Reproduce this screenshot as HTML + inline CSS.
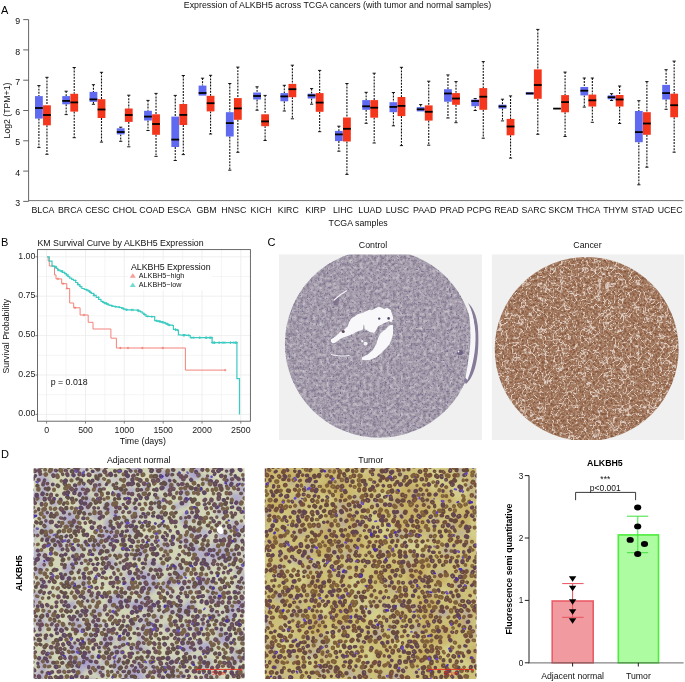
<!DOCTYPE html>
<html><head><meta charset="utf-8"><style>
html,body{margin:0;padding:0;background:#fff;width:685px;height:682px;overflow:hidden}
svg{display:block;will-change:transform}
</style></head><body>
<svg width="685" height="682" viewBox="0 0 685 682">
<text x="1" y="13.6" style="font-family:'Liberation Sans',sans-serif;font-size:11px" fill="#000">A</text>
<text x="337.5" y="8.2" text-anchor="middle" style="font-family:'Liberation Sans',sans-serif;font-size:8.8px" fill="#111">Expression of ALKBH5 across TCGA cancers (with tumor and normal samples)</text>
<line x1="28.6" y1="19.599999999999994" x2="28.6" y2="201.4" stroke="#666" stroke-width="1"/>
<line x1="28.3" y1="200.6" x2="683.5" y2="200.6" stroke="#777" stroke-width="1"/>
<line x1="23.2" y1="201.4" x2="28.6" y2="201.4" stroke="#555" stroke-width="0.9"/>
<text x="20.2" y="206.0" text-anchor="end" style="font-family:'Liberation Sans',sans-serif;font-size:8.8px" fill="#111">3</text>
<line x1="23.2" y1="171.1" x2="28.6" y2="171.1" stroke="#555" stroke-width="0.9"/>
<text x="20.2" y="175.7" text-anchor="end" style="font-family:'Liberation Sans',sans-serif;font-size:8.8px" fill="#111">4</text>
<line x1="23.2" y1="140.8" x2="28.6" y2="140.8" stroke="#555" stroke-width="0.9"/>
<text x="20.2" y="145.4" text-anchor="end" style="font-family:'Liberation Sans',sans-serif;font-size:8.8px" fill="#111">5</text>
<line x1="23.2" y1="110.5" x2="28.6" y2="110.5" stroke="#555" stroke-width="0.9"/>
<text x="20.2" y="115.1" text-anchor="end" style="font-family:'Liberation Sans',sans-serif;font-size:8.8px" fill="#111">6</text>
<line x1="23.2" y1="80.2" x2="28.6" y2="80.2" stroke="#555" stroke-width="0.9"/>
<text x="20.2" y="84.8" text-anchor="end" style="font-family:'Liberation Sans',sans-serif;font-size:8.8px" fill="#111">7</text>
<line x1="23.2" y1="49.9" x2="28.6" y2="49.9" stroke="#555" stroke-width="0.9"/>
<text x="20.2" y="54.5" text-anchor="end" style="font-family:'Liberation Sans',sans-serif;font-size:8.8px" fill="#111">8</text>
<line x1="23.2" y1="19.6" x2="28.6" y2="19.6" stroke="#555" stroke-width="0.9"/>
<text x="20.2" y="24.2" text-anchor="end" style="font-family:'Liberation Sans',sans-serif;font-size:8.8px" fill="#111">9</text>
<text transform="translate(10.2,110.5) rotate(-90)" text-anchor="middle" style="font-family:'Liberation Sans',sans-serif;font-size:8.7px" fill="#111">Log2 (TPM+1)</text>
<text x="358.2" y="225.5" text-anchor="middle" style="font-family:'Liberation Sans',sans-serif;font-size:8.8px" fill="#111">TCGA samples</text>
<text x="42.9" y="213.3" text-anchor="middle" style="font-family:'Liberation Sans',sans-serif;font-size:8.8px" fill="#111">BLCA</text>
<line x1="38.90" y1="85.6" x2="38.90" y2="96.1" stroke="#111" stroke-width="1.1" stroke-dasharray="1.9 1.2"/>
<line x1="37.30" y1="85.6" x2="40.50" y2="85.6" stroke="#000" stroke-width="0.9"/>
<line x1="38.90" y1="118.6" x2="38.90" y2="147.4" stroke="#111" stroke-width="1.1" stroke-dasharray="1.9 1.2"/>
<line x1="37.30" y1="147.4" x2="40.50" y2="147.4" stroke="#000" stroke-width="0.9"/>
<rect x="35.00" y="96.1" width="7.8" height="22.50" fill="#5f6af0"/>
<line x1="35.00" y1="108" x2="42.80" y2="108" stroke="#000" stroke-width="1.8"/>
<line x1="46.95" y1="77.3" x2="46.95" y2="105.3" stroke="#111" stroke-width="1.1" stroke-dasharray="1.9 1.2"/>
<line x1="45.35" y1="77.3" x2="48.55" y2="77.3" stroke="#000" stroke-width="0.9"/>
<line x1="46.95" y1="125.3" x2="46.95" y2="154.3" stroke="#111" stroke-width="1.1" stroke-dasharray="1.9 1.2"/>
<line x1="45.35" y1="154.3" x2="48.55" y2="154.3" stroke="#000" stroke-width="0.9"/>
<rect x="43.05" y="105.3" width="7.8" height="20.00" fill="#f4361c"/>
<line x1="43.05" y1="115" x2="50.85" y2="115" stroke="#000" stroke-width="1.8"/>
<text x="70.2" y="213.3" text-anchor="middle" style="font-family:'Liberation Sans',sans-serif;font-size:8.8px" fill="#111">BRCA</text>
<line x1="66.17" y1="91.2" x2="66.17" y2="96.1" stroke="#111" stroke-width="1.1" stroke-dasharray="1.9 1.2"/>
<line x1="64.57" y1="91.2" x2="67.77" y2="91.2" stroke="#000" stroke-width="0.9"/>
<line x1="66.17" y1="104.3" x2="66.17" y2="114.6" stroke="#111" stroke-width="1.1" stroke-dasharray="1.9 1.2"/>
<line x1="64.57" y1="114.6" x2="67.77" y2="114.6" stroke="#000" stroke-width="0.9"/>
<rect x="62.27" y="96.1" width="7.8" height="8.20" fill="#5f6af0"/>
<line x1="62.27" y1="100.9" x2="70.07" y2="100.9" stroke="#000" stroke-width="1.8"/>
<line x1="74.22" y1="67.5" x2="74.22" y2="93.8" stroke="#111" stroke-width="1.1" stroke-dasharray="1.9 1.2"/>
<line x1="72.62" y1="67.5" x2="75.82" y2="67.5" stroke="#000" stroke-width="0.9"/>
<line x1="74.22" y1="111.6" x2="74.22" y2="137.7" stroke="#111" stroke-width="1.1" stroke-dasharray="1.9 1.2"/>
<line x1="72.62" y1="137.7" x2="75.82" y2="137.7" stroke="#000" stroke-width="0.9"/>
<rect x="70.32" y="93.8" width="7.8" height="17.80" fill="#f4361c"/>
<line x1="70.32" y1="102.4" x2="78.12" y2="102.4" stroke="#000" stroke-width="1.8"/>
<text x="97.4" y="213.3" text-anchor="middle" style="font-family:'Liberation Sans',sans-serif;font-size:8.8px" fill="#111">CESC</text>
<line x1="93.44" y1="84.7" x2="93.44" y2="91.9" stroke="#111" stroke-width="1.1" stroke-dasharray="1.9 1.2"/>
<line x1="91.84" y1="84.7" x2="95.04" y2="84.7" stroke="#000" stroke-width="0.9"/>
<line x1="93.44" y1="101.8" x2="93.44" y2="104.3" stroke="#111" stroke-width="1.1" stroke-dasharray="1.9 1.2"/>
<line x1="91.84" y1="104.3" x2="95.04" y2="104.3" stroke="#000" stroke-width="0.9"/>
<rect x="89.54" y="91.9" width="7.8" height="9.90" fill="#5f6af0"/>
<line x1="89.54" y1="99.4" x2="97.34" y2="99.4" stroke="#000" stroke-width="1.8"/>
<line x1="101.49" y1="72.3" x2="101.49" y2="99.2" stroke="#111" stroke-width="1.1" stroke-dasharray="1.9 1.2"/>
<line x1="99.89" y1="72.3" x2="103.09" y2="72.3" stroke="#000" stroke-width="0.9"/>
<line x1="101.49" y1="118" x2="101.49" y2="142.1" stroke="#111" stroke-width="1.1" stroke-dasharray="1.9 1.2"/>
<line x1="99.89" y1="142.1" x2="103.09" y2="142.1" stroke="#000" stroke-width="0.9"/>
<rect x="97.59" y="99.2" width="7.8" height="18.80" fill="#f4361c"/>
<line x1="97.59" y1="109.5" x2="105.39" y2="109.5" stroke="#000" stroke-width="1.8"/>
<text x="124.7" y="213.3" text-anchor="middle" style="font-family:'Liberation Sans',sans-serif;font-size:8.8px" fill="#111">CHOL</text>
<line x1="120.71" y1="127.2" x2="120.71" y2="128.3" stroke="#111" stroke-width="1.1" stroke-dasharray="1.9 1.2"/>
<line x1="119.11" y1="127.2" x2="122.31" y2="127.2" stroke="#000" stroke-width="0.9"/>
<line x1="120.71" y1="134.4" x2="120.71" y2="141.3" stroke="#111" stroke-width="1.1" stroke-dasharray="1.9 1.2"/>
<line x1="119.11" y1="141.3" x2="122.31" y2="141.3" stroke="#000" stroke-width="0.9"/>
<rect x="116.81" y="128.3" width="7.8" height="6.10" fill="#5f6af0"/>
<line x1="116.81" y1="132" x2="124.61" y2="132" stroke="#000" stroke-width="1.8"/>
<line x1="128.76" y1="95.2" x2="128.76" y2="108.5" stroke="#111" stroke-width="1.1" stroke-dasharray="1.9 1.2"/>
<line x1="127.16" y1="95.2" x2="130.36" y2="95.2" stroke="#000" stroke-width="0.9"/>
<line x1="128.76" y1="121.9" x2="128.76" y2="146.8" stroke="#111" stroke-width="1.1" stroke-dasharray="1.9 1.2"/>
<line x1="127.16" y1="146.8" x2="130.36" y2="146.8" stroke="#000" stroke-width="0.9"/>
<rect x="124.86" y="108.5" width="7.8" height="13.40" fill="#f4361c"/>
<line x1="124.86" y1="115" x2="132.66" y2="115" stroke="#000" stroke-width="1.8"/>
<text x="152.0" y="213.3" text-anchor="middle" style="font-family:'Liberation Sans',sans-serif;font-size:8.8px" fill="#111">COAD</text>
<line x1="147.98" y1="100.4" x2="147.98" y2="110.8" stroke="#111" stroke-width="1.1" stroke-dasharray="1.9 1.2"/>
<line x1="146.38" y1="100.4" x2="149.58" y2="100.4" stroke="#000" stroke-width="0.9"/>
<line x1="147.98" y1="120.5" x2="147.98" y2="130.5" stroke="#111" stroke-width="1.1" stroke-dasharray="1.9 1.2"/>
<line x1="146.38" y1="130.5" x2="149.58" y2="130.5" stroke="#000" stroke-width="0.9"/>
<rect x="144.08" y="110.8" width="7.8" height="9.70" fill="#5f6af0"/>
<line x1="144.08" y1="116.6" x2="151.88" y2="116.6" stroke="#000" stroke-width="1.8"/>
<line x1="156.03" y1="93.4" x2="156.03" y2="114.3" stroke="#111" stroke-width="1.1" stroke-dasharray="1.9 1.2"/>
<line x1="154.43" y1="93.4" x2="157.63" y2="93.4" stroke="#000" stroke-width="0.9"/>
<line x1="156.03" y1="134.8" x2="156.03" y2="156.4" stroke="#111" stroke-width="1.1" stroke-dasharray="1.9 1.2"/>
<line x1="154.43" y1="156.4" x2="157.63" y2="156.4" stroke="#000" stroke-width="0.9"/>
<rect x="152.13" y="114.3" width="7.8" height="20.50" fill="#f4361c"/>
<line x1="152.13" y1="124" x2="159.93" y2="124" stroke="#000" stroke-width="1.8"/>
<text x="179.2" y="213.3" text-anchor="middle" style="font-family:'Liberation Sans',sans-serif;font-size:8.8px" fill="#111">ESCA</text>
<line x1="175.25" y1="95.4" x2="175.25" y2="116.6" stroke="#111" stroke-width="1.1" stroke-dasharray="1.9 1.2"/>
<line x1="173.65" y1="95.4" x2="176.85" y2="95.4" stroke="#000" stroke-width="0.9"/>
<line x1="175.25" y1="147" x2="175.25" y2="160.5" stroke="#111" stroke-width="1.1" stroke-dasharray="1.9 1.2"/>
<line x1="173.65" y1="160.5" x2="176.85" y2="160.5" stroke="#000" stroke-width="0.9"/>
<rect x="171.35" y="116.6" width="7.8" height="30.40" fill="#5f6af0"/>
<line x1="171.35" y1="139.6" x2="179.15" y2="139.6" stroke="#000" stroke-width="1.8"/>
<line x1="183.30" y1="75.5" x2="183.30" y2="104" stroke="#111" stroke-width="1.1" stroke-dasharray="1.9 1.2"/>
<line x1="181.70" y1="75.5" x2="184.90" y2="75.5" stroke="#000" stroke-width="0.9"/>
<line x1="183.30" y1="125" x2="183.30" y2="154.6" stroke="#111" stroke-width="1.1" stroke-dasharray="1.9 1.2"/>
<line x1="181.70" y1="154.6" x2="184.90" y2="154.6" stroke="#000" stroke-width="0.9"/>
<rect x="179.40" y="104" width="7.8" height="21.00" fill="#f4361c"/>
<line x1="179.40" y1="114.9" x2="187.20" y2="114.9" stroke="#000" stroke-width="1.8"/>
<text x="206.5" y="213.3" text-anchor="middle" style="font-family:'Liberation Sans',sans-serif;font-size:8.8px" fill="#111">GBM</text>
<line x1="202.52" y1="78.2" x2="202.52" y2="85.6" stroke="#111" stroke-width="1.1" stroke-dasharray="1.9 1.2"/>
<line x1="200.92" y1="78.2" x2="204.12" y2="78.2" stroke="#000" stroke-width="0.9"/>
<rect x="198.62" y="85.6" width="7.8" height="10.00" fill="#5f6af0"/>
<line x1="198.62" y1="93" x2="206.42" y2="93" stroke="#000" stroke-width="1.8"/>
<line x1="210.57" y1="75.3" x2="210.57" y2="95.8" stroke="#111" stroke-width="1.1" stroke-dasharray="1.9 1.2"/>
<line x1="208.97" y1="75.3" x2="212.17" y2="75.3" stroke="#000" stroke-width="0.9"/>
<line x1="210.57" y1="111.4" x2="210.57" y2="134" stroke="#111" stroke-width="1.1" stroke-dasharray="1.9 1.2"/>
<line x1="208.97" y1="134" x2="212.17" y2="134" stroke="#000" stroke-width="0.9"/>
<rect x="206.67" y="95.8" width="7.8" height="15.60" fill="#f4361c"/>
<line x1="206.67" y1="103.2" x2="214.47" y2="103.2" stroke="#000" stroke-width="1.8"/>
<text x="233.8" y="213.3" text-anchor="middle" style="font-family:'Liberation Sans',sans-serif;font-size:8.8px" fill="#111">HNSC</text>
<line x1="229.79" y1="83.5" x2="229.79" y2="112.2" stroke="#111" stroke-width="1.1" stroke-dasharray="1.9 1.2"/>
<line x1="228.19" y1="83.5" x2="231.39" y2="83.5" stroke="#000" stroke-width="0.9"/>
<line x1="229.79" y1="136.5" x2="229.79" y2="170.2" stroke="#111" stroke-width="1.1" stroke-dasharray="1.9 1.2"/>
<line x1="228.19" y1="170.2" x2="231.39" y2="170.2" stroke="#000" stroke-width="0.9"/>
<rect x="225.89" y="112.2" width="7.8" height="24.30" fill="#5f6af0"/>
<line x1="225.89" y1="123.1" x2="233.69" y2="123.1" stroke="#000" stroke-width="1.8"/>
<line x1="237.84" y1="67.1" x2="237.84" y2="98.1" stroke="#111" stroke-width="1.1" stroke-dasharray="1.9 1.2"/>
<line x1="236.24" y1="67.1" x2="239.44" y2="67.1" stroke="#000" stroke-width="0.9"/>
<line x1="237.84" y1="119.8" x2="237.84" y2="152.3" stroke="#111" stroke-width="1.1" stroke-dasharray="1.9 1.2"/>
<line x1="236.24" y1="152.3" x2="239.44" y2="152.3" stroke="#000" stroke-width="0.9"/>
<rect x="233.94" y="98.1" width="7.8" height="21.70" fill="#f4361c"/>
<line x1="233.94" y1="108.4" x2="241.74" y2="108.4" stroke="#000" stroke-width="1.8"/>
<text x="261.1" y="213.3" text-anchor="middle" style="font-family:'Liberation Sans',sans-serif;font-size:8.8px" fill="#111">KICH</text>
<line x1="257.06" y1="86.8" x2="257.06" y2="92.5" stroke="#111" stroke-width="1.1" stroke-dasharray="1.9 1.2"/>
<line x1="255.46" y1="86.8" x2="258.66" y2="86.8" stroke="#000" stroke-width="0.9"/>
<line x1="257.06" y1="99.5" x2="257.06" y2="110.2" stroke="#111" stroke-width="1.1" stroke-dasharray="1.9 1.2"/>
<line x1="255.46" y1="110.2" x2="258.66" y2="110.2" stroke="#000" stroke-width="0.9"/>
<rect x="253.16" y="92.5" width="7.8" height="7.00" fill="#5f6af0"/>
<line x1="253.16" y1="96" x2="260.96" y2="96" stroke="#000" stroke-width="1.8"/>
<line x1="265.11" y1="95.4" x2="265.11" y2="114.3" stroke="#111" stroke-width="1.1" stroke-dasharray="1.9 1.2"/>
<line x1="263.51" y1="95.4" x2="266.71" y2="95.4" stroke="#000" stroke-width="0.9"/>
<line x1="265.11" y1="126.2" x2="265.11" y2="140.5" stroke="#111" stroke-width="1.1" stroke-dasharray="1.9 1.2"/>
<line x1="263.51" y1="140.5" x2="266.71" y2="140.5" stroke="#000" stroke-width="0.9"/>
<rect x="261.21" y="114.3" width="7.8" height="11.90" fill="#f4361c"/>
<line x1="261.21" y1="121.4" x2="269.01" y2="121.4" stroke="#000" stroke-width="1.8"/>
<text x="288.3" y="213.3" text-anchor="middle" style="font-family:'Liberation Sans',sans-serif;font-size:8.8px" fill="#111">KIRC</text>
<line x1="284.33" y1="85.3" x2="284.33" y2="93.1" stroke="#111" stroke-width="1.1" stroke-dasharray="1.9 1.2"/>
<line x1="282.73" y1="85.3" x2="285.93" y2="85.3" stroke="#000" stroke-width="0.9"/>
<line x1="284.33" y1="101.3" x2="284.33" y2="111" stroke="#111" stroke-width="1.1" stroke-dasharray="1.9 1.2"/>
<line x1="282.73" y1="111" x2="285.93" y2="111" stroke="#000" stroke-width="0.9"/>
<rect x="280.43" y="93.1" width="7.8" height="8.20" fill="#5f6af0"/>
<line x1="280.43" y1="96.4" x2="288.23" y2="96.4" stroke="#000" stroke-width="1.8"/>
<line x1="292.38" y1="65.2" x2="292.38" y2="83.9" stroke="#111" stroke-width="1.1" stroke-dasharray="1.9 1.2"/>
<line x1="290.78" y1="65.2" x2="293.98" y2="65.2" stroke="#000" stroke-width="0.9"/>
<line x1="292.38" y1="97.2" x2="292.38" y2="118.8" stroke="#111" stroke-width="1.1" stroke-dasharray="1.9 1.2"/>
<line x1="290.78" y1="118.8" x2="293.98" y2="118.8" stroke="#000" stroke-width="0.9"/>
<rect x="288.48" y="83.9" width="7.8" height="13.30" fill="#f4361c"/>
<line x1="288.48" y1="89.2" x2="296.28" y2="89.2" stroke="#000" stroke-width="1.8"/>
<text x="315.6" y="213.3" text-anchor="middle" style="font-family:'Liberation Sans',sans-serif;font-size:8.8px" fill="#111">KIRP</text>
<line x1="311.60" y1="88.6" x2="311.60" y2="93.7" stroke="#111" stroke-width="1.1" stroke-dasharray="1.9 1.2"/>
<line x1="310.00" y1="88.6" x2="313.20" y2="88.6" stroke="#000" stroke-width="0.9"/>
<line x1="311.60" y1="98.5" x2="311.60" y2="104.2" stroke="#111" stroke-width="1.1" stroke-dasharray="1.9 1.2"/>
<line x1="310.00" y1="104.2" x2="313.20" y2="104.2" stroke="#000" stroke-width="0.9"/>
<rect x="307.70" y="93.7" width="7.8" height="4.80" fill="#5f6af0"/>
<line x1="307.70" y1="95.4" x2="315.50" y2="95.4" stroke="#000" stroke-width="1.8"/>
<line x1="319.65" y1="70.4" x2="319.65" y2="93.1" stroke="#111" stroke-width="1.1" stroke-dasharray="1.9 1.2"/>
<line x1="318.05" y1="70.4" x2="321.25" y2="70.4" stroke="#000" stroke-width="0.9"/>
<line x1="319.65" y1="111.8" x2="319.65" y2="131.7" stroke="#111" stroke-width="1.1" stroke-dasharray="1.9 1.2"/>
<line x1="318.05" y1="131.7" x2="321.25" y2="131.7" stroke="#000" stroke-width="0.9"/>
<rect x="315.75" y="93.1" width="7.8" height="18.70" fill="#f4361c"/>
<line x1="315.75" y1="102.6" x2="323.55" y2="102.6" stroke="#000" stroke-width="1.8"/>
<text x="342.9" y="213.3" text-anchor="middle" style="font-family:'Liberation Sans',sans-serif;font-size:8.8px" fill="#111">LIHC</text>
<line x1="338.87" y1="126.2" x2="338.87" y2="130.9" stroke="#111" stroke-width="1.1" stroke-dasharray="1.9 1.2"/>
<line x1="337.27" y1="126.2" x2="340.47" y2="126.2" stroke="#000" stroke-width="0.9"/>
<line x1="338.87" y1="141.1" x2="338.87" y2="151.2" stroke="#111" stroke-width="1.1" stroke-dasharray="1.9 1.2"/>
<line x1="337.27" y1="151.2" x2="340.47" y2="151.2" stroke="#000" stroke-width="0.9"/>
<rect x="334.97" y="130.9" width="7.8" height="10.20" fill="#5f6af0"/>
<line x1="334.97" y1="134.4" x2="342.77" y2="134.4" stroke="#000" stroke-width="1.8"/>
<line x1="346.92" y1="83.5" x2="346.92" y2="117.5" stroke="#111" stroke-width="1.1" stroke-dasharray="1.9 1.2"/>
<line x1="345.32" y1="83.5" x2="348.52" y2="83.5" stroke="#000" stroke-width="0.9"/>
<line x1="346.92" y1="141.5" x2="346.92" y2="174.4" stroke="#111" stroke-width="1.1" stroke-dasharray="1.9 1.2"/>
<line x1="345.32" y1="174.4" x2="348.52" y2="174.4" stroke="#000" stroke-width="0.9"/>
<rect x="343.02" y="117.5" width="7.8" height="24.00" fill="#f4361c"/>
<line x1="343.02" y1="128.8" x2="350.82" y2="128.8" stroke="#000" stroke-width="1.8"/>
<text x="370.1" y="213.3" text-anchor="middle" style="font-family:'Liberation Sans',sans-serif;font-size:8.8px" fill="#111">LUAD</text>
<line x1="366.14" y1="92.3" x2="366.14" y2="100.1" stroke="#111" stroke-width="1.1" stroke-dasharray="1.9 1.2"/>
<line x1="364.54" y1="92.3" x2="367.74" y2="92.3" stroke="#000" stroke-width="0.9"/>
<line x1="366.14" y1="109.8" x2="366.14" y2="123.3" stroke="#111" stroke-width="1.1" stroke-dasharray="1.9 1.2"/>
<line x1="364.54" y1="123.3" x2="367.74" y2="123.3" stroke="#000" stroke-width="0.9"/>
<rect x="362.24" y="100.1" width="7.8" height="9.70" fill="#5f6af0"/>
<line x1="362.24" y1="106.3" x2="370.04" y2="106.3" stroke="#000" stroke-width="1.8"/>
<line x1="374.19" y1="73.2" x2="374.19" y2="100.1" stroke="#111" stroke-width="1.1" stroke-dasharray="1.9 1.2"/>
<line x1="372.59" y1="73.2" x2="375.79" y2="73.2" stroke="#000" stroke-width="0.9"/>
<line x1="374.19" y1="117.7" x2="374.19" y2="143" stroke="#111" stroke-width="1.1" stroke-dasharray="1.9 1.2"/>
<line x1="372.59" y1="143" x2="375.79" y2="143" stroke="#000" stroke-width="0.9"/>
<rect x="370.29" y="100.1" width="7.8" height="17.60" fill="#f4361c"/>
<line x1="370.29" y1="107.7" x2="378.09" y2="107.7" stroke="#000" stroke-width="1.8"/>
<text x="397.4" y="213.3" text-anchor="middle" style="font-family:'Liberation Sans',sans-serif;font-size:8.8px" fill="#111">LUSC</text>
<line x1="393.41" y1="92.5" x2="393.41" y2="102.2" stroke="#111" stroke-width="1.1" stroke-dasharray="1.9 1.2"/>
<line x1="391.81" y1="92.5" x2="395.01" y2="92.5" stroke="#000" stroke-width="0.9"/>
<line x1="393.41" y1="112.2" x2="393.41" y2="125.8" stroke="#111" stroke-width="1.1" stroke-dasharray="1.9 1.2"/>
<line x1="391.81" y1="125.8" x2="395.01" y2="125.8" stroke="#000" stroke-width="0.9"/>
<rect x="389.51" y="102.2" width="7.8" height="10.00" fill="#5f6af0"/>
<line x1="389.51" y1="106.9" x2="397.31" y2="106.9" stroke="#000" stroke-width="1.8"/>
<line x1="401.46" y1="67.3" x2="401.46" y2="97" stroke="#111" stroke-width="1.1" stroke-dasharray="1.9 1.2"/>
<line x1="399.86" y1="67.3" x2="403.06" y2="67.3" stroke="#000" stroke-width="0.9"/>
<line x1="401.46" y1="116.1" x2="401.46" y2="145.6" stroke="#111" stroke-width="1.1" stroke-dasharray="1.9 1.2"/>
<line x1="399.86" y1="145.6" x2="403.06" y2="145.6" stroke="#000" stroke-width="0.9"/>
<rect x="397.56" y="97" width="7.8" height="19.10" fill="#f4361c"/>
<line x1="397.56" y1="105.9" x2="405.36" y2="105.9" stroke="#000" stroke-width="1.8"/>
<text x="424.7" y="213.3" text-anchor="middle" style="font-family:'Liberation Sans',sans-serif;font-size:8.8px" fill="#111">PAAD</text>
<line x1="420.68" y1="104.6" x2="420.68" y2="107.1" stroke="#111" stroke-width="1.1" stroke-dasharray="1.9 1.2"/>
<line x1="419.08" y1="104.6" x2="422.28" y2="104.6" stroke="#000" stroke-width="0.9"/>
<rect x="416.78" y="107.1" width="7.8" height="4.30" fill="#5f6af0"/>
<line x1="416.78" y1="109.3" x2="424.58" y2="109.3" stroke="#000" stroke-width="1.8"/>
<line x1="428.73" y1="81.2" x2="428.73" y2="105.4" stroke="#111" stroke-width="1.1" stroke-dasharray="1.9 1.2"/>
<line x1="427.13" y1="81.2" x2="430.33" y2="81.2" stroke="#000" stroke-width="0.9"/>
<line x1="428.73" y1="120.6" x2="428.73" y2="145.2" stroke="#111" stroke-width="1.1" stroke-dasharray="1.9 1.2"/>
<line x1="427.13" y1="145.2" x2="430.33" y2="145.2" stroke="#000" stroke-width="0.9"/>
<rect x="424.83" y="105.4" width="7.8" height="15.20" fill="#f4361c"/>
<line x1="424.83" y1="111.8" x2="432.63" y2="111.8" stroke="#000" stroke-width="1.8"/>
<text x="451.9" y="213.3" text-anchor="middle" style="font-family:'Liberation Sans',sans-serif;font-size:8.8px" fill="#111">PRAD</text>
<line x1="447.95" y1="74.9" x2="447.95" y2="89.2" stroke="#111" stroke-width="1.1" stroke-dasharray="1.9 1.2"/>
<line x1="446.35" y1="74.9" x2="449.55" y2="74.9" stroke="#000" stroke-width="0.9"/>
<line x1="447.95" y1="101.7" x2="447.95" y2="118" stroke="#111" stroke-width="1.1" stroke-dasharray="1.9 1.2"/>
<line x1="446.35" y1="118" x2="449.55" y2="118" stroke="#000" stroke-width="0.9"/>
<rect x="444.05" y="89.2" width="7.8" height="12.50" fill="#5f6af0"/>
<line x1="444.05" y1="93.5" x2="451.85" y2="93.5" stroke="#000" stroke-width="1.8"/>
<line x1="456.00" y1="81.6" x2="456.00" y2="93.1" stroke="#111" stroke-width="1.1" stroke-dasharray="1.9 1.2"/>
<line x1="454.40" y1="81.6" x2="457.60" y2="81.6" stroke="#000" stroke-width="0.9"/>
<line x1="456.00" y1="104.8" x2="456.00" y2="122.7" stroke="#111" stroke-width="1.1" stroke-dasharray="1.9 1.2"/>
<line x1="454.40" y1="122.7" x2="457.60" y2="122.7" stroke="#000" stroke-width="0.9"/>
<rect x="452.10" y="93.1" width="7.8" height="11.70" fill="#f4361c"/>
<line x1="452.10" y1="98.5" x2="459.90" y2="98.5" stroke="#000" stroke-width="1.8"/>
<text x="479.2" y="213.3" text-anchor="middle" style="font-family:'Liberation Sans',sans-serif;font-size:8.8px" fill="#111">PCPG</text>
<line x1="475.22" y1="98.6" x2="475.22" y2="99.6" stroke="#111" stroke-width="1.1" stroke-dasharray="1.9 1.2"/>
<line x1="473.62" y1="98.6" x2="476.82" y2="98.6" stroke="#000" stroke-width="0.9"/>
<line x1="475.22" y1="106.2" x2="475.22" y2="110.5" stroke="#111" stroke-width="1.1" stroke-dasharray="1.9 1.2"/>
<line x1="473.62" y1="110.5" x2="476.82" y2="110.5" stroke="#000" stroke-width="0.9"/>
<rect x="471.32" y="99.6" width="7.8" height="6.60" fill="#5f6af0"/>
<line x1="471.32" y1="101" x2="479.12" y2="101" stroke="#000" stroke-width="1.8"/>
<line x1="483.27" y1="61.6" x2="483.27" y2="88.1" stroke="#111" stroke-width="1.1" stroke-dasharray="1.9 1.2"/>
<line x1="481.67" y1="61.6" x2="484.87" y2="61.6" stroke="#000" stroke-width="0.9"/>
<line x1="483.27" y1="109.8" x2="483.27" y2="138.2" stroke="#111" stroke-width="1.1" stroke-dasharray="1.9 1.2"/>
<line x1="481.67" y1="138.2" x2="484.87" y2="138.2" stroke="#000" stroke-width="0.9"/>
<rect x="479.37" y="88.1" width="7.8" height="21.70" fill="#f4361c"/>
<line x1="479.37" y1="96.7" x2="487.17" y2="96.7" stroke="#000" stroke-width="1.8"/>
<text x="506.5" y="213.3" text-anchor="middle" style="font-family:'Liberation Sans',sans-serif;font-size:8.8px" fill="#111">READ</text>
<line x1="502.49" y1="99.2" x2="502.49" y2="104.7" stroke="#111" stroke-width="1.1" stroke-dasharray="1.9 1.2"/>
<line x1="500.89" y1="99.2" x2="504.09" y2="99.2" stroke="#000" stroke-width="0.9"/>
<line x1="502.49" y1="108.6" x2="502.49" y2="120.9" stroke="#111" stroke-width="1.1" stroke-dasharray="1.9 1.2"/>
<line x1="500.89" y1="120.9" x2="504.09" y2="120.9" stroke="#000" stroke-width="0.9"/>
<rect x="498.59" y="104.7" width="7.8" height="3.90" fill="#5f6af0"/>
<line x1="498.59" y1="106.4" x2="506.39" y2="106.4" stroke="#000" stroke-width="1.8"/>
<line x1="510.54" y1="95.9" x2="510.54" y2="118.9" stroke="#111" stroke-width="1.1" stroke-dasharray="1.9 1.2"/>
<line x1="508.94" y1="95.9" x2="512.14" y2="95.9" stroke="#000" stroke-width="0.9"/>
<line x1="510.54" y1="135.3" x2="510.54" y2="158.1" stroke="#111" stroke-width="1.1" stroke-dasharray="1.9 1.2"/>
<line x1="508.94" y1="158.1" x2="512.14" y2="158.1" stroke="#000" stroke-width="0.9"/>
<rect x="506.64" y="118.9" width="7.8" height="16.40" fill="#f4361c"/>
<line x1="506.64" y1="126.5" x2="514.44" y2="126.5" stroke="#000" stroke-width="1.8"/>
<text x="533.8" y="213.3" text-anchor="middle" style="font-family:'Liberation Sans',sans-serif;font-size:8.8px" fill="#111">SARC</text>
<rect x="525.86" y="92.2" width="7.8" height="2.50" fill="#5f6af0"/>
<line x1="525.86" y1="93.4" x2="533.66" y2="93.4" stroke="#000" stroke-width="1.8"/>
<line x1="537.81" y1="29.4" x2="537.81" y2="69.4" stroke="#111" stroke-width="1.1" stroke-dasharray="1.9 1.2"/>
<line x1="536.21" y1="29.4" x2="539.41" y2="29.4" stroke="#000" stroke-width="0.9"/>
<line x1="537.81" y1="98.8" x2="537.81" y2="134.3" stroke="#111" stroke-width="1.1" stroke-dasharray="1.9 1.2"/>
<line x1="536.21" y1="134.3" x2="539.41" y2="134.3" stroke="#000" stroke-width="0.9"/>
<rect x="533.91" y="69.4" width="7.8" height="29.40" fill="#f4361c"/>
<line x1="533.91" y1="85" x2="541.71" y2="85" stroke="#000" stroke-width="1.8"/>
<text x="561.0" y="213.3" text-anchor="middle" style="font-family:'Liberation Sans',sans-serif;font-size:8.8px" fill="#111">SKCM</text>
<line x1="553.13" y1="108.6" x2="560.93" y2="108.6" stroke="#000" stroke-width="1.8"/>
<line x1="565.08" y1="72.1" x2="565.08" y2="95.1" stroke="#111" stroke-width="1.1" stroke-dasharray="1.9 1.2"/>
<line x1="563.48" y1="72.1" x2="566.68" y2="72.1" stroke="#000" stroke-width="0.9"/>
<line x1="565.08" y1="112.3" x2="565.08" y2="136.5" stroke="#111" stroke-width="1.1" stroke-dasharray="1.9 1.2"/>
<line x1="563.48" y1="136.5" x2="566.68" y2="136.5" stroke="#000" stroke-width="0.9"/>
<rect x="561.18" y="95.1" width="7.8" height="17.20" fill="#f4361c"/>
<line x1="561.18" y1="102.1" x2="568.98" y2="102.1" stroke="#000" stroke-width="1.8"/>
<text x="588.3" y="213.3" text-anchor="middle" style="font-family:'Liberation Sans',sans-serif;font-size:8.8px" fill="#111">THCA</text>
<line x1="584.30" y1="78" x2="584.30" y2="87" stroke="#111" stroke-width="1.1" stroke-dasharray="1.9 1.2"/>
<line x1="582.70" y1="78" x2="585.90" y2="78" stroke="#000" stroke-width="0.9"/>
<line x1="584.30" y1="95.4" x2="584.30" y2="107.1" stroke="#111" stroke-width="1.1" stroke-dasharray="1.9 1.2"/>
<line x1="582.70" y1="107.1" x2="585.90" y2="107.1" stroke="#000" stroke-width="0.9"/>
<rect x="580.40" y="87" width="7.8" height="8.40" fill="#5f6af0"/>
<line x1="580.40" y1="90.7" x2="588.20" y2="90.7" stroke="#000" stroke-width="1.8"/>
<line x1="592.35" y1="78" x2="592.35" y2="94.6" stroke="#111" stroke-width="1.1" stroke-dasharray="1.9 1.2"/>
<line x1="590.75" y1="78" x2="593.95" y2="78" stroke="#000" stroke-width="0.9"/>
<line x1="592.35" y1="106.5" x2="592.35" y2="122.3" stroke="#111" stroke-width="1.1" stroke-dasharray="1.9 1.2"/>
<line x1="590.75" y1="122.3" x2="593.95" y2="122.3" stroke="#000" stroke-width="0.9"/>
<rect x="588.45" y="94.6" width="7.8" height="11.90" fill="#f4361c"/>
<line x1="588.45" y1="100.3" x2="596.25" y2="100.3" stroke="#000" stroke-width="1.8"/>
<text x="615.6" y="213.3" text-anchor="middle" style="font-family:'Liberation Sans',sans-serif;font-size:8.8px" fill="#111">THYM</text>
<line x1="611.57" y1="93.7" x2="611.57" y2="95.4" stroke="#111" stroke-width="1.1" stroke-dasharray="1.9 1.2"/>
<line x1="609.97" y1="93.7" x2="613.17" y2="93.7" stroke="#000" stroke-width="0.9"/>
<line x1="611.57" y1="99.3" x2="611.57" y2="100.5" stroke="#111" stroke-width="1.1" stroke-dasharray="1.9 1.2"/>
<line x1="609.97" y1="100.5" x2="613.17" y2="100.5" stroke="#000" stroke-width="0.9"/>
<rect x="607.67" y="95.4" width="7.8" height="3.90" fill="#5f6af0"/>
<line x1="607.67" y1="97.2" x2="615.47" y2="97.2" stroke="#000" stroke-width="1.8"/>
<line x1="619.62" y1="86" x2="619.62" y2="95" stroke="#111" stroke-width="1.1" stroke-dasharray="1.9 1.2"/>
<line x1="618.02" y1="86" x2="621.22" y2="86" stroke="#000" stroke-width="0.9"/>
<line x1="619.62" y1="106.5" x2="619.62" y2="123.5" stroke="#111" stroke-width="1.1" stroke-dasharray="1.9 1.2"/>
<line x1="618.02" y1="123.5" x2="621.22" y2="123.5" stroke="#000" stroke-width="0.9"/>
<rect x="615.72" y="95" width="7.8" height="11.50" fill="#f4361c"/>
<line x1="615.72" y1="99.5" x2="623.52" y2="99.5" stroke="#000" stroke-width="1.8"/>
<text x="642.8" y="213.3" text-anchor="middle" style="font-family:'Liberation Sans',sans-serif;font-size:8.8px" fill="#111">STAD</text>
<line x1="638.84" y1="100.7" x2="638.84" y2="111" stroke="#111" stroke-width="1.1" stroke-dasharray="1.9 1.2"/>
<line x1="637.24" y1="100.7" x2="640.44" y2="100.7" stroke="#000" stroke-width="0.9"/>
<line x1="638.84" y1="142.2" x2="638.84" y2="184.8" stroke="#111" stroke-width="1.1" stroke-dasharray="1.9 1.2"/>
<line x1="637.24" y1="184.8" x2="640.44" y2="184.8" stroke="#000" stroke-width="0.9"/>
<rect x="634.94" y="111" width="7.8" height="31.20" fill="#5f6af0"/>
<line x1="634.94" y1="132.1" x2="642.74" y2="132.1" stroke="#000" stroke-width="1.8"/>
<line x1="646.89" y1="81.6" x2="646.89" y2="112.2" stroke="#111" stroke-width="1.1" stroke-dasharray="1.9 1.2"/>
<line x1="645.29" y1="81.6" x2="648.49" y2="81.6" stroke="#000" stroke-width="0.9"/>
<line x1="646.89" y1="134.8" x2="646.89" y2="167.2" stroke="#111" stroke-width="1.1" stroke-dasharray="1.9 1.2"/>
<line x1="645.29" y1="167.2" x2="648.49" y2="167.2" stroke="#000" stroke-width="0.9"/>
<rect x="642.99" y="112.2" width="7.8" height="22.60" fill="#f4361c"/>
<line x1="642.99" y1="123.5" x2="650.79" y2="123.5" stroke="#000" stroke-width="1.8"/>
<text x="670.1" y="213.3" text-anchor="middle" style="font-family:'Liberation Sans',sans-serif;font-size:8.8px" fill="#111">UCEC</text>
<line x1="666.11" y1="69.7" x2="666.11" y2="84.9" stroke="#111" stroke-width="1.1" stroke-dasharray="1.9 1.2"/>
<line x1="664.51" y1="69.7" x2="667.71" y2="69.7" stroke="#000" stroke-width="0.9"/>
<line x1="666.11" y1="99.5" x2="666.11" y2="109.3" stroke="#111" stroke-width="1.1" stroke-dasharray="1.9 1.2"/>
<line x1="664.51" y1="109.3" x2="667.71" y2="109.3" stroke="#000" stroke-width="0.9"/>
<rect x="662.21" y="84.9" width="7.8" height="14.60" fill="#5f6af0"/>
<line x1="662.21" y1="93.1" x2="670.01" y2="93.1" stroke="#000" stroke-width="1.8"/>
<line x1="674.16" y1="61.1" x2="674.16" y2="93.7" stroke="#111" stroke-width="1.1" stroke-dasharray="1.9 1.2"/>
<line x1="672.56" y1="61.1" x2="675.76" y2="61.1" stroke="#000" stroke-width="0.9"/>
<line x1="674.16" y1="117.3" x2="674.16" y2="152.2" stroke="#111" stroke-width="1.1" stroke-dasharray="1.9 1.2"/>
<line x1="672.56" y1="152.2" x2="675.76" y2="152.2" stroke="#000" stroke-width="0.9"/>
<rect x="670.26" y="93.7" width="7.8" height="23.60" fill="#f4361c"/>
<line x1="670.26" y1="105.2" x2="678.06" y2="105.2" stroke="#000" stroke-width="1.8"/>
<text x="0.9" y="245.5" style="font-family:'Liberation Sans',sans-serif;font-size:11px" fill="#000">B</text>
<text x="37.4" y="246" style="font-family:'Liberation Sans',sans-serif;font-size:8.8px" fill="#111">KM Survival Curve by ALKBH5 Expression</text>
<rect x="37.4" y="249.6" width="213" height="171.5" fill="#fff"/>
<line x1="46.6" y1="249.6" x2="46.6" y2="421.1" stroke="#ebebeb" stroke-width="0.8"/>
<line x1="66.0" y1="249.6" x2="66.0" y2="421.1" stroke="#ebebeb" stroke-width="0.5"/>
<line x1="85.5" y1="249.6" x2="85.5" y2="421.1" stroke="#ebebeb" stroke-width="0.8"/>
<line x1="104.9" y1="249.6" x2="104.9" y2="421.1" stroke="#ebebeb" stroke-width="0.5"/>
<line x1="124.3" y1="249.6" x2="124.3" y2="421.1" stroke="#ebebeb" stroke-width="0.8"/>
<line x1="143.7" y1="249.6" x2="143.7" y2="421.1" stroke="#ebebeb" stroke-width="0.5"/>
<line x1="163.2" y1="249.6" x2="163.2" y2="421.1" stroke="#ebebeb" stroke-width="0.8"/>
<line x1="182.6" y1="249.6" x2="182.6" y2="421.1" stroke="#ebebeb" stroke-width="0.5"/>
<line x1="202.0" y1="249.6" x2="202.0" y2="421.1" stroke="#ebebeb" stroke-width="0.8"/>
<line x1="221.4" y1="249.6" x2="221.4" y2="421.1" stroke="#ebebeb" stroke-width="0.5"/>
<line x1="240.8" y1="249.6" x2="240.8" y2="421.1" stroke="#ebebeb" stroke-width="0.8"/>
<line x1="37.4" y1="414.4" x2="250.4" y2="414.4" stroke="#ebebeb" stroke-width="0.8"/>
<line x1="37.4" y1="394.7" x2="250.4" y2="394.7" stroke="#ebebeb" stroke-width="0.5"/>
<line x1="37.4" y1="375.0" x2="250.4" y2="375.0" stroke="#ebebeb" stroke-width="0.8"/>
<line x1="37.4" y1="355.3" x2="250.4" y2="355.3" stroke="#ebebeb" stroke-width="0.5"/>
<line x1="37.4" y1="335.6" x2="250.4" y2="335.6" stroke="#ebebeb" stroke-width="0.8"/>
<line x1="37.4" y1="315.9" x2="250.4" y2="315.9" stroke="#ebebeb" stroke-width="0.5"/>
<line x1="37.4" y1="296.2" x2="250.4" y2="296.2" stroke="#ebebeb" stroke-width="0.8"/>
<line x1="37.4" y1="276.5" x2="250.4" y2="276.5" stroke="#ebebeb" stroke-width="0.5"/>
<line x1="37.4" y1="256.8" x2="250.4" y2="256.8" stroke="#ebebeb" stroke-width="0.8"/>
<rect x="37.5" y="249.6" width="212.9" height="171.6" fill="none" stroke="#5a5a5a" stroke-width="0.9"/>
<line x1="35.4" y1="414.4" x2="37.4" y2="414.4" stroke="#333" stroke-width="0.6"/>
<text x="35.4" y="416.1" text-anchor="end" style="font-family:'Liberation Sans',sans-serif;font-size:8.8px" fill="#222">0.00</text>
<line x1="35.4" y1="375.0" x2="37.4" y2="375.0" stroke="#333" stroke-width="0.6"/>
<text x="35.4" y="376.7" text-anchor="end" style="font-family:'Liberation Sans',sans-serif;font-size:8.8px" fill="#222">0.25</text>
<line x1="35.4" y1="335.6" x2="37.4" y2="335.6" stroke="#333" stroke-width="0.6"/>
<text x="35.4" y="337.3" text-anchor="end" style="font-family:'Liberation Sans',sans-serif;font-size:8.8px" fill="#222">0.50</text>
<line x1="35.4" y1="296.2" x2="37.4" y2="296.2" stroke="#333" stroke-width="0.6"/>
<text x="35.4" y="297.9" text-anchor="end" style="font-family:'Liberation Sans',sans-serif;font-size:8.8px" fill="#222">0.75</text>
<line x1="35.4" y1="256.8" x2="37.4" y2="256.8" stroke="#333" stroke-width="0.6"/>
<text x="35.4" y="258.5" text-anchor="end" style="font-family:'Liberation Sans',sans-serif;font-size:8.8px" fill="#222">1.00</text>
<line x1="46.6" y1="421.6" x2="46.6" y2="423.6" stroke="#333" stroke-width="0.6"/>
<text x="46.6" y="432.6" text-anchor="middle" style="font-family:'Liberation Sans',sans-serif;font-size:8.8px" fill="#222">0</text>
<line x1="85.5" y1="421.6" x2="85.5" y2="423.6" stroke="#333" stroke-width="0.6"/>
<text x="85.5" y="432.6" text-anchor="middle" style="font-family:'Liberation Sans',sans-serif;font-size:8.8px" fill="#222">500</text>
<line x1="124.3" y1="421.6" x2="124.3" y2="423.6" stroke="#333" stroke-width="0.6"/>
<text x="124.3" y="432.6" text-anchor="middle" style="font-family:'Liberation Sans',sans-serif;font-size:8.8px" fill="#222">1000</text>
<line x1="163.2" y1="421.6" x2="163.2" y2="423.6" stroke="#333" stroke-width="0.6"/>
<text x="163.2" y="432.6" text-anchor="middle" style="font-family:'Liberation Sans',sans-serif;font-size:8.8px" fill="#222">1500</text>
<line x1="202.0" y1="421.6" x2="202.0" y2="423.6" stroke="#333" stroke-width="0.6"/>
<text x="202.0" y="432.6" text-anchor="middle" style="font-family:'Liberation Sans',sans-serif;font-size:8.8px" fill="#222">2000</text>
<line x1="240.8" y1="421.6" x2="240.8" y2="423.6" stroke="#333" stroke-width="0.6"/>
<text x="240.8" y="432.6" text-anchor="middle" style="font-family:'Liberation Sans',sans-serif;font-size:8.8px" fill="#222">2500</text>
<text x="142.9" y="444.2" text-anchor="middle" style="font-family:'Liberation Sans',sans-serif;font-size:8.8px" fill="#111">Time (days)</text>
<text transform="translate(9.3,336.2) rotate(-90)" text-anchor="middle" style="font-family:'Liberation Sans',sans-serif;font-size:8.8px" fill="#111">Survival Probability</text>
<text x="50.7" y="385.1" style="font-family:'Liberation Sans',sans-serif;font-size:8.8px" fill="#111">p = 0.018</text>
<polyline points="47.2,256.8 48.2,256.8 48.2,261 49.3,261 49.3,266 54.5,266 54.5,274.9 56,274.9 56,278.9 61.7,278.9 61.7,283.7 66.8,283.7 66.8,288.5 69.7,288.5 69.7,303 73.7,303 73.7,307.8 80.1,307.8 80.1,315 88.2,315 88.2,322.3 93,322.3 93,329 110.9,329 110.9,338.2 116.4,338.2 116.4,348 185.4,348 185.4,370.1 225.2,370.1" fill="none" stroke="#f2756b" stroke-width="0.9"/>
<polyline points="47.2,256.8 49.3,256.8 49.3,261.2 52.0,261.2 52.0,266.0 54.5,266.0 54.5,266.9 56.1,266.9 56.1,268.4 57.7,268.4 57.7,270.0 60.1,270.0 60.1,271.2 62.5,271.2 62.5,272.5 64.5,272.5 64.5,273.7 66.5,273.7 66.5,274.9 68.1,274.9 68.1,276.5 69.7,276.5 69.7,278.1 71.7,278.1 71.7,279.3 73.7,279.3 73.7,280.5 75.7,280.5 75.7,282.5 77.7,282.5 77.7,284.5 79.8,284.5 79.8,286.5 81.8,286.5 81.8,288.5 84.2,288.5 84.2,289.3 86.6,289.3 86.6,290.1 88.2,290.1 88.2,291.2 89.8,291.2 89.8,292.3 91.4,292.3 91.4,293.4 93.8,293.4 93.8,295.4 96.2,295.4 96.2,297.4 98.6,297.4 98.6,299.4 101.0,299.4 101.0,301.4 102.9,301.4 102.9,302.3 104.7,302.3 104.7,303.3 106.6,303.3 106.6,304.2 108.2,304.2 108.2,304.8 109.8,304.8 109.8,305.3 111.5,305.3 111.5,305.8 113.1,305.8 113.1,306.4 114.8,306.4 114.8,306.7 116.4,306.7 116.4,306.9 118.0,306.9 118.0,307.2 119.7,307.2 119.7,307.5 121.5,307.5 121.5,308.2 123.4,308.2 123.4,309.0 125.2,309.0 125.2,309.7 127.0,309.7 127.0,309.8 128.8,309.8 128.8,309.8 130.7,309.8 130.7,309.9 132.5,309.9 132.5,310.0 134.3,310.0 134.3,310.0 136.1,310.0 136.1,310.1 138.3,310.1 138.3,311.0 140.5,311.0 140.5,311.9 142.2,311.9 142.2,313.2 143.8,313.2 143.8,314.5 146.0,314.5 146.0,316.3 147.6,316.3 147.6,316.4 149.2,316.4 149.2,316.5 150.9,316.5 150.9,316.6 152.5,316.6 152.5,316.7 154.7,316.7 154.7,320.7 156.5,320.7 156.5,321.0 158.4,321.0 158.4,321.4 160.2,321.4 160.2,321.7 161.8,321.7 161.8,322.2 163.5,322.2 163.5,322.8 165.7,322.8 165.7,323.9 167.9,323.9 167.9,325.0 170.1,325.0 170.1,325.2 172.3,325.2 172.3,325.5 173.4,325.5 173.4,329.4 175.6,329.4 175.6,329.9 177.7,329.9 177.7,330.5 178.4,330.5 178.4,334.9 180.0,334.9 180.0,335.0 181.7,335.0 181.7,335.1 183.3,335.1 183.3,335.2 184.9,335.2 184.9,335.2 186.5,335.2 186.5,335.3 188.2,335.3 188.2,335.4 189.8,335.4 189.8,335.5 190.2,335.5 190.2,337.7 191.8,337.7 191.8,337.7 193.4,337.7 193.4,337.7 195.0,337.7 195.0,337.7 196.6,337.7 196.6,337.7 198.2,337.7 198.2,337.7 199.8,337.7 199.8,337.7 201.5,337.7 201.5,337.7 203.1,337.7 203.1,337.7 204.7,337.7 204.7,337.7 206.3,337.7 206.3,337.7 207.9,337.7 207.9,337.7 209.5,337.7 209.5,337.7 212.1,337.7 212.1,342.6 213.8,342.6 213.8,342.6 215.4,342.6 215.4,342.6 217.1,342.6 217.1,342.6 218.7,342.6 218.7,342.6 220.4,342.6 220.4,342.6 222.0,342.6 222.0,342.6 223.7,342.6 223.7,342.6 225.3,342.6 225.3,342.6 227.0,342.6 227.0,342.6 228.6,342.6 228.6,342.6 230.3,342.6 230.3,342.6 231.9,342.6 231.9,342.6 233.6,342.6 233.6,342.6 235.2,342.6 235.2,342.6 236.9,342.6 236.9,342.6 236.9,378.7 239.5,378.7 239.5,414.4" fill="none" stroke="#3ccbc1" stroke-width="1.2"/>
<path d="M56.8,278.9h2.4M58.0,277.7v2.4" stroke="#f2756b" stroke-width="0.7"/>
<path d="M61.8,283.7h2.4M63.0,282.5v2.4" stroke="#f2756b" stroke-width="0.7"/>
<path d="M65.8,288.5h2.4M67.0,287.3v2.4" stroke="#f2756b" stroke-width="0.7"/>
<path d="M73.8,307.8h2.4M75.0,306.6v2.4" stroke="#f2756b" stroke-width="0.7"/>
<path d="M82.8,315.0h2.4M84.0,313.8v2.4" stroke="#f2756b" stroke-width="0.7"/>
<path d="M119.2,348.0h2.4M120.4,346.8v2.4" stroke="#f2756b" stroke-width="0.7"/>
<path d="M126.8,348.0h2.4M128.0,346.8v2.4" stroke="#f2756b" stroke-width="0.7"/>
<path d="M141.1,348.0h2.4M142.3,346.8v2.4" stroke="#f2756b" stroke-width="0.7"/>
<path d="M161.6,348.0h2.4M162.8,346.8v2.4" stroke="#f2756b" stroke-width="0.7"/>
<path d="M224.0,370.1h2.4M225.2,368.9v2.4" stroke="#f2756b" stroke-width="0.7"/>
<path d="M93.3,295.4h2.4M94.5,294.2v2.4" stroke="#3ccbc1" stroke-width="0.7"/>
<path d="M150.6,316.6h2.4M151.8,315.4v2.4" stroke="#3ccbc1" stroke-width="0.7"/>
<path d="M118.0,307.2h2.4M119.2,306.0v2.4" stroke="#3ccbc1" stroke-width="0.7"/>
<path d="M161.7,322.2h2.4M162.9,321.1v2.4" stroke="#3ccbc1" stroke-width="0.7"/>
<path d="M165.8,323.9h2.4M167.0,322.7v2.4" stroke="#3ccbc1" stroke-width="0.7"/>
<path d="M61.1,271.2h2.4M62.3,270.1v2.4" stroke="#3ccbc1" stroke-width="0.7"/>
<path d="M51.3,266.0h2.4M52.5,264.8v2.4" stroke="#3ccbc1" stroke-width="0.7"/>
<path d="M205.4,337.7h2.4M206.6,336.5v2.4" stroke="#3ccbc1" stroke-width="0.7"/>
<path d="M97.3,297.4h2.4M98.5,296.2v2.4" stroke="#3ccbc1" stroke-width="0.7"/>
<path d="M92.6,295.4h2.4M93.8,294.2v2.4" stroke="#3ccbc1" stroke-width="0.7"/>
<path d="M235.0,342.6h2.4M236.2,341.4v2.4" stroke="#3ccbc1" stroke-width="0.7"/>
<path d="M136.7,310.1h2.4M137.9,308.9v2.4" stroke="#3ccbc1" stroke-width="0.7"/>
<path d="M205.2,337.7h2.4M206.4,336.5v2.4" stroke="#3ccbc1" stroke-width="0.7"/>
<path d="M137.9,311.0h2.4M139.1,309.8v2.4" stroke="#3ccbc1" stroke-width="0.7"/>
<path d="M168.3,325.0h2.4M169.5,323.8v2.4" stroke="#3ccbc1" stroke-width="0.7"/>
<path d="M77.0,284.5h2.4M78.2,283.3v2.4" stroke="#3ccbc1" stroke-width="0.7"/>
<path d="M167.5,325.0h2.4M168.7,323.8v2.4" stroke="#3ccbc1" stroke-width="0.7"/>
<path d="M211.1,342.6h2.4M212.3,341.4v2.4" stroke="#3ccbc1" stroke-width="0.7"/>
<path d="M146.6,316.4h2.4M147.8,315.2v2.4" stroke="#3ccbc1" stroke-width="0.7"/>
<path d="M187.4,335.4h2.4M188.6,334.2v2.4" stroke="#3ccbc1" stroke-width="0.7"/>
<path d="M174.4,329.9h2.4M175.6,328.8v2.4" stroke="#3ccbc1" stroke-width="0.7"/>
<path d="M60.8,271.2h2.4M62.0,270.1v2.4" stroke="#3ccbc1" stroke-width="0.7"/>
<path d="M190.6,337.7h2.4M191.8,336.5v2.4" stroke="#3ccbc1" stroke-width="0.7"/>
<path d="M159.3,321.7h2.4M160.5,320.5v2.4" stroke="#3ccbc1" stroke-width="0.7"/>
<path d="M105.1,303.3h2.4M106.3,302.1v2.4" stroke="#3ccbc1" stroke-width="0.7"/>
<path d="M54.6,266.9h2.4M55.8,265.7v2.4" stroke="#3ccbc1" stroke-width="0.7"/>
<path d="M210.7,337.7h2.4M211.9,336.5v2.4" stroke="#3ccbc1" stroke-width="0.7"/>
<path d="M137.2,311.0h2.4M138.4,309.8v2.4" stroke="#3ccbc1" stroke-width="0.7"/>
<path d="M183.2,335.2h2.4M184.4,334.0v2.4" stroke="#3ccbc1" stroke-width="0.7"/>
<path d="M213.1,342.6h2.4M214.3,341.4v2.4" stroke="#3ccbc1" stroke-width="0.7"/>
<path d="M182.3,335.2h2.4M183.5,334.0v2.4" stroke="#3ccbc1" stroke-width="0.7"/>
<path d="M221.0,342.6h2.4M222.2,341.4v2.4" stroke="#3ccbc1" stroke-width="0.7"/>
<path d="M122.7,309.0h2.4M123.9,307.8v2.4" stroke="#3ccbc1" stroke-width="0.7"/>
<path d="M198.6,337.7h2.4M199.8,336.5v2.4" stroke="#3ccbc1" stroke-width="0.7"/>
<path d="M131.9,310.0h2.4M133.1,308.8v2.4" stroke="#3ccbc1" stroke-width="0.7"/>
<path d="M223.8,342.6h2.4M225.0,341.4v2.4" stroke="#3ccbc1" stroke-width="0.7"/>
<path d="M213.1,342.6h2.4M214.3,341.4v2.4" stroke="#3ccbc1" stroke-width="0.7"/>
<path d="M67.0,276.5h2.4M68.2,275.3v2.4" stroke="#3ccbc1" stroke-width="0.7"/>
<path d="M74.2,280.5h2.4M75.4,279.3v2.4" stroke="#3ccbc1" stroke-width="0.7"/>
<path d="M89.4,292.3h2.4M90.6,291.1v2.4" stroke="#3ccbc1" stroke-width="0.7"/>
<path d="M229.3,342.6h2.4M230.5,341.4v2.4" stroke="#3ccbc1" stroke-width="0.7"/>
<path d="M130.4,309.9h2.4M131.6,308.7v2.4" stroke="#3ccbc1" stroke-width="0.7"/>
<path d="M166.0,323.9h2.4M167.2,322.7v2.4" stroke="#3ccbc1" stroke-width="0.7"/>
<path d="M105.1,303.3h2.4M106.3,302.1v2.4" stroke="#3ccbc1" stroke-width="0.7"/>
<path d="M143.7,314.5h2.4M144.9,313.3v2.4" stroke="#3ccbc1" stroke-width="0.7"/>
<path d="M121.0,308.2h2.4M122.2,307.0v2.4" stroke="#3ccbc1" stroke-width="0.7"/>
<path d="M114.4,306.7h2.4M115.6,305.5v2.4" stroke="#3ccbc1" stroke-width="0.7"/>
<path d="M158.2,321.4h2.4M159.4,320.2v2.4" stroke="#3ccbc1" stroke-width="0.7"/>
<path d="M158.1,321.4h2.4M159.3,320.2v2.4" stroke="#3ccbc1" stroke-width="0.7"/>
<path d="M217.9,342.6h2.4M219.1,341.4v2.4" stroke="#3ccbc1" stroke-width="0.7"/>
<path d="M176.3,329.9h2.4M177.5,328.8v2.4" stroke="#3ccbc1" stroke-width="0.7"/>
<path d="M222.5,342.6h2.4M223.7,341.4v2.4" stroke="#3ccbc1" stroke-width="0.7"/>
<path d="M208.9,337.7h2.4M210.1,336.5v2.4" stroke="#3ccbc1" stroke-width="0.7"/>
<path d="M234.1,342.6h2.4M235.3,341.4v2.4" stroke="#3ccbc1" stroke-width="0.7"/>
<path d="M174.3,329.4h2.4M175.5,328.2v2.4" stroke="#3ccbc1" stroke-width="0.7"/>
<path d="M79.3,286.5h2.4M80.5,285.3v2.4" stroke="#3ccbc1" stroke-width="0.7"/>
<path d="M209.7,337.7h2.4M210.9,336.5v2.4" stroke="#3ccbc1" stroke-width="0.7"/>
<path d="M229.2,342.6h2.4M230.4,341.4v2.4" stroke="#3ccbc1" stroke-width="0.7"/>
<path d="M218.0,342.6h2.4M219.2,341.4v2.4" stroke="#3ccbc1" stroke-width="0.7"/>
<path d="M155.2,320.7h2.4M156.4,319.5v2.4" stroke="#3ccbc1" stroke-width="0.7"/>
<path d="M182.3,335.2h2.4M183.5,334.0v2.4" stroke="#3ccbc1" stroke-width="0.7"/>
<path d="M88.3,291.2h2.4M89.5,290.0v2.4" stroke="#3ccbc1" stroke-width="0.7"/>
<path d="M204.3,337.7h2.4M205.5,336.5v2.4" stroke="#3ccbc1" stroke-width="0.7"/>
<path d="M156.1,321.0h2.4M157.3,319.8v2.4" stroke="#3ccbc1" stroke-width="0.7"/>
<path d="M102.1,302.3h2.4M103.3,301.1v2.4" stroke="#3ccbc1" stroke-width="0.7"/>
<path d="M60.7,271.2h2.4M61.9,270.1v2.4" stroke="#3ccbc1" stroke-width="0.7"/>
<path d="M208.5,337.7h2.4M209.7,336.5v2.4" stroke="#3ccbc1" stroke-width="0.7"/>
<path d="M233.9,342.6h2.4M235.1,341.4v2.4" stroke="#3ccbc1" stroke-width="0.7"/>
<path d="M65.4,274.9h2.4M66.6,273.7v2.4" stroke="#3ccbc1" stroke-width="0.7"/>
<path d="M198.5,337.7h2.4M199.7,336.5v2.4" stroke="#3ccbc1" stroke-width="0.7"/>
<path d="M125.6,309.7h2.4M126.8,308.5v2.4" stroke="#3ccbc1" stroke-width="0.7"/>
<path d="M77.0,284.5h2.4M78.2,283.3v2.4" stroke="#3ccbc1" stroke-width="0.7"/>
<path d="M103.8,303.3h2.4M105.0,302.1v2.4" stroke="#3ccbc1" stroke-width="0.7"/>
<path d="M192.6,337.7h2.4M193.8,336.5v2.4" stroke="#3ccbc1" stroke-width="0.7"/>
<path d="M212.0,342.6h2.4M213.2,341.4v2.4" stroke="#3ccbc1" stroke-width="0.7"/>
<path d="M57.1,270.0h2.4M58.3,268.8v2.4" stroke="#3ccbc1" stroke-width="0.7"/>
<path d="M163.7,322.8h2.4M164.9,321.6v2.4" stroke="#3ccbc1" stroke-width="0.7"/>
<path d="M57.2,270.0h2.4M58.4,268.8v2.4" stroke="#3ccbc1" stroke-width="0.7"/>
<path d="M183.1,335.2h2.4M184.3,334.0v2.4" stroke="#3ccbc1" stroke-width="0.7"/>
<path d="M110.7,305.8h2.4M111.9,304.6v2.4" stroke="#3ccbc1" stroke-width="0.7"/>
<path d="M213.5,342.6h2.4M214.7,341.4v2.4" stroke="#3ccbc1" stroke-width="0.7"/>
<path d="M232.2,342.6h2.4M233.4,341.4v2.4" stroke="#3ccbc1" stroke-width="0.7"/>
<path d="M143.3,314.5h2.4M144.5,313.3v2.4" stroke="#3ccbc1" stroke-width="0.7"/>
<path d="M235.5,342.6h2.4M236.7,341.4v2.4" stroke="#3ccbc1" stroke-width="0.7"/>
<path d="M106.7,304.2h2.4M107.9,303.0v2.4" stroke="#3ccbc1" stroke-width="0.7"/>
<path d="M63.2,272.5h2.4M64.4,271.3v2.4" stroke="#3ccbc1" stroke-width="0.7"/>
<path d="M161.0,322.2h2.4M162.2,321.1v2.4" stroke="#3ccbc1" stroke-width="0.7"/>
<path d="M54.7,266.9h2.4M55.9,265.7v2.4" stroke="#3ccbc1" stroke-width="0.7"/>
<path d="M85.7,290.1h2.4M86.9,288.9v2.4" stroke="#3ccbc1" stroke-width="0.7"/>
<path d="M125.1,309.7h2.4M126.3,308.5v2.4" stroke="#3ccbc1" stroke-width="0.7"/>
<rect x="128" y="260.5" width="84" height="30" fill="#fff"/>
<text x="130.9" y="269.8" style="font-family:'Liberation Sans',sans-serif;font-size:8.8px" fill="#111">ALKBH5 Expression</text>
<text x="138.8" y="278" style="font-family:'Liberation Sans',sans-serif;font-size:7.2px" fill="#111">ALKBH5−high</text>
<text x="138.8" y="287.1" style="font-family:'Liberation Sans',sans-serif;font-size:7.2px" fill="#111">ALKBH5−low</text>
<path d="M129.8,277.8 L132.8,273.2 L135.8,277.8 Z" fill="#f2756b" opacity="0.7"/>
<path d="M129.8,287 L132.8,282.4 L135.8,287 Z" fill="#3ccbc1" opacity="0.7"/>
<text x="267.4" y="245.5" style="font-family:'Liberation Sans',sans-serif;font-size:11px" fill="#000">C</text>
<text x="373" y="248.3" text-anchor="middle" style="font-family:'Liberation Sans',sans-serif;font-size:8.8px" fill="#111">Control</text>
<text x="587.5" y="248.3" text-anchor="middle" style="font-family:'Liberation Sans',sans-serif;font-size:8.8px" fill="#111">Cancer</text>
<rect x="279" y="254.5" width="203" height="185.5" fill="#f0f0f0"/>
<rect x="491.8" y="254.5" width="192.2" height="185.5" fill="#f0f0f0"/>
<filter id="nC1" x="279" y="254.5" width="203" height="185.5" filterUnits="userSpaceOnUse" color-interpolation-filters="sRGB"><feTurbulence type="fractalNoise" baseFrequency="0.3" numOctaves="3" seed="4"/><feColorMatrix type="matrix" values="0.400 0 0 0 0.451 0.420 0 0 0 0.410 0.340 0 0 0 0.508 0 0 0 0 1"/></filter>
<filter id="nC2" x="491.8" y="254.5" width="192.2" height="185.5" filterUnits="userSpaceOnUse" color-interpolation-filters="sRGB"><feTurbulence type="fractalNoise" baseFrequency="0.45" numOctaves="2" seed="7"/><feColorMatrix type="matrix" values="0.400 0 0 0 0.420 0.450 0 0 0 0.230 0.450 0 0 0 0.128 0 0 0 0 1"/></filter>
<clipPath id="ccC1"><path d="M279,254.5H482V440H279Z"/></clipPath><clipPath id="ccC1b"><circle cx="379.2" cy="343.5" r="94.3"/></clipPath>
<clipPath id="ccC2"><path d="M491.8,254.5H684V440H491.8Z"/></clipPath><clipPath id="ccC2b"><circle cx="586.7" cy="349.1" r="92"/></clipPath>
<filter id="dots1" x="279" y="254.5" width="203" height="185.5" filterUnits="userSpaceOnUse" color-interpolation-filters="sRGB"><feTurbulence type="fractalNoise" baseFrequency="0.55" numOctaves="1" seed="21"/><feColorMatrix type="matrix" values="0 0 0 0 0.44 0 0 0 0 0.41 0 0 0 0 0.55 1 0 0 0 0"/><feComponentTransfer><feFuncA type="linear" slope="5" intercept="-2.9"/></feComponentTransfer></filter>
<g clip-path="url(#ccC1)"><g clip-path="url(#ccC1b)"><rect x="279" y="254.5" width="203" height="185.5" filter="url(#nC1)"/><rect x="279" y="254.5" width="203" height="185.5" filter="url(#dots1)"/></g></g>
<filter id="net" x="491.8" y="254.5" width="192.2" height="185.5" filterUnits="userSpaceOnUse" color-interpolation-filters="sRGB"><feTurbulence type="fractalNoise" baseFrequency="0.13" numOctaves="2" seed="9"/><feColorMatrix type="matrix" values="0 0 0 0 1 0 0 0 0 0.98 0 0 0 0 0.97 1 0 0 0 0"/><feComponentTransfer><feFuncA type="table" tableValues="0 0 0 0 0 0 0 0 0 0 0 0 0 0 0 0 0 0 0 0.25 0.7 0.25 0 0 0 0 0 0 0 0 0 0 0 0 0 0 0 0 0 0 0"/></feComponentTransfer></filter>
<filter id="spk2" x="491.8" y="254.5" width="192.2" height="185.5" filterUnits="userSpaceOnUse" color-interpolation-filters="sRGB"><feTurbulence type="fractalNoise" baseFrequency="0.6" numOctaves="1" seed="33"/><feColorMatrix type="matrix" values="0 0 0 0 0.96 0 0 0 0 0.95 0 0 0 0 0.95 1 0 0 0 0"/><feComponentTransfer><feFuncA type="linear" slope="4" intercept="-2.5"/></feComponentTransfer></filter>
<g clip-path="url(#ccC2)"><g clip-path="url(#ccC2b)"><rect x="491.8" y="254.5" width="192.2" height="185.5" filter="url(#nC2)"/><rect x="491.8" y="254.5" width="192.2" height="185.5" filter="url(#net)"/><rect x="491.8" y="254.5" width="192.2" height="185.5" filter="url(#spk2)"/></g></g>
<path d="M468,303 C473,307 476.5,315 477.8,326 C479,340 478.5,356 475,368 C472.5,376 469.5,381 466,384 L464,381 C470,370 474,352 474.5,335 C475,320 472,310 468,303Z" fill="#857a98" filter="url(#sharp)"/>
<path d="M467.5,304.5 C472,312 474.8,322 475.5,334 C476,350 473,366 467.5,380 L465.5,378 C467,368 470.5,352 470.5,336 C470.5,322 469,312 467.5,304.5Z" fill="#f6f6f8" filter="url(#sharp)"/>
<ellipse cx="460" cy="352.5" rx="3" ry="2.6" fill="#6e6284" filter="url(#sharp)"/><circle cx="458.5" cy="351.5" r="0.9" fill="#f4f4f6"/>
<g filter="url(#sharp)"><ellipse cx="336" cy="301" rx="3" ry="4.5" fill="#7a6c88" opacity="0.8"/><path d="M333.5,300.5 L340,295 L347,290.5" stroke="#f2f2f4" stroke-width="1.3" fill="none"/><path d="M331,354.5 C337,356 343,356.5 349.5,355.5" stroke="#eeeef2" stroke-width="1" fill="none"/></g>
<path d="M391.8,325.5 L392.7,330 L391.4,336.4 L389.1,342.7 L385.5,347.3 L380.9,351.8 L375.5,356.4 L369.1,359.1 L363.6,360 L362.7,358.2 L368.2,355.5 L373.6,350.9 L377.3,344.5 L379.1,338.2 L381.8,333.6 L386.4,330 L390,326.4Z" fill="#f8f8fa" stroke="#f8f8fa" stroke-width="2.2" stroke-linejoin="round" filter="url(#sharp)"/>
<path d="M331.2,340.7 L337,336.6 L341.1,332.5 L344.6,330.8 L348.7,326.7 L350.1,322.6 L352.2,319.1 L356.3,316.8 L358,315.2 L362.3,314 L365.5,312.7 L369.1,310.9 L371.8,311.5 L376.4,309.1 L379.1,307.7 L383.6,310 L387.3,309.1 L390,310.9 L391.4,315.5 L392.3,318.2 L390.9,320.9 L389.1,319.8 L384.5,321.8 L380.9,323.6 L377.3,325.5 L375.5,329.1 L373.6,331.8 L370,330.9 L367.3,329.1 L365.6,328.4 L365,323.2 L362.7,323.8 L362.1,328.7 L359.2,329.6 L355.1,331.1 L353.4,332.5 L350.4,333.7 L347.5,334.9 L343.4,336.2 L338.8,338.6 L333.5,342.4Z" fill="#f8f8fa" stroke="#f8f8fa" stroke-width="2.2" stroke-linejoin="round" filter="url(#sharp)"/>
<g filter="url(#sharp)"><circle cx="365.7" cy="343.6" r="1.9" fill="#f4f4f6"/><circle cx="362.2" cy="341.2" r="1.1" fill="#eeeef2"/><circle cx="379.2" cy="318.6" r="1.2" fill="#54486a"/><circle cx="388.6" cy="318.4" r="1.3" fill="#54486a"/><circle cx="343.2" cy="331.5" r="1.6" fill="#5e4a5a"/></g>
<text x="1.1" y="457.9" style="font-family:'Liberation Sans',sans-serif;font-size:11px" fill="#000">D</text>
<text x="138.7" y="462.6" text-anchor="middle" style="font-family:'Liberation Sans',sans-serif;font-size:8.8px" fill="#111">Adjacent normal</text>
<text x="370.7" y="462.6" text-anchor="middle" style="font-family:'Liberation Sans',sans-serif;font-size:8.8px" fill="#111">Tumor</text>
<text transform="translate(21.6,573.2) rotate(-90)" text-anchor="middle" style="font-family:'Liberation Sans',sans-serif;font-size:8.8px;font-weight:bold" fill="#000">ALKBH5</text>
<filter id="soft" x="-10%" y="-10%" width="120%" height="120%"><feGaussianBlur stdDeviation="2.2"/></filter>
<filter id="sharp" x="0" y="0" width="100%" height="100%"><feGaussianBlur stdDeviation="0.5"/></filter>
<clipPath id="cpD1"><rect x="33.6" y="468.1" width="211" height="211"/></clipPath>
<g clip-path="url(#cpD1)">
<rect x="33.6" y="468.1" width="211" height="211" fill="#d2d6b6"/>
<g filter="url(#soft)">
<path d="M128.7,581.1A5.7,4.2,91,1,0,128.4,592.5A5.7,4.2,91,1,0,128.7,581.1ZM161.6,501.5A4.0,3.3,143,1,0,155.2,506.4A4.0,3.3,143,1,0,161.6,501.5ZM50.8,528.2A2.4,2.1,125,1,0,48.1,532.1A2.4,2.1,125,1,0,50.8,528.2ZM39.9,674.7A5.9,4.8,111,1,0,35.8,685.6A5.9,4.8,111,1,0,39.9,674.7ZM60.0,464.1A4.1,2.2,34,1,0,66.8,468.7A4.1,2.2,34,1,0,60.0,464.1ZM85.5,467.9A3.9,2.8,152,1,0,78.7,471.6A3.9,2.8,152,1,0,85.5,467.9ZM142.8,600.6A4.0,3.3,82,1,0,143.9,608.6A4.0,3.3,82,1,0,142.8,600.6ZM93.7,678.8A6.0,5.5,127,1,0,86.4,688.3A6.0,5.5,127,1,0,93.7,678.8ZM100.6,511.7A3.2,1.7,138,1,0,95.9,516.0A3.2,1.7,138,1,0,100.6,511.7ZM120.2,648.6A3.5,3.5,153,1,0,113.9,651.8A3.5,3.5,153,1,0,120.2,648.6ZM34.4,509.1A5.6,4.1,176,1,0,23.1,509.8A5.6,4.1,176,1,0,34.4,509.1ZM113.4,475.9A4.5,4.0,49,1,0,119.4,482.6A4.5,4.0,49,1,0,113.4,475.9ZM42.4,534.5A5.9,5.1,21,1,0,53.3,538.7A5.9,5.1,21,1,0,42.4,534.5ZM81.2,484.2A2.2,2.0,32,1,0,85.0,486.6A2.2,2.0,32,1,0,81.2,484.2ZM149.7,560.9A2.8,2.4,24,1,0,154.7,563.1A2.8,2.4,24,1,0,149.7,560.9ZM168.4,486.1A3.7,2.2,49,1,0,173.3,491.6A3.7,2.2,49,1,0,168.4,486.1ZM240.6,638.7A3.2,3.0,38,1,0,245.7,642.6A3.2,3.0,38,1,0,240.6,638.7ZM120.3,651.8A4.6,2.5,178,1,0,111.2,652.1A4.6,2.5,178,1,0,120.3,651.8ZM72.7,516.1A5.1,3.4,53,1,0,78.8,524.3A5.1,3.4,53,1,0,72.7,516.1ZM46.2,478.9A4.3,2.7,108,1,0,43.5,487.1A4.3,2.7,108,1,0,46.2,478.9ZM112.1,557.6A5.8,4.3,103,1,0,109.4,568.9A5.8,4.3,103,1,0,112.1,557.6ZM222.3,502.1A2.6,2.5,147,1,0,217.9,504.9A2.6,2.5,147,1,0,222.3,502.1ZM79.7,502.2A5.0,4.8,35,1,0,87.8,507.9A5.0,4.8,35,1,0,79.7,502.2ZM234.4,656.6A4.4,3.1,19,1,0,242.8,659.5A4.4,3.1,19,1,0,234.4,656.6ZM35.1,673.7A3.0,2.5,46,1,0,39.2,678.0A3.0,2.5,46,1,0,35.1,673.7ZM212.7,592.5A3.2,1.9,130,1,0,208.6,597.4A3.2,1.9,130,1,0,212.7,592.5ZM45.3,509.6A4.2,3.9,111,1,0,42.3,517.5A4.2,3.9,111,1,0,45.3,509.6ZM88.7,663.7A2.8,1.4,48,1,0,92.4,667.9A2.8,1.4,48,1,0,88.7,663.7ZM127.7,473.8A2.7,1.9,103,1,0,126.5,479.1A2.7,1.9,103,1,0,127.7,473.8ZM60.3,538.2A5.6,5.5,118,1,0,55.0,548.0A5.6,5.5,118,1,0,60.3,538.2ZM178.8,592.1A2.6,1.3,3,1,0,183.9,592.4A2.6,1.3,3,1,0,178.8,592.1ZM232.2,612.7A5.9,3.0,115,1,0,227.3,623.3A5.9,3.0,115,1,0,232.2,612.7ZM132.0,623.8A3.3,3.3,14,1,0,138.4,625.3A3.3,3.3,14,1,0,132.0,623.8ZM152.6,621.5A5.6,4.9,127,1,0,145.9,630.5A5.6,4.9,127,1,0,152.6,621.5ZM207.2,664.3A3.4,2.9,162,1,0,200.7,666.4A3.4,2.9,162,1,0,207.2,664.3ZM222.3,550.3A5.2,4.8,103,1,0,219.9,560.3A5.2,4.8,103,1,0,222.3,550.3ZM162.5,546.5A4.3,3.5,14,1,0,170.9,548.7A4.3,3.5,14,1,0,162.5,546.5ZM168.0,677.4A5.5,4.8,70,1,0,171.8,687.8A5.5,4.8,70,1,0,168.0,677.4ZM187.4,590.5A3.8,3.5,15,1,0,194.7,592.5A3.8,3.5,15,1,0,187.4,590.5ZM191.1,466.8A4.4,3.3,41,1,0,197.7,472.6A4.4,3.3,41,1,0,191.1,466.8ZM179.8,569.8A4.5,4.3,46,1,0,186.0,576.2A4.5,4.3,46,1,0,179.8,569.8ZM27.0,527.2A4.7,2.8,31,1,0,35.2,532.0A4.7,2.8,31,1,0,27.0,527.2ZM226.8,605.7A3.8,3.6,59,1,0,230.7,612.2A3.8,3.6,59,1,0,226.8,605.7ZM179.4,506.0A3.7,3.4,165,1,0,172.2,508.0A3.7,3.4,165,1,0,179.4,506.0ZM219.2,546.3A4.3,2.9,25,1,0,227.1,549.9A4.3,2.9,25,1,0,219.2,546.3ZM143.6,647.3A5.4,4.6,171,1,0,133.0,648.9A5.4,4.6,171,1,0,143.6,647.3ZM86.8,498.1A3.8,2.4,39,1,0,92.7,502.8A3.8,2.4,39,1,0,86.8,498.1ZM123.6,599.5A4.0,2.6,151,1,0,116.6,603.3A4.0,2.6,151,1,0,123.6,599.5ZM247.7,562.2A2.3,1.2,157,1,0,243.5,564.0A2.3,1.2,157,1,0,247.7,562.2ZM41.2,617.1A4.3,2.8,142,1,0,34.4,622.3A4.3,2.8,142,1,0,41.2,617.1ZM36.1,491.2A3.8,2.0,149,1,0,29.5,495.1A3.8,2.0,149,1,0,36.1,491.2ZM80.7,492.1A2.2,1.8,80,1,0,81.4,496.4A2.2,1.8,80,1,0,80.7,492.1ZM170.7,603.5A5.2,5.1,123,1,0,165.0,612.2A5.2,5.1,123,1,0,170.7,603.5ZM72.4,565.4A2.7,1.4,85,1,0,72.9,570.8A2.7,1.4,85,1,0,72.4,565.4ZM188.2,500.2A3.1,2.1,126,1,0,184.6,505.2A3.1,2.1,126,1,0,188.2,500.2ZM147.6,595.8A5.0,3.5,143,1,0,139.6,601.9A5.0,3.5,143,1,0,147.6,595.8ZM223.6,480.1A5.7,4.9,23,1,0,234.1,484.6A5.7,4.9,23,1,0,223.6,480.1ZM130.0,595.8A5.6,3.9,102,1,0,127.6,606.9A5.6,3.9,102,1,0,130.0,595.8ZM225.6,634.0A5.8,4.2,117,1,0,220.3,644.3A5.8,4.2,117,1,0,225.6,634.0ZM77.2,618.6A5.3,4.3,129,1,0,70.6,626.7A5.3,4.3,129,1,0,77.2,618.6ZM76.4,656.1A5.9,5.9,97,1,0,75.1,667.9A5.9,5.9,97,1,0,76.4,656.1ZM200.8,528.9A5.6,5.2,63,1,0,205.9,538.9A5.6,5.2,63,1,0,200.8,528.9ZM46.7,556.3A4.2,3.7,88,1,0,47.1,564.7A4.2,3.7,88,1,0,46.7,556.3ZM32.9,640.8A2.3,2.0,31,1,0,36.8,643.1A2.3,2.0,31,1,0,32.9,640.8ZM102.8,634.7A2.6,1.5,93,1,0,102.5,639.8A2.6,1.5,93,1,0,102.8,634.7ZM188.4,644.0A4.8,4.6,89,1,0,188.6,653.5A4.8,4.6,89,1,0,188.4,644.0ZM236.6,479.8A2.9,2.2,52,1,0,240.1,484.4A2.9,2.2,52,1,0,236.6,479.8ZM190.4,600.3A4.1,3.8,101,1,0,188.9,608.3A4.1,3.8,101,1,0,190.4,600.3ZM93.2,544.1A5.4,5.1,37,1,0,101.8,550.6A5.4,5.1,37,1,0,93.2,544.1ZM213.3,674.7A4.1,3.2,36,1,0,219.9,679.5A4.1,3.2,36,1,0,213.3,674.7ZM151.4,573.9A4.4,2.3,174,1,0,142.6,574.7A4.4,2.3,174,1,0,151.4,573.9ZM142.5,546.4A5.2,4.1,88,1,0,142.8,556.8A5.2,4.1,88,1,0,142.5,546.4ZM185.4,477.1A4.2,2.9,172,1,0,177.2,478.2A4.2,2.9,172,1,0,185.4,477.1ZM231.9,518.8A3.9,2.2,78,1,0,233.5,526.4A3.9,2.2,78,1,0,231.9,518.8ZM205.7,659.9A3.9,2.6,34,1,0,212.1,664.3A3.9,2.6,34,1,0,205.7,659.9ZM162.6,667.4A2.5,2.2,4,1,0,167.7,667.8A2.5,2.2,4,1,0,162.6,667.4ZM69.4,509.1A4.7,3.1,64,1,0,73.6,517.6A4.7,3.1,64,1,0,69.4,509.1ZM165.7,481.4A4.9,2.8,92,1,0,165.4,491.2A4.9,2.8,92,1,0,165.7,481.4ZM82.4,503.0A4.1,3.0,68,1,0,85.5,510.6A4.1,3.0,68,1,0,82.4,503.0ZM121.0,577.7A2.6,1.6,114,1,0,118.9,582.5A2.6,1.6,114,1,0,121.0,577.7ZM174.6,577.8A5.4,4.4,154,1,0,164.8,582.5A5.4,4.4,154,1,0,174.6,577.8ZM77.2,622.4A5.2,5.0,57,1,0,82.9,631.2A5.2,5.0,57,1,0,77.2,622.4ZM100.9,666.0A2.9,2.9,160,1,0,95.5,668.0A2.9,2.9,160,1,0,100.9,666.0ZM53.5,514.5A4.9,3.1,17,1,0,62.9,517.5A4.9,3.1,17,1,0,53.5,514.5ZM211.0,551.4A5.2,2.9,73,1,0,214.1,561.2A5.2,2.9,73,1,0,211.0,551.4ZM182.7,466.3A2.8,2.4,164,1,0,177.3,467.8A2.8,2.4,164,1,0,182.7,466.3ZM242.6,484.6A4.0,3.5,91,1,0,242.6,492.6A4.0,3.5,91,1,0,242.6,484.6ZM177.9,504.6A2.3,1.3,7,1,0,182.4,505.1A2.3,1.3,7,1,0,177.9,504.6ZM146.9,574.5A4.3,2.5,33,1,0,154.1,579.2A4.3,2.5,33,1,0,146.9,574.5ZM68.0,647.0A6.0,5.7,17,1,0,79.4,650.5A6.0,5.7,17,1,0,68.0,647.0ZM40.3,670.1A3.8,3.4,59,1,0,44.3,676.7A3.8,3.4,59,1,0,40.3,670.1ZM128.1,576.8A3.7,3.0,2,1,0,135.5,577.1A3.7,3.0,2,1,0,128.1,576.8ZM185.4,647.7A2.7,2.0,133,1,0,181.7,651.7A2.7,2.0,133,1,0,185.4,647.7ZM115.5,506.1A2.7,2.0,3,1,0,120.8,506.4A2.7,2.0,3,1,0,115.5,506.1ZM227.9,635.9A4.8,4.5,113,1,0,224.1,644.7A4.8,4.5,113,1,0,227.9,635.9ZM121.3,593.3A4.0,4.0,145,1,0,114.7,597.9A4.0,4.0,145,1,0,121.3,593.3ZM89.8,661.8A5.0,4.4,147,1,0,81.5,667.2A5.0,4.4,147,1,0,89.8,661.8ZM122.4,657.6A5.5,4.7,138,1,0,114.1,664.9A5.5,4.7,138,1,0,122.4,657.6ZM195.4,548.5A4.9,2.6,62,1,0,200.0,557.1A4.9,2.6,62,1,0,195.4,548.5ZM133.5,462.3A3.4,2.8,112,1,0,130.9,468.6A3.4,2.8,112,1,0,133.5,462.3ZM82.1,667.8A4.7,3.1,119,1,0,77.7,676.0A4.7,3.1,119,1,0,82.1,667.8ZM156.0,577.7A3.6,3.6,116,1,0,152.9,584.1A3.6,3.6,116,1,0,156.0,577.7ZM185.7,625.9A5.9,3.0,111,1,0,181.5,637.0A5.9,3.0,111,1,0,185.7,625.9ZM188.9,517.7A3.6,1.9,35,1,0,194.8,521.9A3.6,1.9,35,1,0,188.9,517.7ZM112.1,481.9A3.0,2.9,99,1,0,111.2,487.8A3.0,2.9,99,1,0,112.1,481.9ZM142.6,673.0A4.3,4.3,115,1,0,139.0,680.7A4.3,4.3,115,1,0,142.6,673.0ZM203.2,479.3A4.4,3.9,8,1,0,211.9,480.6A4.4,3.9,8,1,0,203.2,479.3ZM234.1,494.6A3.9,2.3,89,1,0,234.2,502.3A3.9,2.3,89,1,0,234.1,494.6ZM164.2,470.3A5.8,4.1,95,1,0,163.2,481.8A5.8,4.1,95,1,0,164.2,470.3ZM161.3,540.8A3.1,2.6,101,1,0,160.1,547.0A3.1,2.6,101,1,0,161.3,540.8ZM89.0,619.3A3.2,1.6,44,1,0,93.5,623.7A3.2,1.6,44,1,0,89.0,619.3ZM42.8,496.1A5.0,3.5,162,1,0,33.3,499.3A5.0,3.5,162,1,0,42.8,496.1ZM188.2,472.8A6.0,5.8,13,1,0,199.8,475.5A6.0,5.8,13,1,0,188.2,472.8ZM225.9,555.3A3.9,3.9,44,1,0,231.5,560.7A3.9,3.9,44,1,0,225.9,555.3ZM149.1,669.9A4.9,3.6,176,1,0,139.4,670.6A4.9,3.6,176,1,0,149.1,669.9ZM208.7,594.1A2.5,2.0,82,1,0,209.4,598.9A2.5,2.0,82,1,0,208.7,594.1ZM72.9,470.6A4.1,2.3,80,1,0,74.3,478.7A4.1,2.3,80,1,0,72.9,470.6ZM175.4,560.8A3.0,2.4,76,1,0,177.0,566.7A3.0,2.4,76,1,0,175.4,560.8ZM204.6,576.0A6.0,5.8,132,1,0,196.5,584.8A6.0,5.8,132,1,0,204.6,576.0ZM83.4,483.1A5.6,5.0,112,1,0,79.2,493.4A5.6,5.0,112,1,0,83.4,483.1ZM109.3,518.6A4.7,3.7,107,1,0,106.6,527.6A4.7,3.7,107,1,0,109.3,518.6ZM171.3,629.4A2.8,1.7,176,1,0,165.8,629.8A2.8,1.7,176,1,0,171.3,629.4ZM229.6,655.7A2.2,1.1,49,1,0,232.4,658.9A2.2,1.1,49,1,0,229.6,655.7ZM120.2,600.3A2.4,1.9,13,1,0,124.9,601.4A2.4,1.9,13,1,0,120.2,600.3ZM46.1,608.7A4.2,3.4,67,1,0,49.3,616.4A4.2,3.4,67,1,0,46.1,608.7ZM137.3,508.0A3.4,2.9,151,1,0,131.4,511.3A3.4,2.9,151,1,0,137.3,508.0ZM48.9,486.1A5.2,4.3,138,1,0,41.1,493.1A5.2,4.3,138,1,0,48.9,486.1ZM74.5,554.1A3.0,2.7,66,1,0,76.9,559.7A3.0,2.7,66,1,0,74.5,554.1ZM175.4,679.3A3.3,2.6,134,1,0,170.8,684.1A3.3,2.6,134,1,0,175.4,679.3ZM235.3,556.3A3.5,1.9,158,1,0,228.9,558.9A3.5,1.9,158,1,0,235.3,556.3ZM48.3,477.9A4.3,3.2,123,1,0,43.6,485.0A4.3,3.2,123,1,0,48.3,477.9ZM95.8,632.5A2.3,1.4,119,1,0,93.5,636.5A2.3,1.4,119,1,0,95.8,632.5ZM43.6,526.4A4.9,4.2,51,1,0,49.7,534.0A4.9,4.2,51,1,0,43.6,526.4ZM55.6,540.4A4.9,3.4,21,1,0,64.8,543.9A4.9,3.4,21,1,0,55.6,540.4ZM190.8,587.4A5.7,5.5,164,1,0,179.9,590.4A5.7,5.5,164,1,0,190.8,587.4ZM124.4,637.5A3.2,2.1,72,1,0,126.4,643.6A3.2,2.1,72,1,0,124.4,637.5ZM233.9,658.1A3.0,2.0,66,1,0,236.4,663.6A3.0,2.0,66,1,0,233.9,658.1ZM109.6,547.1A3.6,2.1,101,1,0,108.2,554.0A3.6,2.1,101,1,0,109.6,547.1ZM200.2,579.7A5.3,4.2,32,1,0,209.3,585.4A5.3,4.2,32,1,0,200.2,579.7ZM196.5,654.7A3.1,1.6,93,1,0,196.2,660.9A3.1,1.6,93,1,0,196.5,654.7ZM153.6,585.1A5.9,4.8,145,1,0,144.1,591.9A5.9,4.8,145,1,0,153.6,585.1ZM37.8,582.6A5.2,2.8,15,1,0,47.7,585.3A5.2,2.8,15,1,0,37.8,582.6ZM189.4,660.8A2.3,1.9,26,1,0,193.6,662.8A2.3,1.9,26,1,0,189.4,660.8ZM195.6,604.5A3.0,1.8,138,1,0,191.2,608.5A3.0,1.8,138,1,0,195.6,604.5ZM147.4,631.7A3.6,2.4,174,1,0,140.3,632.5A3.6,2.4,174,1,0,147.4,631.7ZM179.7,568.9A4.1,3.6,127,1,0,174.7,575.5A4.1,3.6,127,1,0,179.7,568.9ZM235.6,551.5A5.3,4.4,154,1,0,226.1,556.2A5.3,4.4,154,1,0,235.6,551.5ZM209.1,642.4A5.6,5.4,115,1,0,204.3,652.4A5.6,5.4,115,1,0,209.1,642.4ZM143.1,615.0A5.2,3.7,76,1,0,145.7,625.1A5.2,3.7,76,1,0,143.1,615.0ZM55.8,623.9A6.0,4.1,30,1,0,66.1,629.9A6.0,4.1,30,1,0,55.8,623.9ZM70.7,556.4A3.2,3.1,11,1,0,76.9,557.6A3.2,3.1,11,1,0,70.7,556.4ZM92.9,486.0A4.6,4.1,32,1,0,100.6,490.9A4.6,4.1,32,1,0,92.9,486.0ZM38.1,564.0A4.3,4.1,7,1,0,46.7,565.0A4.3,4.1,7,1,0,38.1,564.0ZM54.4,501.7A2.9,1.8,129,1,0,50.8,506.1A2.9,1.8,129,1,0,54.4,501.7ZM157.7,511.2A2.7,1.8,31,1,0,162.4,514.0A2.7,1.8,31,1,0,157.7,511.2ZM195.7,527.8A4.2,3.8,86,1,0,196.3,536.2A4.2,3.8,86,1,0,195.7,527.8ZM87.0,653.6A5.7,3.8,99,1,0,85.3,664.8A5.7,3.8,99,1,0,87.0,653.6ZM242.9,569.3A2.9,1.5,171,1,0,237.3,570.2A2.9,1.5,171,1,0,242.9,569.3ZM203.0,545.1A4.1,3.1,49,1,0,208.4,551.3A4.1,3.1,49,1,0,203.0,545.1ZM247.2,605.5A3.0,1.5,85,1,0,247.7,611.4A3.0,1.5,85,1,0,247.2,605.5ZM106.4,636.9A4.9,3.9,28,1,0,115.0,641.5A4.9,3.9,28,1,0,106.4,636.9ZM63.4,531.2A3.0,2.8,93,1,0,63.1,537.3A3.0,2.8,93,1,0,63.4,531.2ZM166.6,681.2A3.1,2.4,27,1,0,172.1,684.0A3.1,2.4,27,1,0,166.6,681.2ZM203.3,460.6A5.3,4.9,148,1,0,194.4,466.2A5.3,4.9,148,1,0,203.3,460.6ZM46.5,517.9A4.9,2.7,86,1,0,47.1,527.6A4.9,2.7,86,1,0,46.5,517.9ZM129.7,670.7A4.3,4.0,55,1,0,134.7,677.8A4.3,4.0,55,1,0,129.7,670.7ZM207.9,552.3A5.7,3.1,149,1,0,198.2,558.2A5.7,3.1,149,1,0,207.9,552.3ZM78.2,581.1A4.1,2.4,150,1,0,71.1,585.3A4.1,2.4,150,1,0,78.2,581.1ZM97.2,529.5A2.3,1.5,84,1,0,97.7,534.1A2.3,1.5,84,1,0,97.2,529.5ZM185.1,538.1A4.7,2.6,71,1,0,188.2,547.1A4.7,2.6,71,1,0,185.1,538.1ZM125.3,676.6A5.3,4.4,2,1,0,136.0,677.0A5.3,4.4,2,1,0,125.3,676.6ZM111.6,617.1A2.9,2.3,82,1,0,112.3,622.9A2.9,2.3,82,1,0,111.6,617.1ZM32.8,677.4A5.2,3.1,111,1,0,29.1,687.1A5.2,3.1,111,1,0,32.8,677.4ZM90.7,542.6A4.2,2.7,61,1,0,94.8,549.8A4.2,2.7,61,1,0,90.7,542.6ZM117.3,608.2A3.0,1.8,132,1,0,113.3,612.7A3.0,1.8,132,1,0,117.3,608.2ZM99.3,668.3A4.3,3.7,60,1,0,103.5,675.6A4.3,3.7,60,1,0,99.3,668.3ZM212.7,481.3A2.6,1.4,122,1,0,210.0,485.7A2.6,1.4,122,1,0,212.7,481.3ZM186.2,499.4A3.6,3.3,107,1,0,184.1,506.3A3.6,3.3,107,1,0,186.2,499.4ZM47.8,510.7A2.6,1.5,73,1,0,49.3,515.7A2.6,1.5,73,1,0,47.8,510.7ZM46.3,663.2A3.7,2.8,117,1,0,43.0,669.9A3.7,2.8,117,1,0,46.3,663.2ZM197.1,641.2A3.5,2.4,74,1,0,199.0,648.0A3.5,2.4,74,1,0,197.1,641.2ZM35.8,548.7A4.8,4.8,142,1,0,28.2,554.6A4.8,4.8,142,1,0,35.8,548.7ZM173.5,595.8A2.1,1.4,62,1,0,175.5,599.4A2.1,1.4,62,1,0,173.5,595.8ZM175.2,484.4A3.5,2.6,142,1,0,169.6,488.8A3.5,2.6,142,1,0,175.2,484.4ZM213.5,597.4A2.6,2.3,163,1,0,208.5,599.0A2.6,2.3,163,1,0,213.5,597.4ZM152.3,537.9A4.0,2.3,128,1,0,147.3,544.2A4.0,2.3,128,1,0,152.3,537.9ZM242.7,574.3A4.9,4.5,35,1,0,250.6,580.0A4.9,4.5,35,1,0,242.7,574.3ZM235.4,599.8A2.8,1.5,44,1,0,239.4,603.6A2.8,1.5,44,1,0,235.4,599.8ZM154.6,614.2A3.3,3.2,65,1,0,157.4,620.2A3.3,3.2,65,1,0,154.6,614.2ZM136.6,488.8A5.9,3.3,163,1,0,125.3,492.3A5.9,3.3,163,1,0,136.6,488.8ZM152.8,585.8A4.2,2.7,164,1,0,144.6,588.2A4.2,2.7,164,1,0,152.8,585.8ZM251.6,641.5A4.4,2.5,148,1,0,244.1,646.1A4.4,2.5,148,1,0,251.6,641.5ZM94.9,659.8A3.0,2.3,150,1,0,89.8,662.8A3.0,2.3,150,1,0,94.9,659.8ZM67.7,582.9A2.3,1.2,32,1,0,71.6,585.4A2.3,1.2,32,1,0,67.7,582.9ZM249.1,666.7A4.6,3.0,121,1,0,244.4,674.7A4.6,3.0,121,1,0,249.1,666.7ZM187.3,547.2A4.4,3.9,3,1,0,196.0,547.7A4.4,3.9,3,1,0,187.3,547.2ZM73.3,564.0A2.6,1.8,103,1,0,72.1,569.0A2.6,1.8,103,1,0,73.3,564.0ZM65.4,575.3A3.1,2.4,60,1,0,68.5,580.6A3.1,2.4,60,1,0,65.4,575.3ZM175.1,470.9A4.7,2.7,173,1,0,165.8,472.1A4.7,2.7,173,1,0,175.1,470.9ZM163.3,563.9A3.6,3.0,124,1,0,159.2,570.0A3.6,3.0,124,1,0,163.3,563.9ZM199.6,627.3A3.9,3.9,151,1,0,192.7,631.1A3.9,3.9,151,1,0,199.6,627.3ZM221.1,552.4A3.7,2.9,163,1,0,214.0,554.6A3.7,2.9,163,1,0,221.1,552.4ZM142.8,576.0A3.7,3.6,58,1,0,146.8,582.3A3.7,3.6,58,1,0,142.8,576.0ZM42.4,618.1A5.6,4.9,108,1,0,39.0,628.8A5.6,4.9,108,1,0,42.4,618.1ZM190.7,528.8A4.4,2.3,22,1,0,198.8,532.1A4.4,2.3,22,1,0,190.7,528.8ZM129.4,571.2A3.6,1.9,125,1,0,125.3,577.1A3.6,1.9,125,1,0,129.4,571.2ZM142.5,513.8A3.2,2.3,42,1,0,147.3,518.1A3.2,2.3,42,1,0,142.5,513.8ZM49.1,662.1A5.9,4.9,156,1,0,38.4,666.9A5.9,4.9,156,1,0,49.1,662.1ZM122.3,638.2A2.9,2.5,102,1,0,121.1,643.9A2.9,2.5,102,1,0,122.3,638.2ZM228.9,479.7A5.2,2.9,97,1,0,227.6,490.0A5.2,2.9,97,1,0,228.9,479.7ZM237.2,460.7A3.0,1.9,58,1,0,240.3,465.8A3.0,1.9,58,1,0,237.2,460.7ZM40.1,656.2A5.3,3.7,64,1,0,44.7,665.7A5.3,3.7,64,1,0,40.1,656.2ZM156.8,471.5A2.1,2.0,55,1,0,159.2,475.0A2.1,2.0,55,1,0,156.8,471.5ZM134.0,665.9A5.9,4.4,37,1,0,143.5,673.1A5.9,4.4,37,1,0,134.0,665.9ZM98.8,664.3A5.6,3.3,151,1,0,89.0,669.7A5.6,3.3,151,1,0,98.8,664.3ZM109.6,567.5A2.7,2.5,179,1,0,104.2,567.6A2.7,2.5,179,1,0,109.6,567.5ZM70.5,602.4A2.8,2.6,9,1,0,76.0,603.3A2.8,2.6,9,1,0,70.5,602.4ZM55.0,622.2A3.3,3.1,157,1,0,49.1,624.8A3.3,3.1,157,1,0,55.0,622.2ZM185.4,488.2A4.8,4.6,80,1,0,187.0,497.6A4.8,4.6,80,1,0,185.4,488.2ZM43.4,510.6A3.2,2.8,35,1,0,48.7,514.3A3.2,2.8,35,1,0,43.4,510.6ZM66.8,510.8A4.7,4.2,67,1,0,70.4,519.4A4.7,4.2,67,1,0,66.8,510.8ZM172.4,655.0A4.4,2.7,54,1,0,177.5,662.1A4.4,2.7,54,1,0,172.4,655.0ZM230.4,609.6A3.1,2.5,16,1,0,236.4,611.4A3.1,2.5,16,1,0,230.4,609.6ZM241.8,559.8A4.1,3.1,8,1,0,249.9,561.0A4.1,3.1,8,1,0,241.8,559.8ZM158.2,525.2A3.0,2.7,16,1,0,164.0,526.8A3.0,2.7,16,1,0,158.2,525.2ZM92.1,627.2A3.0,1.9,99,1,0,91.2,633.1A3.0,1.9,99,1,0,92.1,627.2ZM69.1,655.4A6.0,3.1,83,1,0,70.5,667.3A6.0,3.1,83,1,0,69.1,655.4ZM189.7,545.1A5.7,4.3,32,1,0,199.3,551.2A5.7,4.3,32,1,0,189.7,545.1ZM154.1,603.5A3.4,2.9,141,1,0,148.8,607.8A3.4,2.9,141,1,0,154.1,603.5ZM143.1,569.5A5.4,4.5,94,1,0,142.5,580.2A5.4,4.5,94,1,0,143.1,569.5ZM240.6,496.7A5.1,3.0,109,1,0,237.2,506.4A5.1,3.0,109,1,0,240.6,496.7ZM84.6,557.3A5.1,4.5,142,1,0,76.6,563.5A5.1,4.5,142,1,0,84.6,557.3ZM80.7,568.3A2.9,2.3,90,1,0,80.8,574.1A2.9,2.3,90,1,0,80.7,568.3ZM40.9,593.1A4.9,3.8,157,1,0,31.9,596.9A4.9,3.8,157,1,0,40.9,593.1ZM68.0,494.6A2.1,1.5,78,1,0,68.8,498.7A2.1,1.5,78,1,0,68.0,494.6ZM131.2,519.7A5.2,2.8,163,1,0,121.2,522.7A5.2,2.8,163,1,0,131.2,519.7ZM149.7,580.9A5.2,3.2,26,1,0,159.0,585.4A5.2,3.2,26,1,0,149.7,580.9ZM97.6,469.2A3.3,2.6,95,1,0,97.1,475.7A3.3,2.6,95,1,0,97.6,469.2ZM85.1,592.0A2.4,2.1,31,1,0,89.1,594.4A2.4,2.1,31,1,0,85.1,592.0ZM88.7,495.5A4.8,4.4,142,1,0,81.2,501.4A4.8,4.4,142,1,0,88.7,495.5ZM45.6,553.5A3.5,2.1,175,1,0,38.7,554.2A3.5,2.1,175,1,0,45.6,553.5ZM33.4,569.1A5.0,5.0,26,1,0,42.4,573.5A5.0,5.0,26,1,0,33.4,569.1ZM131.3,627.0A2.2,1.3,160,1,0,127.2,628.5A2.2,1.3,160,1,0,131.3,627.0ZM56.8,549.2A3.2,2.3,14,1,0,63.0,550.7A3.2,2.3,14,1,0,56.8,549.2ZM32.4,679.9A5.1,4.4,41,1,0,40.0,686.6A5.1,4.4,41,1,0,32.4,679.9ZM87.5,584.4A3.0,2.2,168,1,0,81.7,585.7A3.0,2.2,168,1,0,87.5,584.4ZM103.2,536.9A5.9,4.8,7,1,0,114.9,538.3A5.9,4.8,7,1,0,103.2,536.9ZM119.0,604.9A2.2,1.5,125,1,0,116.4,608.5A2.2,1.5,125,1,0,119.0,604.9ZM217.8,588.4A5.5,4.1,71,1,0,221.5,598.9A5.5,4.1,71,1,0,217.8,588.4ZM212.5,542.8A5.1,3.1,63,1,0,217.3,551.9A5.1,3.1,63,1,0,212.5,542.8ZM67.1,582.9A2.7,1.6,39,1,0,71.3,586.2A2.7,1.6,39,1,0,67.1,582.9ZM134.0,528.1A3.8,3.8,122,1,0,129.9,534.5A3.8,3.8,122,1,0,134.0,528.1ZM221.3,505.4A3.5,1.9,124,1,0,217.3,511.2A3.5,1.9,124,1,0,221.3,505.4ZM107.4,522.2A2.1,1.2,47,1,0,110.2,525.3A2.1,1.2,47,1,0,107.4,522.2ZM113.4,662.8A4.9,3.1,65,1,0,117.5,671.6A4.9,3.1,65,1,0,113.4,662.8ZM64.7,667.5A3.4,3.0,130,1,0,60.3,672.7A3.4,3.0,130,1,0,64.7,667.5ZM225.9,466.8A3.3,2.3,15,1,0,232.2,468.5A3.3,2.3,15,1,0,225.9,466.8ZM218.6,534.1A5.1,3.9,10,1,0,228.6,535.9A5.1,3.9,10,1,0,218.6,534.1ZM116.3,513.7A2.2,1.2,107,1,0,115.0,517.8A2.2,1.2,107,1,0,116.3,513.7ZM32.3,530.6A3.7,2.9,24,1,0,39.0,533.6A3.7,2.9,24,1,0,32.3,530.6ZM180.4,518.5A4.9,4.1,26,1,0,189.1,522.8A4.9,4.1,26,1,0,180.4,518.5ZM72.2,520.5A4.9,3.4,70,1,0,75.6,529.6A4.9,3.4,70,1,0,72.2,520.5ZM217.5,511.1A3.2,2.1,39,1,0,222.4,515.0A3.2,2.1,39,1,0,217.5,511.1ZM41.3,466.0A4.5,3.5,146,1,0,33.9,471.1A4.5,3.5,146,1,0,41.3,466.0ZM240.6,526.0A4.7,4.5,39,1,0,247.9,531.9A4.7,4.5,39,1,0,240.6,526.0ZM176.6,606.5A5.8,5.4,42,1,0,185.2,614.3A5.8,5.4,42,1,0,176.6,606.5ZM164.7,482.3A3.7,2.6,11,1,0,172.0,483.7A3.7,2.6,11,1,0,164.7,482.3ZM109.8,533.7A4.0,2.6,29,1,0,116.8,537.5A4.0,2.6,29,1,0,109.8,533.7ZM115.6,566.3A2.7,2.2,43,1,0,119.5,569.9A2.7,2.2,43,1,0,115.6,566.3ZM50.1,535.1A3.7,2.1,105,1,0,48.2,542.2A3.7,2.1,105,1,0,50.1,535.1ZM182.0,580.8A4.8,2.5,70,1,0,185.2,589.9A4.8,2.5,70,1,0,182.0,580.8ZM109.1,473.4A3.6,1.9,89,1,0,109.2,480.6A3.6,1.9,89,1,0,109.1,473.4ZM154.8,566.5A3.3,2.1,4,1,0,161.4,567.0A3.3,2.1,4,1,0,154.8,566.5ZM107.5,656.5A4.3,2.7,120,1,0,103.2,663.9A4.3,2.7,120,1,0,107.5,656.5ZM67.8,562.8A4.5,4.4,65,1,0,71.6,570.9A4.5,4.4,65,1,0,67.8,562.8ZM157.8,666.6A5.1,4.1,112,1,0,154.0,676.1A5.1,4.1,112,1,0,157.8,666.6ZM122.3,553.8A3.1,2.8,158,1,0,116.5,556.1A3.1,2.8,158,1,0,122.3,553.8ZM113.0,662.0A2.2,1.2,91,1,0,112.9,666.3A2.2,1.2,91,1,0,113.0,662.0ZM91.9,539.4A5.9,3.4,35,1,0,101.7,546.1A5.9,3.4,35,1,0,91.9,539.4ZM79.5,610.5A2.9,1.5,98,1,0,78.7,616.3A2.9,1.5,98,1,0,79.5,610.5ZM116.3,512.1A4.0,3.3,99,1,0,115.1,519.9A4.0,3.3,99,1,0,116.3,512.1ZM163.9,582.4A5.3,5.2,60,1,0,169.2,591.6A5.3,5.2,60,1,0,163.9,582.4ZM107.1,656.3A3.3,2.8,125,1,0,103.3,661.6A3.3,2.8,125,1,0,107.1,656.3ZM182.3,671.2A5.3,3.1,112,1,0,178.4,681.0A5.3,3.1,112,1,0,182.3,671.2ZM139.5,585.2A3.5,2.2,135,1,0,134.6,590.2A3.5,2.2,135,1,0,139.5,585.2ZM144.1,513.9A3.0,2.0,32,1,0,149.2,517.1A3.0,2.0,32,1,0,144.1,513.9ZM140.0,490.2A2.3,1.2,18,1,0,144.3,491.7A2.3,1.2,18,1,0,140.0,490.2ZM184.1,484.2A3.8,3.4,87,1,0,184.6,491.8A3.8,3.4,87,1,0,184.1,484.2ZM60.7,650.6A5.5,2.9,46,1,0,68.4,658.5A5.5,2.9,46,1,0,60.7,650.6ZM138.2,636.6A3.6,3.1,45,1,0,143.3,641.7A3.6,3.1,45,1,0,138.2,636.6ZM189.7,533.8A3.3,2.9,152,1,0,183.8,536.9A3.3,2.9,152,1,0,189.7,533.8ZM213.1,585.1A3.7,3.1,112,1,0,210.3,591.9A3.7,3.1,112,1,0,213.1,585.1ZM213.5,638.0A2.5,1.7,120,1,0,211.0,642.3A2.5,1.7,120,1,0,213.5,638.0ZM81.7,503.5A2.1,1.6,169,1,0,77.6,504.3A2.1,1.6,169,1,0,81.7,503.5ZM245.0,488.3A4.8,3.4,114,1,0,241.2,497.0A4.8,3.4,114,1,0,245.0,488.3ZM120.0,664.7A6.0,3.1,128,1,0,112.6,674.0A6.0,3.1,128,1,0,120.0,664.7ZM57.9,472.4A3.1,2.7,179,1,0,51.6,472.5A3.1,2.7,179,1,0,57.9,472.4ZM55.0,533.9A2.1,1.6,87,1,0,55.3,538.1A2.1,1.6,87,1,0,55.0,533.9ZM107.9,527.4A5.2,4.8,51,1,0,114.4,535.5A5.2,4.8,51,1,0,107.9,527.4ZM113.4,594.9A5.1,5.0,70,1,0,116.9,604.4A5.1,5.0,70,1,0,113.4,594.9ZM177.6,581.0A5.2,3.0,32,1,0,186.4,586.5A5.2,3.0,32,1,0,177.6,581.0ZM49.5,668.3A3.0,2.2,22,1,0,55.1,670.5A3.0,2.2,22,1,0,49.5,668.3ZM101.8,463.4A4.3,2.4,113,1,0,98.5,471.3A4.3,2.4,113,1,0,101.8,463.4ZM86.5,510.5A3.9,2.7,47,1,0,91.9,516.3A3.9,2.7,47,1,0,86.5,510.5ZM34.5,476.0A5.6,3.6,14,1,0,45.3,478.7A5.6,3.6,14,1,0,34.5,476.0ZM74.4,567.5A6.0,3.6,156,1,0,63.5,572.4A6.0,3.6,156,1,0,74.4,567.5ZM130.5,553.8A5.2,3.6,10,1,0,140.8,555.7A5.2,3.6,10,1,0,130.5,553.8ZM154.7,607.4A4.5,2.9,169,1,0,145.9,609.1A4.5,2.9,169,1,0,154.7,607.4ZM222.1,680.0A3.8,3.5,130,1,0,217.2,685.7A3.8,3.5,130,1,0,222.1,680.0ZM64.9,468.4A2.7,1.5,13,1,0,70.1,469.6A2.7,1.5,13,1,0,64.9,468.4ZM104.7,629.5A3.2,2.5,2,1,0,111.2,629.7A3.2,2.5,2,1,0,104.7,629.5ZM76.7,673.9A2.0,1.6,146,1,0,73.4,676.2A2.0,1.6,146,1,0,76.7,673.9ZM206.8,623.8A3.6,3.2,149,1,0,200.6,627.5A3.6,3.2,149,1,0,206.8,623.8ZM197.5,678.7A2.4,2.3,72,1,0,199.0,683.3A2.4,2.3,72,1,0,197.5,678.7ZM185.8,513.0A5.6,2.9,104,1,0,183.1,523.9A5.6,2.9,104,1,0,185.8,513.0ZM81.7,547.0A3.5,2.9,146,1,0,75.9,550.9A3.5,2.9,146,1,0,81.7,547.0ZM112.5,603.1A3.4,2.2,163,1,0,105.9,605.1A3.4,2.2,163,1,0,112.5,603.1ZM97.0,481.8A3.3,2.9,38,1,0,102.3,486.0A3.3,2.9,38,1,0,97.0,481.8ZM188.4,582.3A4.7,2.8,19,1,0,197.3,585.4A4.7,2.8,19,1,0,188.4,582.3ZM60.2,536.8A3.7,1.9,90,1,0,60.2,544.2A3.7,1.9,90,1,0,60.2,536.8ZM114.4,531.7A4.1,4.0,37,1,0,121.1,536.6A4.1,4.0,37,1,0,114.4,531.7ZM228.2,533.8A5.0,2.8,178,1,0,218.2,534.2A5.0,2.8,178,1,0,228.2,533.8ZM125.4,673.6A2.9,2.0,127,1,0,121.9,678.1A2.9,2.0,127,1,0,125.4,673.6ZM65.4,519.5A4.7,4.6,58,1,0,70.4,527.5A4.7,4.6,58,1,0,65.4,519.5ZM71.6,536.6A6.0,3.4,114,1,0,66.7,547.5A6.0,3.4,114,1,0,71.6,536.6ZM114.8,604.4A2.8,2.3,160,1,0,109.5,606.4A2.8,2.3,160,1,0,114.8,604.4ZM214.1,600.6A4.0,3.2,21,1,0,221.6,603.4A4.0,3.2,21,1,0,214.1,600.6ZM212.7,611.9A3.8,3.2,75,1,0,214.6,619.2A3.8,3.2,75,1,0,212.7,611.9ZM113.8,509.5A4.4,3.5,93,1,0,113.4,518.3A4.4,3.5,93,1,0,113.8,509.5ZM36.8,598.1A3.8,3.0,107,1,0,34.6,605.4A3.8,3.0,107,1,0,36.8,598.1ZM237.1,493.8A3.9,3.9,133,1,0,231.9,499.5A3.9,3.9,133,1,0,237.1,493.8ZM103.2,623.5A6.0,4.2,156,1,0,92.3,628.3A6.0,4.2,156,1,0,103.2,623.5ZM60.1,680.0A4.0,2.4,151,1,0,53.1,683.8A4.0,2.4,151,1,0,60.1,680.0ZM172.3,665.0A5.3,4.8,92,1,0,171.9,675.6A5.3,4.8,92,1,0,172.3,665.0ZM244.3,473.5A5.5,4.7,45,1,0,252.1,481.3A5.5,4.7,45,1,0,244.3,473.5ZM203.6,561.1A4.1,3.9,35,1,0,210.4,565.8A4.1,3.9,35,1,0,203.6,561.1ZM92.2,603.9A2.3,1.8,142,1,0,88.6,606.8A2.3,1.8,142,1,0,92.2,603.9ZM141.0,513.1A5.2,4.8,139,1,0,133.1,520.0A5.2,4.8,139,1,0,141.0,513.1ZM147.9,658.5A5.2,3.0,66,1,0,152.1,668.0A5.2,3.0,66,1,0,147.9,658.5ZM53.7,469.5A3.4,3.2,150,1,0,47.8,472.9A3.4,3.2,150,1,0,53.7,469.5ZM55.8,499.9A3.6,3.3,111,1,0,53.3,506.6A3.6,3.3,111,1,0,55.8,499.9ZM230.2,473.5A6.0,3.6,113,1,0,225.5,484.5A6.0,3.6,113,1,0,230.2,473.5ZM221.7,621.2A2.8,2.3,78,1,0,222.9,626.6A2.8,2.3,78,1,0,221.7,621.2ZM29.9,535.6A3.3,2.7,50,1,0,34.1,540.6A3.3,2.7,50,1,0,29.9,535.6ZM163.4,614.4A2.7,1.5,125,1,0,160.3,618.9A2.7,1.5,125,1,0,163.4,614.4ZM132.5,489.3A2.5,2.4,110,1,0,130.9,494.0A2.5,2.4,110,1,0,132.5,489.3ZM111.7,502.0A6.0,5.1,133,1,0,103.6,510.9A6.0,5.1,133,1,0,111.7,502.0ZM109.7,528.3A3.6,2.1,114,1,0,106.8,535.0A3.6,2.1,114,1,0,109.7,528.3ZM122.5,640.7A3.6,2.6,91,1,0,122.4,648.0A3.6,2.6,91,1,0,122.5,640.7ZM237.9,535.0A4.8,3.0,104,1,0,235.5,544.3A4.8,3.0,104,1,0,237.9,535.0ZM93.2,653.3A3.1,2.9,122,1,0,89.9,658.6A3.1,2.9,122,1,0,93.2,653.3ZM130.2,666.1A3.6,3.1,108,1,0,128.0,672.8A3.6,3.1,108,1,0,130.2,666.1ZM127.0,473.7A3.7,2.4,79,1,0,128.4,480.9A3.7,2.4,79,1,0,127.0,473.7ZM236.1,524.5A4.8,4.0,44,1,0,243.0,531.2A4.8,4.0,44,1,0,236.1,524.5ZM118.2,486.9A5.6,3.5,76,1,0,120.9,497.7A5.6,3.5,76,1,0,118.2,486.9ZM104.9,639.1A5.4,4.3,98,1,0,103.3,649.8A5.4,4.3,98,1,0,104.9,639.1ZM49.7,659.1A2.4,1.6,67,1,0,51.5,663.4A2.4,1.6,67,1,0,49.7,659.1ZM191.7,610.5A3.4,3.2,171,1,0,185.1,611.5A3.4,3.2,171,1,0,191.7,610.5ZM33.3,599.1A3.9,2.6,84,1,0,34.2,606.8A3.9,2.6,84,1,0,33.3,599.1ZM102.9,611.0A4.4,4.4,176,1,0,94.0,611.7A4.4,4.4,176,1,0,102.9,611.0ZM251.1,546.1A5.3,4.4,126,1,0,244.8,554.7A5.3,4.4,126,1,0,251.1,546.1ZM250.9,474.4A3.8,2.7,118,1,0,247.3,481.2A3.8,2.7,118,1,0,250.9,474.4ZM74.2,680.6A2.8,1.9,26,1,0,79.3,683.1A2.8,1.9,26,1,0,74.2,680.6ZM116.9,625.0A2.3,1.4,117,1,0,114.8,629.1A2.3,1.4,117,1,0,116.9,625.0ZM168.3,624.8A3.0,2.7,132,1,0,164.3,629.3A3.0,2.7,132,1,0,168.3,624.8ZM203.6,487.9A3.9,2.0,155,1,0,196.6,491.2A3.9,2.0,155,1,0,203.6,487.9ZM237.6,659.0A2.1,1.4,96,1,0,237.1,663.2A2.1,1.4,96,1,0,237.6,659.0ZM146.7,482.5A5.2,3.4,91,1,0,146.4,492.8A5.2,3.4,91,1,0,146.7,482.5ZM56.2,586.1A2.5,1.4,92,1,0,56.0,591.1A2.5,1.4,92,1,0,56.2,586.1ZM90.6,634.4A3.0,2.1,10,1,0,96.5,635.4A3.0,2.1,10,1,0,90.6,634.4ZM80.5,561.0A4.2,3.1,153,1,0,72.9,564.8A4.2,3.1,153,1,0,80.5,561.0ZM51.9,648.4A2.6,2.6,94,1,0,51.5,653.6A2.6,2.6,94,1,0,51.9,648.4ZM117.0,593.1A5.5,5.4,74,1,0,119.9,603.7A5.5,5.4,74,1,0,117.0,593.1ZM34.2,492.9A5.3,4.6,128,1,0,27.7,501.2A5.3,4.6,128,1,0,34.2,492.9ZM62.0,578.8A2.1,1.2,54,1,0,64.4,582.2A2.1,1.2,54,1,0,62.0,578.8ZM240.7,600.0A5.4,2.8,75,1,0,243.5,610.4A5.4,2.8,75,1,0,240.7,600.0ZM44.7,518.6A2.4,2.3,59,1,0,47.2,522.8A2.4,2.3,59,1,0,44.7,518.6ZM137.8,602.2A5.5,5.4,102,1,0,135.5,613.1A5.5,5.4,102,1,0,137.8,602.2ZM141.8,660.2A3.6,2.3,133,1,0,136.9,665.5A3.6,2.3,133,1,0,141.8,660.2ZM84.1,541.0A3.7,2.7,65,1,0,87.3,547.8A3.7,2.7,65,1,0,84.1,541.0ZM121.6,562.3A2.2,2.0,11,1,0,125.9,563.2A2.2,2.0,11,1,0,121.6,562.3ZM141.8,583.0A3.6,2.2,18,1,0,148.7,585.2A3.6,2.2,18,1,0,141.8,583.0ZM113.6,529.8A3.9,2.4,135,1,0,108.0,535.4A3.9,2.4,135,1,0,113.6,529.8ZM132.7,465.0A3.6,3.6,1,1,0,139.9,465.2A3.6,3.6,1,1,0,132.7,465.0ZM158.3,672.3A3.5,2.8,66,1,0,161.1,678.6A3.5,2.8,66,1,0,158.3,672.3ZM95.1,593.4A4.4,2.9,90,1,0,95.2,602.1A4.4,2.9,90,1,0,95.1,593.4ZM141.1,628.1A2.2,1.2,45,1,0,144.2,631.3A2.2,1.2,45,1,0,141.1,628.1ZM87.2,635.4A3.7,3.4,72,1,0,89.4,642.5A3.7,3.4,72,1,0,87.2,635.4ZM93.8,612.2A2.3,2.3,150,1,0,89.7,614.5A2.3,2.3,150,1,0,93.8,612.2ZM103.4,528.5A5.3,4.7,116,1,0,98.8,538.0A5.3,4.7,116,1,0,103.4,528.5ZM41.5,629.7A2.2,1.8,99,1,0,40.8,634.0A2.2,1.8,99,1,0,41.5,629.7ZM235.0,602.8A2.1,2.0,135,1,0,232.0,605.7A2.1,2.0,135,1,0,235.0,602.8ZM159.4,460.2A4.9,3.5,122,1,0,154.1,468.5A4.9,3.5,122,1,0,159.4,460.2ZM245.6,663.4A2.3,2.0,79,1,0,246.4,668.0A2.3,2.0,79,1,0,245.6,663.4ZM191.2,545.2A3.8,2.7,21,1,0,198.2,548.0A3.8,2.7,21,1,0,191.2,545.2ZM101.3,624.3A2.3,1.3,150,1,0,97.3,626.6A2.3,1.3,150,1,0,101.3,624.3ZM174.5,582.2A2.5,1.4,56,1,0,177.2,586.3A2.5,1.4,56,1,0,174.5,582.2ZM237.9,581.4A5.7,3.4,75,1,0,240.9,592.4A5.7,3.4,75,1,0,237.9,581.4ZM146.9,646.1A2.5,2.3,85,1,0,147.3,651.1A2.5,2.3,85,1,0,146.9,646.1ZM39.0,557.8A3.5,2.9,167,1,0,32.1,559.3A3.5,2.9,167,1,0,39.0,557.8Z" fill="#9c90d6" opacity="0.65"/>
<path d="M132.1,613.6A5.9,5.3,19,1,0,143.3,617.4A5.9,5.3,19,1,0,132.1,613.6ZM189.4,493.8A6.9,4.2,62,1,0,195.9,506.0A6.9,4.2,62,1,0,189.4,493.8ZM62.4,533.9A7.0,5.3,70,1,0,67.2,546.9A7.0,5.3,70,1,0,62.4,533.9ZM155.2,643.5A5.8,4.6,86,1,0,155.9,655.0A5.8,4.6,86,1,0,155.2,643.5ZM240.2,530.1A7.5,4.6,47,1,0,250.4,541.1A7.5,4.6,47,1,0,240.2,530.1ZM194.5,587.4A5.3,2.8,148,1,0,185.5,592.9A5.3,2.8,148,1,0,194.5,587.4ZM113.2,615.4A6.2,5.0,101,1,0,110.9,627.5A6.2,5.0,101,1,0,113.2,615.4ZM239.5,660.0A6.3,4.7,42,1,0,248.9,668.3A6.3,4.7,42,1,0,239.5,660.0ZM189.5,485.1A5.5,5.1,6,1,0,200.5,486.3A5.5,5.1,6,1,0,189.5,485.1ZM177.0,585.5A6.8,4.5,27,1,0,189.0,591.7A6.8,4.5,27,1,0,177.0,585.5ZM245.0,627.1A8.0,4.4,141,1,0,232.5,637.1A8.0,4.4,141,1,0,245.0,627.1ZM70.7,504.7A6.7,5.4,22,1,0,83.1,509.6A6.7,5.4,22,1,0,70.7,504.7ZM202.4,584.8A8.5,8.2,124,1,0,192.9,598.9A8.5,8.2,124,1,0,202.4,584.8ZM115.9,670.0A7.6,4.9,154,1,0,102.2,676.6A7.6,4.9,154,1,0,115.9,670.0ZM189.9,516.4A5.2,2.7,97,1,0,188.6,526.8A5.2,2.7,97,1,0,189.9,516.4ZM84.4,522.6A5.3,3.0,87,1,0,84.9,533.1A5.3,3.0,87,1,0,84.4,522.6ZM93.8,524.0A5.4,4.1,157,1,0,83.9,528.2A5.4,4.1,157,1,0,93.8,524.0ZM65.1,644.9A8.3,6.7,98,1,0,62.8,661.3A8.3,6.7,98,1,0,65.1,644.9ZM196.3,576.5A7.3,7.0,140,1,0,185.2,586.0A7.3,7.0,140,1,0,196.3,576.5ZM92.8,469.7A8.7,5.9,142,1,0,79.2,480.5A8.7,5.9,142,1,0,92.8,469.7ZM85.9,562.1A5.9,5.1,170,1,0,74.4,564.2A5.9,5.1,170,1,0,85.9,562.1ZM146.0,587.3A5.7,3.5,171,1,0,134.7,589.1A5.7,3.5,171,1,0,146.0,587.3ZM59.9,668.7A7.3,3.9,162,1,0,46.0,673.2A7.3,3.9,162,1,0,59.9,668.7ZM48.6,584.3A4.6,4.6,56,1,0,53.7,591.9A4.6,4.6,56,1,0,48.6,584.3ZM214.0,476.0A7.3,3.9,5,1,0,228.6,477.4A7.3,3.9,5,1,0,214.0,476.0ZM160.6,675.7A7.4,6.9,141,1,0,149.0,684.9A7.4,6.9,141,1,0,160.6,675.7ZM144.3,473.5A6.6,3.9,95,1,0,143.2,486.8A6.6,3.9,95,1,0,144.3,473.5ZM105.6,568.6A5.0,4.3,75,1,0,108.2,578.2A5.0,4.3,75,1,0,105.6,568.6ZM142.4,479.9A6.4,5.0,175,1,0,129.6,481.0A6.4,5.0,175,1,0,142.4,479.9ZM155.9,488.5A5.5,3.7,126,1,0,149.4,497.3A5.5,3.7,126,1,0,155.9,488.5ZM244.0,675.0A8.7,8.4,155,1,0,228.2,682.6A8.7,8.4,155,1,0,244.0,675.0ZM238.8,462.2A6.4,5.1,123,1,0,231.7,472.9A6.4,5.1,123,1,0,238.8,462.2ZM164.5,590.0A8.7,4.7,93,1,0,163.5,607.3A8.7,4.7,93,1,0,164.5,590.0ZM245.2,469.5A4.6,4.3,172,1,0,236.1,470.8A4.6,4.3,172,1,0,245.2,469.5ZM34.4,462.0A8.1,6.9,94,1,0,33.4,478.3A8.1,6.9,94,1,0,34.4,462.0ZM148.9,628.8A8.0,4.0,12,1,0,164.7,632.2A8.0,4.0,12,1,0,148.9,628.8ZM200.1,671.6A8.2,5.7,60,1,0,208.1,685.8A8.2,5.7,60,1,0,200.1,671.6ZM107.3,458.8A7.9,5.0,105,1,0,103.1,474.0A7.9,5.0,105,1,0,107.3,458.8ZM139.4,532.3A7.4,5.4,42,1,0,150.3,542.2A7.4,5.4,42,1,0,139.4,532.3ZM223.2,497.2A4.7,3.0,86,1,0,223.8,506.7A4.7,3.0,86,1,0,223.2,497.2ZM198.2,532.9A5.2,4.3,47,1,0,205.3,540.5A5.2,4.3,47,1,0,198.2,532.9ZM137.9,513.9A8.4,5.0,42,1,0,150.4,525.0A8.4,5.0,42,1,0,137.9,513.9ZM101.3,531.3A7.6,6.4,142,1,0,89.2,540.6A7.6,6.4,142,1,0,101.3,531.3ZM141.9,475.5A7.8,4.9,39,1,0,154.0,485.4A7.8,4.9,39,1,0,141.9,475.5ZM125.8,680.2A5.9,4.0,164,1,0,114.5,683.5A5.9,4.0,164,1,0,125.8,680.2ZM251.1,545.7A4.7,4.2,141,1,0,243.9,551.6A4.7,4.2,141,1,0,251.1,545.7ZM105.0,632.1A5.9,3.8,107,1,0,101.6,643.4A5.9,3.8,107,1,0,105.0,632.1ZM192.4,560.2A8.1,4.1,90,1,0,192.5,576.4A8.1,4.1,90,1,0,192.4,560.2ZM105.8,472.3A8.6,4.9,37,1,0,119.5,482.6A8.6,4.9,37,1,0,105.8,472.3ZM231.1,673.5A8.7,5.8,168,1,0,214.2,677.2A8.7,5.8,168,1,0,231.1,673.5ZM52.0,617.4A8.7,5.2,24,1,0,67.9,624.6A8.7,5.2,24,1,0,52.0,617.4ZM177.4,650.6A7.6,7.4,82,1,0,179.6,665.7A7.6,7.4,82,1,0,177.4,650.6ZM105.7,488.5A5.4,5.2,13,1,0,116.1,490.8A5.4,5.2,13,1,0,105.7,488.5ZM65.9,537.6A4.2,2.8,33,1,0,73.0,542.2A4.2,2.8,33,1,0,65.9,537.6ZM60.7,575.0A6.7,5.3,137,1,0,50.8,584.1A6.7,5.3,137,1,0,60.7,575.0ZM140.7,671.4A4.4,2.7,14,1,0,149.3,673.5A4.4,2.7,14,1,0,140.7,671.4ZM89.4,627.0A8.6,6.5,29,1,0,104.5,635.4A8.6,6.5,29,1,0,89.4,627.0ZM107.1,588.3A5.5,4.9,175,1,0,96.2,589.2A5.5,4.9,175,1,0,107.1,588.3ZM123.4,591.7A8.2,6.0,34,1,0,137.0,601.0A8.2,6.0,34,1,0,123.4,591.7ZM236.0,675.3A4.1,3.6,72,1,0,238.5,683.1A4.1,3.6,72,1,0,236.0,675.3Z" fill="#dee2c2" opacity="0.5"/>
<path d="M38.2,497.6A2.3,2.0,38,1,0,41.9,500.5A2.3,2.0,38,1,0,38.2,497.6ZM34.6,508.5A3.6,2.7,118,1,0,31.3,514.9A3.6,2.7,118,1,0,34.6,508.5ZM129.4,503.2A2.0,1.3,7,1,0,133.4,503.7A2.0,1.3,7,1,0,129.4,503.2ZM87.2,597.3A2.7,2.0,112,1,0,85.1,602.4A2.7,2.0,112,1,0,87.2,597.3ZM97.7,538.3A3.8,3.0,75,1,0,99.7,545.5A3.8,3.0,75,1,0,97.7,538.3ZM146.0,563.1A2.7,2.5,42,1,0,149.9,566.6A2.7,2.5,42,1,0,146.0,563.1ZM235.5,647.8A3.8,2.2,92,1,0,235.3,655.4A3.8,2.2,92,1,0,235.5,647.8ZM244.5,525.3A2.3,2.0,42,1,0,247.9,528.5A2.3,2.0,42,1,0,244.5,525.3ZM153.9,496.8A3.9,2.5,17,1,0,161.3,499.1A3.9,2.5,17,1,0,153.9,496.8ZM183.5,539.1A3.1,2.3,166,1,0,177.5,540.6A3.1,2.3,166,1,0,183.5,539.1ZM140.9,545.3A2.0,1.5,48,1,0,143.6,548.3A2.0,1.5,48,1,0,140.9,545.3ZM155.5,599.8A2.9,1.6,90,1,0,155.5,605.7A2.9,1.6,90,1,0,155.5,599.8ZM134.4,601.0A3.9,2.5,80,1,0,135.8,608.7A3.9,2.5,80,1,0,134.4,601.0ZM49.3,638.4A2.5,2.3,144,1,0,45.3,641.4A2.5,2.3,144,1,0,49.3,638.4ZM85.4,659.7A3.0,2.1,100,1,0,84.4,665.6A3.0,2.1,100,1,0,85.4,659.7ZM240.2,569.9A3.0,1.9,151,1,0,235.0,572.8A3.0,1.9,151,1,0,240.2,569.9ZM141.8,537.6A2.4,1.5,150,1,0,137.7,540.0A2.4,1.5,150,1,0,141.8,537.6ZM209.3,677.1A3.8,3.2,144,1,0,203.1,681.7A3.8,3.2,144,1,0,209.3,677.1ZM188.9,640.0A3.6,2.1,147,1,0,182.9,644.0A3.6,2.1,147,1,0,188.9,640.0ZM95.8,513.2A3.8,2.0,92,1,0,95.5,520.9A3.8,2.0,92,1,0,95.8,513.2ZM107.6,637.4A3.2,3.1,168,1,0,101.3,638.8A3.2,3.1,168,1,0,107.6,637.4ZM174.3,477.2A3.3,1.8,177,1,0,167.7,477.5A3.3,1.8,177,1,0,174.3,477.2ZM222.9,530.1A2.4,2.0,136,1,0,219.4,533.4A2.4,2.0,136,1,0,222.9,530.1ZM244.1,600.3A2.3,1.9,11,1,0,248.5,601.2A2.3,1.9,11,1,0,244.1,600.3ZM221.1,629.5A3.6,3.3,102,1,0,219.6,636.5A3.6,3.3,102,1,0,221.1,629.5ZM235.8,601.7A3.0,2.1,64,1,0,238.4,607.0A3.0,2.1,64,1,0,235.8,601.7ZM35.3,495.5A3.6,2.2,118,1,0,32.0,501.9A3.6,2.2,118,1,0,35.3,495.5ZM198.0,614.3A3.0,2.0,49,1,0,201.9,618.9A3.0,2.0,49,1,0,198.0,614.3ZM68.3,603.4A3.4,3.3,60,1,0,71.7,609.2A3.4,3.3,60,1,0,68.3,603.4ZM234.4,662.1A2.6,2.5,111,1,0,232.5,666.9A2.6,2.5,111,1,0,234.4,662.1ZM241.5,631.5A2.7,1.7,94,1,0,241.1,636.8A2.7,1.7,94,1,0,241.5,631.5ZM136.1,467.2A3.7,2.9,85,1,0,136.7,474.6A3.7,2.9,85,1,0,136.1,467.2ZM191.4,516.7A2.4,1.9,43,1,0,194.9,520.0A2.4,1.9,43,1,0,191.4,516.7ZM101.2,476.5A2.1,1.4,95,1,0,100.8,480.7A2.1,1.4,95,1,0,101.2,476.5ZM236.2,602.5A2.8,2.0,42,1,0,240.4,606.4A2.8,2.0,42,1,0,236.2,602.5ZM134.6,673.2A2.2,1.6,123,1,0,132.1,676.9A2.2,1.6,123,1,0,134.6,673.2ZM200.2,584.8A3.3,3.2,162,1,0,194.0,586.8A3.3,3.2,162,1,0,200.2,584.8ZM80.8,580.5A4.0,3.1,34,1,0,87.4,584.9A4.0,3.1,34,1,0,80.8,580.5ZM196.4,474.0A2.3,1.8,49,1,0,199.4,477.4A2.3,1.8,49,1,0,196.4,474.0ZM188.8,621.4A2.6,2.3,117,1,0,186.5,626.1A2.6,2.3,117,1,0,188.8,621.4Z" fill="#8a7cc8" opacity="0.6"/>
</g>
<g filter="url(#sharp)" fill="none" stroke-linecap="round">
<path d="M112.9 465.7l0 .1M187.2 464.4l.1 1.2M65.2 470.5l1.2 .1M183 469.6l.5 .1M40.7 474l-.5 .3M178.3 474.2l.1 .4M207.5 476l0 0M47.7 483.6l-.3 .1M99.7 484.8l-.3 0M82.5 489.2l1 .2M103 488.9l1.3 0M129.2 498.9l.7 .1M163.7 499.3l1.1 .7M30.4 502.5l.1 .3M166.9 502l0 0M47.3 512.5l-0 .2M123.4 511.6l-.5 .7M129.8 512.1l-1.2 .5M214.4 511.4l.2 .1M218.8 511.5l.7 .1M231.3 512.8l-.2 .1M235.5 513.3l-.3 1.1M60.6 518l1.2 .1M180.8 517.7l-0 .6M211.7 518.1l-.9 0M216.8 516.9l0 .3M245.2 516.8l.2 1.3M85.2 522.8l.2 .4M121.7 523l.1 0M134.1 521.2l-.9 .7M60.7 526.1l-.2 .1M80.5 527.4l.3 .3M78.5 530.5l.2 1.2M111.6 531.8l-.6 .5M218.5 531.5l.5 .1M37.7 535.4l-.3 .2M102.9 535.8l-1.2 .4M146.8 536.5l-.7 .9M167.3 534.8l-.1 .9M216.1 535.6l-.1 1.3M61.8 540.2l.6 1M142.8 540.5l.4 1.2M66.9 545.3l-0 1M103.7 545.9l.5 1M164 555.8l-.6 .1M179 554.7l.4 .2M184.9 553.3l.5 .4M124.6 560.5l-1.2 .6M134.2 558.7l.3 0M145.4 558.9l.2 1.1M169.7 558l.1 .3M246.8 560l.1 .1M44.1 564.6l.1 .1M61.6 564.3l0 0M126.9 563.9l-.3 1M217.6 564.3l.3 .2M31.1 567.2l.2 .5M64.9 567.6l-.7 .1M79.4 570.2l-0 0M167.5 569.2l.1 0M175.2 567.3l-.1 1M208.7 567.7l.2 .9M237.3 567.4l.3 .4M240.5 568.7l.6 .4M247.9 567.9l0 0M91.5 572.2l-.2 .5M113.8 572.8l.4 1.3M141.2 572.3l.2 .4M148.6 574.5l-0 .1M161.5 574.1l.5 .6M169.4 574.2l.8 .4M223.7 572.4l-.2 .4M228 571.8l.2 1.3M41.9 579.2l-.7 .4M102.6 577.4l-.6 .1M110.9 577.4l-.3 .2M177.7 577.5l-.4 .3M208.2 579.2l.2 .1M49.2 581.6l.2 .1M102.5 583.7l.2 .9M188.9 581.4l.7 .4M117.6 587.7l.2 .4M44.3 592.5l-.5 .9M92.3 593.1l-.6 .2M172.8 590.7l.1 1.2M239.1 592.7l-1.1 .5M32 595.6l-.7 .7M110.4 597.3l.4 .5M141.7 602.8l.5 .2M151.3 601.2l-.5 .2M248.2 601.8l.2 .1M75 606.9l-.3 .3M84.8 607.2l.1 .2M218.5 605.5l-.2 .1M105 609.6l-.7 .3M115.8 612l-1 .7M151.7 610.9l-.2 .2M164.5 611.4l-.8 .5M216.5 611.6l.9 .1M123.2 616.3l0 .2M137.7 616.6l.2 .1M203.9 615.8l1.2 .1M219 615.1l-.1 0M226.8 616.9l0 .2M241.5 615.8l.4 .1M83.6 619.5l.4 0M124 620.3l-.3 1.2M37.5 624l0 .1M52.1 623.8l-.7 .9M86 623.6l.6 1M175.3 624.9l1.4 .3M203.2 623.3l-.1 .7M247.3 623.5l-.8 .5M34.1 630.8l-.4 .2M201.2 628.7l.2 1.2M40.6 634.9l-.3 0M116.9 633.4l-.1 .4M160.9 633.2l-.5 0M45.3 637.8l.2 .5M70.6 637.8l.9 .5M89 639.8l-.1 0M142.7 637.1l.9 1.1M167.7 637.7l-.5 .7M175.2 637.7l-.6 .9M29.9 643.5l1 .7M74.8 643l0 .1M143.4 642.9l.6 .4M171.9 644.2l.8 .8M248.3 644.3l-1.3 .1M77.9 648.8l.3 .2M114.8 647.1l.9 0M119.8 646.8l-.7 .5M153.7 648.3l.4 .2M190.5 647.5l.8 .3M35.4 652l-1.2 .7M89.2 651.9l-.1 .2M128.9 653.4l1.2 .1M186.6 653.5l-.9 .4M64.8 658.2l.3 .2M114.2 657.7l-.1 .1M119.5 659l0 .1M232.2 657.9l.4 1.1M240.9 660.8l-0 .5M88.7 666.4l-0 1.3M126.5 666.8l-.4 .8M131.5 665.7l.9 .1M173.6 667.2l-.6 .9M69.3 671.5l-1 .2M100.3 672.2l-0 .2M117.7 672.3l-0 .3M246.4 672.4l-.1 .7M195.7 677l.4 .8M201.3 677.4l-.4 .1M248.2 675.1l1 .8M73.8 681.7l-.7 .7M92.4 681.6l-.9 .5M113.2 681l-.6 .4M148.6 681.4l-.6 .7M224.4 682.4l-.2 .1" stroke="#6a4e5a" stroke-width="3.4"/>
<path d="M57.9 465.2l-.7 .9M156.3 466.9l0 .1M167.3 464.1l-.4 1.2M198 466l.1 .4M55.5 470.4l.8 .3M86.9 469.7l-0 .1M92.3 471.3l.7 .1M125.6 471.8l.7 .2M130.2 470.6l.7 .5M221.6 469.2l.2 .1M226.7 471.1l-.3 0M35.4 475.7l-.3 .5M214.9 473.4l-.5 1M235.2 475.8l.5 1.2M44.6 480.1l-.3 .9M169.6 480.5l.2 .2M227 480.2l-1 .7M243.4 479l.8 .8M90.8 483.3l-.1 .1M107 483.5l-.6 1M178 484.2l.5 .7M237.6 484.9l-.3 .4M247.4 484.2l.2 1.4M76.1 489.3l-.8 .8M141.5 489.8l-1.1 .1M247.4 493.4l.5 1M124.8 498.8l.7 .1M123.3 504.4l.1 0M205.2 504.1l-.7 .6M98.4 507.9l-.2 0M107.8 509.3l-0 .2M217.4 507.1l-.8 .6M232.6 507.1l-1.2 .3M51.3 513.4l-0 .2M143 513.7l1 .2M186.8 512.2l.1 .5M64.8 518.4l-.5 .5M152.6 516l.9 0M161.7 517l.2 1.4M45.9 520.6l-0 .5M58.9 522.1l-.1 0M149.3 522.4l.1 .2M162 523.4l0 0M104.8 527.7l0 0M223.7 526l-.1 0M245.4 526.3l-.7 .8M127.3 530.8l-1.2 .4M170.2 530.5l0 .5M210.3 531.6l-.6 .7M66.6 535.9l-.7 .7M109.1 537l-.5 .8M200.3 535.6l-.1 .1M205.9 535.8l-1 .8M245.6 535.3l-.4 .3M57.9 541.7l1.1 .6M68.7 540.8l-.6 .6M85.8 541.3l-.6 .9M180.8 541.9l-.1 .2M78.2 545l.2 .2M131.6 546.5l-1.3 0M151.9 544.5l.3 .4M62.8 549.1l-.6 .5M113.3 549.3l-.3 .7M39.3 554.8l-1 .4M92.2 554.3l.6 .2M212 555.5l1.1 .4M244.6 556l.1 .3M81.5 563.2l.1 .1M92.9 564.2l.2 .2M98 563.5l-.7 .8M142.9 563.3l-.6 .1M56.9 569.7l-.5 .4M230.8 570l-.3 .3M50.9 573.5l.2 0M61.1 573.9l-.6 .1M84.1 573.2l-1 .5M177.6 574.4l.6 .8M211.2 572.4l.4 .4M248.3 574.1l.3 .9M32.1 577.8l-.5 0M123.8 578.7l-.5 .2M220.6 578.9l-1 .5M234.7 576.8l.9 0M241.7 578.1l-.5 1.1M210.5 587.1l0 .1M50.2 592.3l-1.1 .6M167.3 592.8l.3 .9M83.7 597.4l.3 .8M102 596.3l.8 .9M245.8 597.8l.2 .4M87.6 600.9l.1 .1M245.4 602.5l0 .5M64 605.2l.3 .3M116.6 607.2l.5 .2M180.3 605.1l.4 .3M55.2 611.8l0 0M188.8 611.6l-.4 .3M222.7 612.2l-.2 .2M232.5 610.2l.2 .1M47.3 614.7l.2 1.3M69.4 616.6l-.5 .2M73.6 616.3l1.1 .5M144.5 615.6l-.4 .1M77.6 619.8l0 0M203.2 619l-1.2 .7M208.1 621.1l-.5 .8M239.6 620.5l-.4 .5M128 625.9l-1 .3M240.3 624.9l-.7 .8M39.8 628.7l.1 1.2M56.4 628.8l-.9 1M137.7 628.6l.2 0M221.4 629l-.1 .9M245.2 628.8l-.5 .1M30.5 633l.2 .2M37.9 635.3l-1.2 0M51 635l.8 .7M123.6 633l-.1 .6M226.4 633.4l-1.1 .3M77.5 639.8l.8 .6M190.4 638.8l-.7 .3M234.2 639.5l-.5 1M141.1 649.2l-.9 0M131.6 653.2l.9 .3M231.5 651.4l-.3 .6M194.6 656.6l.1 .7M248.7 657.4l-.3 .5M37.9 663.3l-0 .2M47.4 661.2l.1 .2M83.7 661.4l-.3 1.1M90 660.9l1.2 .6M139.1 663.5l-0 .3M166.7 663.6l.2 .2M99 667.2l-.6 .1M135.6 667.7l-0 0M153 666.7l.7 .4M240.1 667.1l-.3 1M249 666.2l1 .8M34.7 670l-0 .7M124.4 671.4l-1.4 .2M138.1 671.2l.2 .5M225.2 671.1l-.3 .6M182.9 676.2l1.2 0M51.9 679.6l-.1 .1M106.8 680.2l-.1 .2M167.3 682.1l-.1 .2" stroke="#5e4660" stroke-width="3.4"/>
<path d="M239.8 466.4l.2 .3M135.7 471l.1 .3M108 475.1l-1.2 .1M61.3 480.9l.1 .1M103.7 478.7l.8 .5M120.7 479.6l.7 .4M202.8 479.3l-.3 .3M224 479.4l.1 0M249.1 480.6l.4 .4M29.7 485.6l-.1 .1M242.3 484.6l.1 .1M181.3 488.3l-1.1 .3M207.3 489.5l.3 .8M212.3 489.4l.1 1.3M123.4 492.9l1.3 .1M177 492.4l-.4 1M213.6 493.6l-.1 .2M37.8 498.4l-.7 .7M93.2 499.2l-.2 .7M104 499.1l.1 .1M156.5 497.5l1.1 .5M67.1 502.3l.6 1.2M145.2 503.4l.5 1.3M50.4 508l.3 1M211.1 507.8l.3 .7M30.5 513.9l.8 .2M35.5 511.4l-.8 .5M74.5 511.7l-0 1.2M162 511.9l-.7 .8M39.1 518.5l.4 .4M123.6 516.8l1 .8M132.2 516l.3 1.3M69.8 522.2l-.6 .2M210.2 522.6l-.1 0M227 522.5l-.2 0M241.4 521l-.1 0M194.2 527.5l0 .9M200.8 527.9l-1.1 .4M144 530l0 .1M231.2 530.7l-.1 .2M49.1 537.1l.2 0M125.7 535.9l-.7 .7M152.5 536.5l-1.1 .5M186.4 534.6l-.7 .6M30.9 540.3l-.2 .1M208 540.6l-0 .8M38.2 544.3l-.7 .3M70.6 544.1l-.2 1.3M81.6 545.8l-.1 1.2M137.9 546.2l-1 .1M164.2 544.1l.1 .6M93.9 549.5l.6 .5M132.9 550l-0 0M183.4 551.1l-.7 .5M199.8 549.2l0 .1M219.7 550.4l-.3 1.2M232.1 550.1l-.6 .1M88.8 554l.1 .2M110 555.3l-.3 .4M131.1 554.2l.9 .2M167.7 553.9l.1 1.2M68.8 558.1l-0 .9M88.7 563.6l-.5 .4M229.6 564.4l0 .2M46.8 569.7l.3 .2M101.7 569.1l.2 0M117.9 569.5l.5 .9M120.9 573.9l-0 .6M36.4 577.4l.3 .6M47.2 576.6l-.6 .7M79.6 577.8l0 0M105.5 578.2l1.1 0M193.1 578.7l-.1 1.2M225 578l-.1 .2M231.6 578.1l.5 .2M61.3 583.4l-.3 .1M72.8 582.9l-.8 .7M135.6 581.9l0 1M158.1 583.7l.3 .2M163.5 583l-.5 .7M215.4 583l.9 .1M31.6 586.8l.2 0M52.9 587.4l-.1 .6M84.2 588.1l.7 .3M102.1 587.8l-.3 .1M121.5 588.5l.4 .2M167.5 586.1l-.2 .6M170 588.4l.9 .2M213.3 588l-.8 .5M72 592.1l-.7 1.2M185.5 592.5l-.2 1.3M207.2 591l.8 .6M216.3 593.1l0 .1M36.6 596.1l1.2 .4M42.6 598l-.1 .2M53 595.3l.8 .7M39.8 602.3l-.2 .2M234.1 602.2l1.3 .2M210.6 606.6l-.1 .1M231.9 606l.6 .2M49.5 611.4l-.4 0M109.9 611l.2 .5M139.8 609.7l.5 .9M250.2 611.4l-.2 .3M91.4 614l1 .9M161.5 616.6l-.2 .7M170.3 616.1l.9 .9M209 615.5l.4 .3M33.7 619.8l.7 .6M59 621.4l.3 .2M103.8 620.7l1.2 .5M186 620.8l.5 1M46.4 624.9l.9 .5M79.9 625.9l-1 .1M100.6 625.7l-.9 .3M143.7 625.7l.4 .4M188.6 625.4l-.8 .1M206.9 628.8l.2 .3M75.3 632.4l.3 1.3M113.4 632.9l-1.2 .3M81.3 638.8l1.1 .4M194.5 638.1l-.1 0M35.7 643.8l.9 .9M132.6 644.2l1.2 .5M218.8 642.1l-.2 1.3M234.8 643.3l-0 .6M218.2 647.4l.8 .7M223.1 649.4l.6 .4M227.8 647l-.6 .2M137.9 652.5l-.3 .1M143.7 652l.6 .2M237.2 651.8l.1 .1M50 656.9l.2 .4M205.4 656.8l0 .1M217.2 657.2l.2 .3M144.4 661.1l-1.1 .5M153.9 661.2l-.3 .3M200.3 662.6l-1.2 .3M49.8 666.3l-1.3 .4M59.4 666.4l-.8 .2M93.2 667.5l-.7 .7M180.1 666.6l-.1 .3M189.8 667.6l.4 .4M223.4 665.9l-.8 .4M95.6 669.9l-.9 .8M107.7 671.2l-0 .7M177.5 670.2l.1 .5M46.2 676.1l-.4 1.3M86.9 676.9l.5 .2M120.1 675.2l-0 1.1M178.9 676.3l-1.1 .1M216.9 676.5l-.1 .5M42.7 680.6l1.1 .7M64.3 680.2l-.2 1.4M115.8 680.7l-.1 .9M160 680.3l.1 .2M170.6 681.1l-.2 .5" stroke="#76604a" stroke-width="3.4"/>
<path d="M30.7 465.7l.2 .2M96.2 467.1l-.7 .5M137.8 466.8l1 .1M62.6 474l.2 .4M95.9 476l.1 .9M115.6 475.3l.1 .3M137.6 474.4l.1 0M172.7 474.6l-.8 .1M225.4 476.1l-.1 1.1M231 474.1l-0 .2M78.1 478.6l-1 .5M174.1 480.6l.9 .9M83.3 483.3l.7 .4M116.6 483.4l-.1 .1M161.6 483.8l-.7 0M198.4 485.5l.2 .3M226.6 485.9l0 .1M32.2 489.7l.2 0M45.3 488.6l.1 .1M126.1 489.7l-1.1 .8M153.7 489.7l.4 .3M47.1 494.5l-.1 0M56.8 495.2l.2 .1M149.3 493.8l-.7 1.1M240.7 493.5l.7 0M76.2 499.8l-.1 .1M83 497.9l-.2 .3M114.8 498.8l-.3 .8M118.2 498.5l1.3 .1M190.7 498.7l.5 .8M227.6 498.3l-0 .1M64.2 503.1l-.6 1.2M99 501.7l1.2 .5M134.6 502.9l-.5 .5M154.9 503l-.1 .1M193 501.9l-.5 .2M208.7 503.1l.6 .3M246.8 503.4l-.4 1.1M38.7 508.6l0 1.2M69.7 514.1l-.1 0M90.3 514.1l-.9 0M153.9 512.5l-.8 .6M176.1 512.5l-.9 .6M119.2 517.6l-.4 .6M140.6 516.7l.8 .2M173.8 516.5l.1 .1M185.7 517.7l-0 0M31.2 522.6l-.2 .1M139.6 522.1l.2 .4M111.1 525.2l-1 .6M159.9 525.3l-1.1 .8M164.5 525.8l0 .3M175.6 526.8l-0 0M106.7 531.2l.2 .2M122.3 531.6l.1 .4M165.1 532.7l.3 .1M33.8 535.2l-.1 .1M46.5 534.8l-1.1 .8M76.2 535.2l-0 .3M100.3 535.5l-1.3 0M129.6 536l.3 .4M42.2 539.2l-.3 1M148.3 540l.4 .2M170.6 540.9l.5 .2M97.8 544.3l.8 .9M157.8 545.8l.1 .1M250 546.3l.5 .1M30.5 550.2l.6 .6M188.8 548.4l.5 1.3M114.8 555.4l.7 .5M147 555.3l-.5 .9M217.2 553.5l.4 .9M116.9 557.9l.2 .4M139.2 558.9l-.1 1.1M160.8 558.7l.2 0M177 558.4l.4 .3M220 557.8l-1.1 .6M71.7 564.4l1.2 .1M115.8 564l.2 .3M120.1 562.8l0 0M145.4 563.8l0 0M221.4 564.4l.5 .6M143.6 567.8l-.5 .3M65.4 574.5l-.3 .2M78.2 572.2l.2 .3M159.9 576.7l-1.2 .5M238.7 581.7l1 .4M243.7 582.9l0 .2M249 583.3l.2 .9M91.3 586.5l.3 .9M113.1 586.4l.1 .2M160.7 587.5l-.1 .9M187.6 587.4l1.3 0M229 586l.3 .5M61.1 591.6l1.1 .8M180.8 593.1l.1 .1M48.9 597.8l-.3 .1M67.5 596.6l-0 1M97.1 597.1l-0 .6M146.4 597.9l-.9 .5M214.5 597l.3 .4M82.2 601.6l-.3 .3M129.4 600.7l0 .4M165 600.8l-1 .3M191.8 602l-.2 0M194.7 601.8l.2 0M71.2 610.9l-.5 .7M148.5 610.2l-0 0M159.6 609.7l-.8 .7M30.9 614.8l-.6 .2M35.6 616.2l.7 .1M116.9 614.6l.2 .2M177.2 614.9l1 .8M40 620.7l-.4 .1M69.7 623.6l-0 .2M112.8 623.2l-.2 .7M223.9 624.6l.8 .5M66 628.4l.9 .7M104.1 629.5l.1 0M134 633.3l.8 0M33.2 638.1l.7 .9M130.2 638.2l-.3 .3M150.5 637.4l.8 1.1M158.5 638.7l1 .9M184 639.1l-1 .8M199.8 639.6l.6 .9M39.7 644.2l1.2 .6M84.4 643l-.2 1.1M110.7 643.5l-.1 .3M123.9 644.7l-1.3 .5M128.7 643.9l.3 .7M159.1 643.5l.4 .2M230.8 642.8l.2 .4M108.4 648.9l.6 1M73.4 651.9l-1.1 .1M99.5 651.7l.2 .1M148 656.1l-.7 .8M178.8 658.6l-1 .8M118.8 661l-.6 .7M123.3 662.3l.6 1.2M215.5 660.6l-.1 1M38.3 666.8l.3 0M111 666l-.6 .3M145.9 667.6l-0 0M42 671.9l0 .1M111.8 671.6l-.8 .2M126.1 675.7l-.2 1.1M132.5 676.2l-1.1 .1M181.7 680.7l.4 .1M213.6 680l-.8 1" stroke="#64504a" stroke-width="3.4"/>
<path d="M47.3 465.4l.1 .5M80.5 465.9l-.4 .4M86.8 464.9l-.7 .4M106.4 467.1l-.8 .3M123.8 465.2l-0 .8M134.5 464.9l-.4 .7M143.6 465.8l-.1 .3M177.3 464.7l0 0M202.4 469.6l-.1 .2M213.2 471.1l-.1 .1M251.3 470.9l-.6 .1M67.1 474.1l.5 1.1M79.7 473.4l-.4 1.1M133.9 475.5l-.9 .6M186.2 476.2l-.2 .3M38.5 479.9l.4 0M216.7 481.3l.3 .1M232.4 479.1l-.5 .1M237.8 478.3l1 .9M43.5 483.4l-.4 1.1M181.7 483.9l1.2 0M173.7 488.8l-.1 .2M238.3 489.2l-.1 0M51.1 494.6l-.1 1.1M85.5 493.1l.1 .2M96.1 494.7l.6 .2M128.5 493.6l-0 0M138.7 495.1l.2 .6M230.5 493.3l-1.2 .2M49.2 498.3l.3 .8M54.1 498.8l-.3 .8M205.3 499.5l-1 .9M34.8 502.8l.2 .3M41.6 503.7l-0 1M139.5 504.3l-0 0M116.1 506.8l-.1 .4M206.4 508.2l-.4 .2M116.1 511.7l-.2 .1M241.7 511.8l-.3 .2M101.9 516.3l1.2 .3M135.5 516.2l-.3 .4M188.9 516.9l.3 .1M223.6 518.1l.2 .2M251.2 515.8l0 .4M94.1 523l-0 .1M219.4 522.7l-.3 0M236.3 522.5l.6 1.1M248.1 521l-.7 .3M127 525.9l-.4 .7M234.4 527.2l.1 .9M193.3 529.9l.9 .9M116.1 536.1l-1 .2M156.8 536.9l0 .5M155.7 541.3l.4 .7M60.3 544.9l.3 .6M167 544.4l.6 .8M185.5 546.2l.1 .3M67.2 549.5l.5 .9M150.9 548.7l.1 1M242.4 548.2l.3 1.1M51 553.2l.1 .4M207.3 554.3l-1.2 .1M214 560.6l.4 .5M180.1 564.9l-.1 .2M212.9 563.6l.6 .6M40.9 569.9l-.6 .1M128.3 567.4l-.3 .4M137.2 569.7l.8 .8M155.3 570l1 .4M159.6 569.6l.9 .7M218.8 568.6l-.1 .2M98.3 574.5l.6 .5M195.9 573.6l-.3 .2M203.3 579.5l-0 .1M124.3 582.3l.3 .4M45.8 586.6l-0 .1M96.8 587.8l-.5 .2M156.7 586.8l-.4 .4M237.7 586.8l-.2 0M89.2 590.9l-.1 .2M136 592.5l.8 .4M158.7 593.2l.7 .2M228.8 592.5l-1.2 .4M106.8 595.4l-.5 1.1M170.9 596.3l.3 .3M210.3 597.5l0 .3M219.5 597.5l-.3 .4M56.6 602.3l-.2 .1M61.6 601.2l.2 .6M147.8 602.1l.4 .7M218.8 602.4l-.4 .2M222.7 601.9l-.1 .9M238.5 601.9l.5 .2M46.9 604.8l.7 .6M56.4 606.4l0 .1M242.5 611l.6 .6M85.5 614.6l.4 .7M107.2 614.4l.1 .1M127.8 616.7l.2 .1M188.2 614.7l-0 0M93.5 621.1l-.3 .5M119.5 620.8l.2 0M157.2 620.8l-.7 .1M189.5 621.3l-.4 .6M250.7 620l-.9 .3M57.4 625l-.9 .6M182.3 625.3l-.4 .6M221.2 623.5l-.3 .6M142.8 628.1l-.2 .9M174.9 630.9l-.7 .1M203.6 634.5l0 .1M104.9 639.1l-0 .1M63 644.2l.3 .6M96.3 644.6l-.9 .1M154 643.2l.7 .9M33.4 648.1l-.2 0M60.4 648.7l.4 .4M137.2 647l0 .8M168.4 648.4l-.2 .2M87 658.8l-.1 0M124.8 656.5l-.2 .5M152.4 657.5l.8 .5M95.9 661.9l.7 .3M134 661.5l.6 .4M192.6 662.9l.1 .1M223.9 662.7l1.3 .4M212.2 667.7l-.2 .2M30.8 672l.9 .9M48.1 672.8l-.5 .4M52.2 672l-1.1 .5M59.5 671.6l-1.1 .1M90.1 671.8l.4 1.1M134.1 670.3l.5 .5M199.2 672.1l0 .2M34 675.7l-.1 .3M49.8 677.5l.8 .2M81.9 677l.5 0M188.9 676.1l.1 .1M206.3 675.5l-.1 1M67.3 682.4l-.3 .1M99.7 681.9l.1 .7M138.2 680.5l.8 .9M176.4 681.7l-0 .1" stroke="#6a4e5a" stroke-width="4.0"/>
<path d="M196.1 471.8l.1 .4M239.6 469.3l1 .8M53.2 475.2l.3 .8M73.2 474.9l.5 .4M83.4 475l-.1 .2M160.7 476.1l.1 .2M167.7 474.1l-.7 .8M92.6 480.4l0 .3M191 479.7l.4 .5M52.8 484.5l-0 0M74.8 485.3l.6 .1M231.6 483.7l-.6 1.2M156.6 489.3l.1 .7M30.9 494.4l-.3 .2M79.9 493.8l-.5 1.1M155 494.9l.4 .1M181.1 492.4l-.4 .9M60.6 499.5l.1 1.2M135.8 499.5l.4 .3M140.8 497.4l-.3 .8M224.1 499.9l-.6 .1M85.4 503.5l-1.1 .3M231.4 502.5l0 0M236.5 502.4l-.4 .7M94.1 508l0 0M135.6 508l-.1 .1M64 512.4l-.3 .1M192.1 512.5l-.1 0M83.1 518.2l.7 0M99.6 518.2l.2 .2M145.6 516.8l-.2 0M145.8 521.8l-.7 .2M213.4 520.8l.5 .5M56.2 525.7l1 .7M113.7 528.1l-1 0M136.3 526.9l-.2 .3M177.6 532l.3 1M163 536.7l-.1 .2M249.4 537l.5 .4M47.3 539.4l-.3 1.1M116.1 541l1.2 .2M129.5 539.5l0 .2M165.3 539.8l.4 0M220.2 540.5l1 .4M242.2 540.7l.4 .8M32.7 544.2l-.6 1.1M110.8 543.8l-.3 .7M172.9 544l-.6 .2M37.7 550.5l.3 .2M90 550.9l-0 .3M213.7 550l-.1 0M237 548.5l-.9 .6M247.1 550.8l-.3 .6M61 555.5l.9 .2M65.6 554.3l-.1 .1M73 556.2l-0 0M100.1 553.6l-.2 0M140.2 553.9l-.2 .3M32.3 558.4l-.6 0M75.4 559.2l-.1 .3M90.2 560.1l.5 .1M154 560l-.4 .1M104 572.1l-.8 .6M95.5 578.7l-0 .3M132.9 579.1l-.4 .7M143.1 577.1l1.3 .3M213.6 578.7l-0 .1M43.7 581.8l.1 .3M169.3 581.8l-.6 .9M178.2 581.5l.5 .7M213.2 581.3l-.9 .2M64.3 596.7l-0 0M81 595.8l-.6 .6M118.4 595.5l-.4 .7M148 597.9l.5 .2M178.5 596.9l-.6 .6M198.6 596.7l-.5 .2M203.1 596.1l-1.1 .2M65.6 602.1l0 0M136.3 600.8l-0 .5M158.5 602.1l-.9 .8M179.8 600.8l1.1 .4M201.7 601l-.2 .9M37.8 606.2l-.1 0M41.8 605.2l.4 1.2M153.3 604.7l1 .5M167.2 606.4l.1 .5M171.4 605.9l-0 0M188.8 607.4l.4 .2M82.3 610.8l1.1 .9M195.6 609.7l-.1 1.4M212.3 609.6l-.7 .9M238.3 609.8l.3 .6M95.1 616.6l-.4 .6M140.9 619.8l-.9 .9M175.7 621.2l-1.2 .5M31.8 623.8l-1.2 0M106.3 624.8l.1 1M117.9 623.8l-.4 .2M197.9 623.9l-1.1 .1M125.2 630.6l-.6 .3M190.2 628.7l-.7 .1M216.2 628.4l.3 0M56.9 633.2l.2 0M128.2 633.6l-.4 1.2M230.3 634.6l-.1 .9M178.6 639.4l-.3 .6M249.3 637.9l.3 .9M80.6 643.9l.5 .2M71.7 647.1l-.1 .3M93.3 648.1l.1 .6M99 647.6l-.1 0M131.4 647.8l.1 .4M182.9 649.2l.7 .5M194.5 649.5l-.3 .1M200.7 648.3l-.1 .1M207.6 648.2l.2 .7M47.7 653.6l-.7 .9M208.1 651.5l-.6 1.2M219.5 653.5l0 .7M246.5 653.7l-1.3 .5M39.2 658l-.2 .4M44.8 658.4l1.3 .5M228.8 662.6l.8 .8M247 660.9l.2 .6M77.4 665.8l1 .5M183.4 666.5l1.1 .1M73.1 670.8l.6 .3M187.5 670.9l-.8 .1M209.3 671.7l.1 1.1M215.4 671.9l.5 .4M71.5 677.1l.9 .4M163.1 677.4l-.2 .3" stroke="#5e4660" stroke-width="4.0"/>
<path d="M90.3 466.2l.6 .6M225.7 465.7l.8 .1M235.8 465.9l-1.1 0M45.1 469.7l-0 0M207.2 469.8l.4 .5M123.5 474.3l0 .3M243 475l-.1 0M71.4 480.4l.1 .1M124.2 479.7l-.4 1.3M136.3 478.7l1 .3M146.9 479.8l.1 .5M206.3 479.3l.4 .1M79.2 483.6l-0 .2M154.7 483.3l-.6 .5M202.8 483.7l-.1 .4M54 489.5l-0 .4M94.1 489l-.3 .7M147.7 489.1l-.7 .3M185 487.9l.2 .5M227.5 488.1l.6 .3M233.8 487.5l.4 1M101.8 493.5l.2 1.4M193.9 492.8l-0 .1M197.5 493.2l.6 .5M226.5 492.8l-0 .8M107.4 497.8l.8 0M231.8 499.6l.1 .5M244.4 498.2l1 .7M250.7 499.7l1 .3M73.5 502.3l-.9 .2M33.1 507.5l-1.1 .8M55.4 508.5l-.7 .6M71.6 508l.2 0M75.9 508.6l-0 1.4M142.9 509.1l-1.1 .1M223.3 508.7l-.4 .1M227.2 508.3l-0 .2M56.6 513.3l.3 1M107.6 512.5l-1 .8M207.9 513.2l.1 .2M44 517.1l0 0M87.6 518.5l0 0M78.7 522.5l.9 .7M117.2 523.2l.1 .2M185.9 522.1l-.1 .9M193.8 520.9l.1 .4M204 521.3l-0 .6M167.3 526.8l.5 1.1M211.7 528.1l-0 0M101.4 531.1l-.5 0M149.4 530.2l.2 .3M154.9 532l-.3 .3M187.1 532l-.1 .4M215.7 530.4l-.8 .1M92 536.9l1.1 .3M180.5 535.8l-0 1.2M77.9 540.8l.1 0M101.6 540.8l-.6 1.2M138.3 541.6l-.1 0M178 539.6l.2 .1M193.9 539.7l.1 .9M121.5 544.6l-.3 .1M202.2 544.2l.5 .4M41.4 549.9l0 0M145.4 550.7l-.9 .8M161.5 549l-.6 .4M165.5 551.3l-.2 .4M171 551l-.5 .1M55.3 553.4l1.1 .6M194.1 554.5l.9 .2M51.3 559l1.1 .7M85.9 560.7l-.4 .1M193.4 557.9l-.5 .8M33.3 574.1l-.4 1M89 573.1l.1 .1M184.8 574.1l-0 .1M191.2 572.7l.1 1.3M206.3 574.5l.1 0M74.2 578.5l0 0M171.5 578.5l-.8 .6M180.7 577.3l.1 .2M38 583.4l-.5 .5M88.8 582.6l.2 .2M118.9 581.8l-.9 .7M227.5 583.5l-.2 .1M58.1 588.1l-.7 .6M137.4 586.2l-0 .8M109.4 592.4l-1.3 .4M131.7 593.2l-.1 .1M147.9 592.8l-.2 .5M163 590.5l-.2 .6M197.2 592.5l-.7 0M139.2 595.9l.7 .6M192.9 597.5l.7 .4M78.4 602.2l-.3 .3M92.9 600.6l-.2 .4M173.5 602.8l.3 .2M89.8 606.5l-.1 .4M43.2 610.6l.3 .1M61.8 609.9l-.8 .9M118.4 609.6l.2 .1M50.2 619.1l-.1 .7M146.6 619.9l-.1 .4M211.5 618.5l.5 1M242.7 621.1l-.2 .8M73.4 624.3l-.7 .3M214.7 624.5l.1 .1M49.1 629.3l-.9 0M72.8 629l-0 .2M93.7 629.7l1.4 0M212.4 630.6l-1.2 .1M85.8 634l-.6 .7M145.2 633.4l1 .7M213.1 633.2l.1 .1M66.6 639.3l-.3 .4M123.9 638.1l-.1 .5M146.9 639.7l-1 .3M207.5 638.6l-.2 .5M46.3 645l.3 .1M53.3 642.7l.1 0M89.8 642.1l-.1 .9M177 642.3l-.4 .2M210.6 642.5l0 .3M242.1 643.3l1.2 .4M104.6 647.2l.4 .4M51.8 653.2l.3 0M68.7 651.5l.5 .7M225.6 652.7l-.4 .2M34.5 656.1l.6 1.2M92.3 656.7l-0 .3M239.3 657.2l1.1 .5M42.7 661.3l.2 .2M56.7 662.5l.7 .1M150.6 661.5l.4 1M32.6 668.2l-1.1 .3M44.7 665.9l-.1 .4M67.2 665.6l.5 1.1M157.1 667.7l.4 .5M195.9 667.7l.8 .6M64.1 671.7l.4 .3M150.2 672.4l.5 .2M180.9 672.9l-0 0M108.1 674.7l.1 .7M29.6 681.2l.7 1.2M80.3 681.5l-.5 .1M96.8 680.3l-.4 .4M134.6 681.2l-.3 .4" stroke="#76604a" stroke-width="4.0"/>
<path d="M62.3 466.2l.8 .2M115.7 465.3l.1 .1M115.1 471l-.2 0M173 469.8l.5 .2M100.5 475.2l-1 .3M33.1 478.8l0 .2M88.8 481.2l.2 .2M96.6 478.3l1.1 .5M37.3 485.7l.3 .1M57.4 485.4l.9 .7M64.5 483.5l.8 1.1M113.4 484.9l-0 0M137.8 484.3l.8 1.1M187.1 484.5l.5 1.1M107.7 493.3l.5 0M165.1 494.3l.7 1M33 498.8l.3 1.1M67.1 497l1 .8M86.2 498.3l-0 .2M90.6 504l-.6 .9M105.3 507.6l-.1 .2M125.7 507.2l.9 .8M196.2 508.7l.4 .6M84 513l.3 .7M148.1 513.5l.2 .1M169.4 517.9l.1 0M232.7 515.8l-.2 1M36.1 522.2l.7 .5M41.1 522.6l-.3 .6M90.8 521.5l-.5 .4M110.6 521.4l-.1 .7M44.2 525.7l.5 .6M77.3 527l-.2 .1M142.4 525.9l-.8 1M207.6 525.4l.8 .1M216.5 525.1l.4 .5M59.5 531.3l-1 .6M83.5 530.4l-.4 .8M224.9 531.6l.5 1M247.7 531.4l-.4 .2M56.6 535.4l.3 1.1M70.7 535.9l.4 .8M83.7 534.7l.1 .2M234.7 534.7l0 .2M112.4 539.6l.6 .8M197.1 542l-.8 .2M234.8 540.1l0 .6M248.2 540.4l-0 .1M48.5 544.1l.4 .2M55.1 544.9l-.1 .3M86.9 544.2l.3 .4M93.5 545.2l.3 .5M180.1 546.7l-0 .4M207.9 544.8l-.6 .7M83.6 549.2l.4 0M123.1 548.8l-.3 .2M138.2 550l-1.1 .6M136.2 554.7l-1.2 .5M234.1 554.5l-0 .1M248.1 555.1l-.1 .8M96.4 558.5l.6 .5M102.3 558.3l.1 .6M126.8 559l-.3 .1M64.9 565l-.4 .7M76 562.9l.3 0M172.9 565.5l-.8 0M249.9 562.9l-.1 .6M35.1 568.7l.4 .4M54.5 569.7l-1 .7M73.1 567.8l0 0M111.5 567.1l1 .7M151 569.4l-.5 .8M170.5 567.9l0 .1M181.3 567.9l.3 0M225.1 567.5l-.5 .3M135.1 573.5l.8 .2M157.4 574.3l-0 0M217.2 573l.7 .6M239.5 571.6l-.9 1M88.9 578.1l.5 .6M83.5 583.2l-.1 .8M140 583.4l-0 .1M153.7 583.6l-.2 .1M231.7 582.5l.4 .1M35.9 586.8l-0 .2M79.1 586.6l-.9 .2M149.4 588.5l-.4 .7M241.1 587.5l-.7 .8M245.7 587.8l.5 .2M40.8 591.1l-.9 .7M65.5 593l-.9 .5M104.6 593l-.1 .7M121.2 591.7l.4 .7M125.3 592.6l-.2 .6M213.1 592.7l-.2 .3M250.2 592.1l0 .1M91.2 595.6l.1 .1M121.6 596.7l0 0M128.8 597.5l1.2 .2M164.2 597.8l.4 .5M51.6 607.2l.1 0M158.8 606.3l.3 .2M176.6 605.1l1.1 .6M216.3 605.2l-.4 .1M226.9 606.9l-1 .1M77.4 611.9l-.4 .5M94.3 611.3l-.8 0M192.9 616.6l-0 0M54.3 619.6l.3 1.2M180.5 619.6l0 1M216.1 620.9l.3 .1M223.4 619.2l-.1 .7M233.5 619.7l0 .1M122.5 625.9l-.6 .5M133.1 623.6l-1.2 .2M160.6 625.8l.2 0M194.4 624.9l.1 .3M208.4 625.2l.7 .1M120.4 628.3l-.1 .8M234.2 628.7l-0 .5M46.2 635.3l-.5 .2M90.8 634.6l.5 .8M171.3 634.6l.1 .2M235.8 633.2l-.1 0M245.8 635l-.5 .1M101 643.1l0 .2M188.2 642.4l-.1 .6M56.1 647.4l.7 .9M64.6 648.9l.2 0M83.1 647.3l-1.2 .4M211.4 649.5l.1 .3M249.1 648.8l1.2 0M29.8 652.5l.8 .8M80 651.9l.1 1.2M112 653.3l-.6 .6M169.9 652.1l.4 0M215.5 653.3l-.5 .3M137.4 658.1l-.6 .4M163.2 657.8l-1.2 .4M32.5 662.1l-.4 .4M54 662.7l-.9 .1M62.6 662.8l-.6 .1M234.6 661.7l.1 1.3M71.2 665.5l.8 .5M114.4 665.2l-.2 1.3M200.4 666.4l-.6 1.2M232.9 667.8l-.1 .3M129.2 671.9l-.4 1M203.5 670.8l.5 .6M220 672.7l-.1 .7M55.7 676.9l.8 .8M134.4 676.6l.8 .4M172.3 675.8l1.2 .2M211.1 677.2l.1 .5M227.5 676.3l-.3 1.2M35.6 680.2l.5 1M127.6 680.6l.9 .5M220.4 681.6l-.1 0M229.9 681.4l-.3 .1M245.7 681.2l.6 0" stroke="#64504a" stroke-width="4.0"/>
<path d="M52.6 465.3l.3 .3M245.8 465l.1 .2M34.9 470.9l-.7 .1M39.3 470.6l.3 .7M77.5 469.1l-.4 1.1M104.5 471.3l.6 .7M159.3 470.7l-1.1 .1M88.7 474.7l.7 .2M181.3 476.4l-.4 .1M221.6 475.8l-.4 .1M139.8 480.1l.6 .5M153.2 480.6l.2 .4M157.9 480l.1 .6M183.5 478.3l-.1 1M95.1 485.6l.3 0M144 483.6l.2 .2M219.9 485.8l.5 .2M71.2 488.7l.5 .5M87.3 489.9l.6 .5M170.6 489.4l-.7 1.1M64.6 493.4l-.2 .2M132.1 494.1l-0 .2M170 494.3l-.1 .1M218.8 494.1l.6 .6M100.2 498.6l-.9 .1M186.2 499.4l-.5 1.3M211.5 499.7l-.1 .5M218.9 497.4l-.2 1.3M128.9 502l-.8 .6M214.6 504.5l-.3 .4M60.9 508.8l1 .8M88.4 506.7l-.3 .2M119.6 508.1l-0 0M150.6 508.2l.6 .3M245.8 508.4l-.4 .1M100.2 512.6l-.6 .3M197.5 511.2l-.6 .5M200.3 518.2l.9 .3M51.7 521.9l-.8 .2M73.9 521l-.5 1M171.2 520.8l.3 1.3M175.6 521.9l-1 .1M100 526.9l-1 .4M119.3 525.2l-.3 1.3M248.8 528l-0 .1M137.6 532.1l.2 0M197.6 537l-.9 .5M229.7 537.2l-.1 .3M106.4 540.1l-.8 .5M186 540.8l.1 .3M215.3 540.7l.7 0M223.9 539.7l.2 .8M229.9 540.8l.4 1.2M44.7 545.9l-.7 .6M113.9 546.5l.3 .3M141.6 546.1l.8 1M228.6 544.3l-.4 1.1M245.9 544l-.5 .5M45 555.5l-.2 .5M82.1 555.4l.6 .2M238.9 553.7l-0 0M78.6 558.1l-0 .3M106.4 558.1l-.2 .1M196.9 558.9l.4 .9M235.6 558.8l-.2 1.1M34.4 563.3l-.4 .1M108.7 563.3l-.1 .8M130.1 564.2l.5 .9M94.9 569l1 .3M51.5 578.2l.4 .3M138.5 576.9l-.1 .7M153.6 576.8l-.1 .9M198.6 578.1l.7 .2M32.6 582.3l-.7 1.1M110.6 583.1l.1 0M113.6 582.7l-.2 0M145.7 582.7l.7 1.2M184.4 582l.1 1.1M129.2 588.3l.4 .2M194.3 586.5l-.1 0M77.1 591.3l.8 1M98.5 593.1l-.3 1M141.8 590.6l-.1 1M199.4 592.3l-0 0M58.4 596.5l.1 .6M241.7 596.9l.1 1.2M168.8 602.4l1.2 .5M212.4 601l-.9 .6M228.9 602.4l-0 0M32.5 605.7l-.1 .2M105.3 606.4l-.1 0M127.3 606l.2 .1M134.8 607.4l.4 .4M145.8 604.8l0 .2M150.8 607.5l-1 .2M242.5 605.5l-.2 .1M33.9 612.2l.1 .1M111.7 616.8l.1 .2M71.1 618.8l1.1 .3M98.2 619.8l0 .2M194.7 620.4l-.8 .8M41.6 624.7l-1.1 .6M231.9 624.4l.1 1.1M75.8 630.2l.9 .9M108.7 630.2l.1 1.2M113.5 629.2l-.9 .7M150.8 630.3l.5 .2M156.9 629.1l-.2 .6M167.8 629.8l-.4 .2M138.6 634.3l.2 0M150.9 633.7l-.2 .1M177 633.7l1.4 .2M187.7 634.6l-.3 .1M194 634.4l.3 1.2M241.2 633.1l-.2 .3M93.8 640.1l-.9 .5M110.8 638.4l-.4 .1M119.6 638.7l-0 .2M215.5 639.6l.7 .4M57.6 644.6l.1 0M138.6 642.9l-.4 .6M192.2 643.2l.6 1M51.1 647.2l.4 .1M231.5 648.9l.5 .2M43.6 651.9l-.6 .7M122.4 652.3l-0 0M156 651.7l-.3 .2M204 651.6l.1 .2M70.5 657.3l-.1 .6M109.2 657.1l-.1 1.1M129.8 656.5l.5 .3M158.4 658.7l.6 .1M200.1 658l.6 1.2M160.5 662.7l.4 1M176.7 661l-.2 .7M141.5 666.2l-.3 .2M168.4 667.2l1.1 .7M207.1 666.2l0 .1M218.1 666.2l-.4 .6M230 665.4l-1.1 .5M154 671.8l-.1 .1M159.7 671l-.7 .2M195 671.3l-1.2 .1M237.5 672.4l.1 .6M39 676.5l.1 .4M102.5 675.3l0 .3M148.5 675.8l-.8 .4M159.2 675.5l0 .1M233.8 675.8l0 .2M243.1 675.5l-0 .2M58.9 679.8l.2 .4M237.2 682.2l.5 .3" stroke="#6a4e5a" stroke-width="4.6"/>
<path d="M34.7 465.8l0 .2M219.4 466.3l-.1 1.3M140.5 471.1l-.4 0M151.7 470.3l-.3 .6M219 470.2l-.6 .6M232.3 470.7l-.5 .1M110.5 473.9l.5 .9M126.6 475l1.1 .8M65.7 480.8l-.8 .7M132.4 479.9l0 0M210.8 481.3l-.6 .2M128.5 484l-.2 .1M132.8 483.3l-1.1 .7M215 483.4l.2 1.2M162.4 487.7l-.8 .5M195.9 488.9l.2 .3M36.7 495l-0 .7M42.6 493.7l-.1 .4M67.9 492.5l-.7 .8M74.4 492.9l-0 0M118.5 495.3l-.1 0M204.3 492.6l.1 .2M44.7 498.9l-0 .5M146.7 497.8l.2 .3M80.8 501.4l.5 1.3M182.1 503.2l-.4 0M80.8 507.7l.6 .6M238.4 508.7l1 .2M248.2 508.3l1 .8M226 511.9l-1 .4M245.5 512.3l.7 .1M158.5 516.6l-.4 .3M196.7 516l-.8 .9M92.2 527.6l-.4 0M131.9 525.7l-1.3 .2M185.7 526.3l-.5 .1M229.1 526.1l.4 1.1M87 534.9l-0 .2M121.3 535l.1 .2M173 536.8l0 .9M238.2 534.5l.6 .5M123.1 539.7l.2 1M132.1 541l.8 .8M72.8 548.4l.7 .9M126.8 549.3l0 0M154.2 548.5l-.8 .5M192.9 549l.1 .1M210.1 550.3l-.3 0M126.5 554.8l.3 .1M157.1 554.1l-.7 .4M223.4 555.9l0 .5M37.8 559.1l-1.2 .7M47.5 559l.8 .2M203.8 560.1l0 .4M225.9 559.9l-.3 .7M153 563.3l.6 .1M195.6 563.5l-.1 .3M202.6 563.5l-.9 0M205.7 564l1 .6M106 567.3l-.2 .3M124.2 567.4l-.1 1M129.7 572.1l.1 .8M62.1 577l.3 1M69.2 578.5l-.2 .2M84.3 577.1l0 .7M117 578.1l-.2 .8M247.1 578.9l0 0M199.9 582l-0 1.2M42.2 586.4l.1 0M143.6 588.2l-1 .3M182.1 588.3l-.6 .5M224.8 586.8l0 .2M234.7 592.3l.1 0M187.1 596.1l0 .1M230.1 597.8l-.7 .2M109.9 601.1l-.1 0M120.7 602.4l-.1 .1M126 600.8l.7 .3M206.5 601.9l.2 1.3M68.2 606l-.3 .2M121.3 606.3l.3 .7M139.7 607.1l1.1 .2M86.2 610.7l.2 .1M132.3 612.2l-.2 .3M136.8 611.5l-0 .1M172.5 612.2l-0 .1M57.8 616.3l-.2 .2M80.6 615.5l-.2 0M180.2 616.6l.8 .3M197.5 616.5l-.5 .2M234.7 615.3l-.1 .4M131.8 620.2l-.8 .8M227.8 620.6l-.6 .1M96 625.4l.2 .1M154.4 625.6l.5 .2M236.9 623.5l.1 .2M61.3 630.3l.4 .3M83.1 630.5l-.1 0M97.4 630.1l-0 .9M229.6 628.4l-.2 .9M63.9 635.2l.9 .4M95.5 635l.2 .2M199.1 633.1l-.6 .2M60.6 638.9l.1 0M227.6 638.2l-.5 1M68.5 642.9l.6 .8M107.2 644l-.5 .9M164.6 644.3l.1 .1M182.4 642.6l.2 .6M200.3 642.3l-.8 .1M177.9 647.3l-.2 0M62.3 653.4l-.2 .2M84.5 652.9l.5 .3M117.1 652.1l-.3 .1M148 652l.8 .4M83.3 656.2l.4 .8M168.2 658.1l-.6 .4M243.9 658l.2 .1M74.7 662l-0 .1M171.9 662l-.9 .5M186.6 661.3l-.5 0M204.2 662.3l-0 .3M55.9 666.6l.4 .3M231.7 672.5l.2 .7M61.2 677.1l-1.1 .6M76.3 675.7l0 .3M86.7 679.8l-.7 .4M123.2 680.4l.4 0" stroke="#5e4660" stroke-width="4.6"/>
<path d="M149.4 466.8l.1 .2M160.9 466.6l.8 .2M209.5 465.2l-.7 .7M50.8 469.7l-.7 1.2M60.4 470.1l.7 .5M167.7 471l-.2 .5M191.7 469.6l-.2 1.2M45.8 474.4l-.1 .1M57.2 475.7l.4 1.1M143.2 474.7l-.5 .1M151.2 476.2l-0 .2M198.4 474.8l.1 .5M108.7 481.3l0 .1M68.9 485.9l-0 .2M123.7 485.9l.3 .2M171.3 485.1l-.2 .9M194.2 483.2l-.4 .1M209.9 483.7l.3 .3M38.5 488.9l-.1 .6M65.4 488.3l1.2 .1M200.7 489.1l-1.1 .7M216 488.8l.3 .7M113.5 494.2l-.3 0M145 493.6l-1.3 .1M187.1 493l.3 .5M180 498.2l.3 0M45.7 504.3l-.2 .5M59.3 502l.4 .5M113.5 503.8l-.1 .6M116.1 503.1l-.7 .1M170.2 502.4l-.4 .3M198.3 503.9l-.8 .2M220.6 504.5l.8 .1M241.5 502.6l-.4 .8M44.7 509.1l-1.2 .4M164.3 507l-.2 .9M173.4 507.3l-.1 .2M191.6 508.1l-.3 .2M41.4 513.6l-.4 .3M94.5 512l-0 1M134.9 514l-.2 0M171.8 513.5l-.5 .2M77.4 516.9l-.1 .2M206 517.8l-1 .3M226.8 515.9l-.7 .1M62.2 523l.1 0M66.7 526.8l-1 .2M153.5 527.6l-.8 .2M45.6 531.8l.1 1.4M51.2 531.5l-.4 .1M63.9 530.9l-.1 0M70.1 530.2l-1.2 .7M95.6 531.7l-.1 .4M117 531.7l0 .8M159.2 531.9l-.4 .2M198.2 530.4l.5 .1M235.6 530.1l-.5 1.2M191.7 535.5l-.1 .6M75.4 540.2l-.3 .7M218.3 545.6l-.1 .3M222.1 544.1l.7 .2M76.5 555.1l0 .1M119.8 556l.3 .2M227.9 553.4l-.2 .7M240.6 560.4l.1 .2M50.6 563.2l.3 1.2M162.8 563l.3 .2M186.6 563.2l-.5 0M86.4 568.8l-.6 .3M187.6 569.1l-.2 1.1M194 569.3l-.2 .1M40.4 572.3l0 0M44.9 573.7l-.1 .2M201.2 574l-.2 .1M57.3 577.1l-.1 .1M94.4 581.6l.3 .3M132.1 582.4l.3 1M174 581.5l.5 0M207.1 581.9l-.4 .5M132.8 587.1l.8 .6M220.3 588.4l.4 .7M33.1 591.3l-.3 .2M82.8 592.1l-.2 .7M115.4 592.3l.8 .1M190.6 592.2l-.2 .2M223.8 593.2l-.3 .4M74.6 596.6l.7 .9M161.1 596.5l-.1 1M223.9 597.1l-.1 .1M32.6 601.7l-1 .3M99 602.4l-.8 .5M80.8 604.5l.5 .8M96.9 606l-.2 .6M113.9 605.1l-.8 .1M192.1 607.3l.4 0M246.2 605.3l-.1 0M37 610l.7 .1M167.3 609.3l-.5 .4M199.9 611.6l0 0M54.1 614.2l-.6 1.1M99.6 614.4l0 .4M154.2 616.1l-.5 .2M86.8 620.4l.2 1M110.1 619l-.1 .3M115.5 621l.8 .9M135.1 619.2l-.6 .1M169.5 619.6l.1 0M62.9 624l.3 .8M170.8 624l.4 1M129.9 628.1l.1 1M147.5 631l-.7 0M183.9 630.2l.3 .9M196.6 629.4l.2 0M239.3 630l-.6 .2M102 633.1l.3 .7M155.9 634.6l-.3 .6M181.7 633.4l.4 .3M207.5 634l.7 .7M220.8 635l0 0M239.4 638.4l-0 .4M149.8 642.7l-1 .8M213.6 644.6l-1.3 .5M87.5 648l-.1 .5M159.4 647.4l-.2 0M159.1 652.5l.2 .2M75.4 657.7l-0 .7M103.3 656.8l.8 1M227.9 658.5l.8 .4M79.3 663.4l-.1 0M106.9 662.4l.1 1.1M220.1 662.5l-.3 .1M78.2 672.4l-.4 .2M165 670.4l-.1 .1M240.4 672.2l-.3 .8M67.2 676.5l-.4 .1M114.2 675.6l.7 .2M152.7 677.5l0 .1M198.1 681.7l.1 0M204.1 681.3l-.3 .8" stroke="#76604a" stroke-width="4.6"/>
<path d="M41.1 466.3l.6 .2M69.4 466l-1.1 .9M74.6 467l.5 .4M127.3 466.3l.9 .9M194.4 466.4l-.4 .5M214.1 466.9l1.1 .3M72 471.3l.5 .1M97.7 469.1l.3 .3M119.9 470.8l-.8 .3M29.6 475.8l.9 .9M154.7 476.3l1.2 .1M80.8 480.6l.1 0M148.6 484.5l.1 1.1M164.1 482.9l.9 .8M48.4 488.7l-.5 .4M100.1 489.9l-.2 .7M116.4 487.9l-1 .1M120.9 488.9l.4 .5M137.6 489.7l-0 .2M190.8 487.7l.8 .4M221.3 488.6l.1 1M246 489.2l-.6 .5M72.2 498.9l-.1 0M173.7 497.4l0 .2M194.5 499.7l-.5 .2M52.9 501.7l-1.1 .6M95.7 501.4l.2 1.2M107.1 504.5l-.3 .3M151.3 503.3l-.1 .1M159.1 502.5l-.1 .4M225.8 502.8l-.4 1M66.3 508l0 .2M159.2 506.7l.2 .2M79.8 511.9l-.9 1M165.7 513.5l-.6 .9M32.7 515.9l-.3 1.1M50.9 516l-0 .1M54.2 516l-.5 .4M116.3 518.1l-1.1 .6M126.7 520.9l-.2 .3M199.6 522.5l-.3 .9M32.7 526l.1 .1M71.5 525.5l.1 0M148.4 525.4l-.6 .1M189.9 527.6l.3 1M32 530.6l-0 .4M42 531.2l-.3 1.3M75 531.5l-.4 1.2M134.7 529.6l.7 .8M242.9 530.2l-.6 .3M61.1 537.1l-.4 .5M136.7 535.7l-.7 1.2M140 534.5l1 .6M53.6 540.2l-1 .2M89.9 540.1l-0 0M94.7 540.6l.1 .2M203.8 540l-.1 .1M124.8 545.1l-.6 .1M147.2 545.4l-1 .4M191.2 544.8l.1 .1M236.8 546.3l1 .7M51.5 548.8l-.3 .8M101.4 551.1l.5 .2M107.4 551.3l-.8 0M202.4 548.5l.7 .6M226.7 550l-.1 .1M153.1 553.7l.2 .2M188.9 553.8l.1 .5M63.1 559.6l-.3 .5M166.8 559.3l.6 .4M182.9 560.2l.1 .8M229.5 558l-.6 .9M103.4 563.1l-.4 .6M135 564.7l-.8 .7M190 563.6l-.1 .2M233.8 563.2l-.4 1M245.6 563l-1 .9M202 568.5l.3 .6M71.5 572.7l-.2 .1M175 573l.6 .3M54 581.4l.5 .5M66.8 582.4l.4 .6M194.9 583.3l.8 1.1M222.7 581.2l-.3 .5M63.6 585.8l.9 .8M69.3 586.5l-.4 .4M74.7 587.3l.2 .1M202.4 587.7l.3 .5M245.4 592.7l.7 0M235.6 597.4l.1 .2M66.3 611l.7 .5M179.8 609.7l-.4 1.1M186.3 611.1l-.2 .9M227.4 610.3l0 .6M42.2 615.9l-.9 .9M62.7 615.7l-0 0M148.5 614.8l.1 .2M213.1 616.6l-.4 .1M88.7 624.9l.1 .4M149.6 623.6l-1.3 .4M88.6 628.2l-1 .4M178.2 628.2l-0 0M249.8 630.1l.6 1.2M69.8 634.9l-.5 .4M105.9 634.9l-0 .1M38.8 639.8l1 .3M56.2 640.3l1.1 .2M164 638.1l-.1 0M243.3 638.2l-.8 .5M225.5 644.5l.7 .3M44.8 646.8l-.1 .2M173.3 648.7l.4 .4M243.1 649.3l1.2 .7M57.4 651.9l.8 .1M106.2 652.6l.7 .1M167.4 652.6l-0 .6M177.5 652.7l-.1 .2M240.1 651.6l-.4 .6M60.5 657.9l-.2 .1M99.1 656.7l-.2 .2M141.3 657.5l.2 1.2M184.1 657.2l.6 .8M189.8 657.2l0 1.2M224 657.3l.1 .1M70.5 662.5l-1.1 .8M127.8 661.2l-.5 1.1M182.5 662l.2 1M208 663l-.1 .6M102.5 668l-0 0M120.7 667.7l-.8 .6M162.4 668.1l.9 .5M243.7 666.3l-.6 .7M143.6 670.6l.1 .6M172.6 671l-.3 1M168 675.6l1.1 .7M238.3 676.5l.1 .5M145.2 682.1l.1 .4M188 680.2l.9 .2M192 682.4l-1 0M207.7 680.3l-.3 .5" stroke="#64504a" stroke-width="4.6"/>
<path d="M47.9 466.1h0M57.4 465.6h0M69.1 466.7h0M74.9 466.7h0M80.4 465.8h0M127.3 466.3h0M134.1 465.4h0M144.1 465.8h0M161.1 467.3h0M177.8 464.4h0M194.5 466.5h0M215.2 467.1h0M219.7 467.3h0M240.4 466.6h0M34.3 471.4h0M44.7 469.2h0M55.4 470.4h0M61 470.5h0M65.8 471h0M72.3 471.8h0M87.3 470.1h0M104.5 472.3h0M131 471.4h0M151.6 470.3h0M158.9 470.3h0M168.1 470.8h0M196.1 472.4h0M218.4 470.3h0M226 471.4h0M53.2 475.8h0M62.3 474.3h0M79.4 474h0M89 474.4h0M123.7 473.9h0M143.3 475h0M155.1 476.2h0M161.1 475.9h0M167.3 474.3h0M185.8 475.8h0M198.5 475.4h0M208 475.8h0M214.4 473.7h0M231.3 474.2h0M33.3 478.4h0M45.1 480.3h0M61.8 481h0M88.3 481.9h0M103.7 478.4h0M133 479.7h0M139.9 480.8h0M153 480.3h0M157.7 480.9h0M183.8 478.3h0M206.1 479.8h0M216.8 481.3h0M226.3 480.5h0M231.9 478.6h0M248.8 480.8h0M29.1 485.2h0M57.3 486.1h0M65.2 484.5h0M68.8 485.5h0M84 483.6h0M90.2 483h0M95.6 486.1h0M116.3 483.9h0M131.9 484h0M143.8 483.2h0M148.6 485.1h0M154.2 483.4h0M171.5 485.8h0M177.8 485h0M187.7 485.2h0M215.2 484h0M237.3 484.8h0M242.3 484.8h0M32.7 490.1h0M53.9 490.1h0M66.1 488.6h0M72 488.9h0M75.8 489.4h0M83.4 489.6h0M94.3 489.3h0M99.7 490.4h0M103.6 488.9h0M115.8 488.2h0M124.9 490.6h0M137.5 489.8h0M147 489.3h0M156.7 489.2h0M161.8 487.8h0M170.5 489.6h0M173.9 488.6h0M207.3 490.2h0M216.5 489h0M233.7 487.8h0M51.2 495.5h0M67 493.2h0M74.7 493.5h0M79.2 494.8h0M96 495.1h0M102.1 494.5h0M155.6 494.7h0M165.3 495.3h0M180.5 492.3h0M187.5 493.1h0M193.8 492.4h0M219.3 494.8h0M227 493.1h0M230.5 493.5h0M32.6 499.3h0M44.2 499.2h0M72.3 499.2h0M99.4 498.6h0M108.2 497.9h0M140.3 498.2h0M146.5 498.1h0M156.8 497.8h0M164.1 499.8h0M173.4 498h0M185.6 500.6h0M194.1 499.6h0M219.2 498.4h0M244.6 498.6h0M251.2 499.4h0M30 503.1h0M45.4 504.6h0M67.6 502.4h0M73.5 502.1h0M81.6 502.1h0M96 501.5h0M100 501.4h0M122.9 504.6h0M158.5 503.2h0M166.8 501.6h0M204.6 504.1h0M208.6 503.1h0M50.6 508.9h0M55 508.9h0M61.6 509h0M75.8 509.7h0M94.1 507.9h0M97.9 507.5h0M119.2 507.6h0M135.8 507.8h0M142.1 509.2h0M151 507.8h0M164.2 508h0M197 509.2h0M206.1 508.8h0M217.1 507.1h0M222.5 509.2h0M226.9 507.9h0M231.9 507.8h0M239.2 509.4h0M246.1 508.8h0M31 514h0M41.6 514.2h0M70.1 513.9h0M89.8 514.6h0M100.3 512.6h0M116.1 511.6h0M122.8 511.4h0M129 512.2h0M135.1 513.8h0M147.9 513.2h0M153.7 512.4h0M165.4 513.8h0M186.4 513h0M191.7 512.6h0M208.1 513.5h0M214.8 511.1h0M225.7 512h0M230.6 513.1h0M235.2 513.7h0M241.5 511.4h0M245.4 512.5h0M53.8 516.2h0M60.8 517.7h0M64 519.2h0M87.4 519h0M119.5 518.2h0M123.7 517.7h0M132.7 516.2h0M135.1 515.8h0M145.1 517h0M162 517.1h0M174.2 517.2h0M181.1 517.7h0M205.6 517.4h0M211.3 518.3h0M216.3 517.4h0M31.6 522.6h0M45.9 520.3h0M85.8 522.7h0M110.1 521.5h0M127.1 521.2h0M139.9 522h0M146 522h0M149.2 522.3h0M161.6 523.3h0M209.8 523.1h0M213.7 520.6h0M227.3 522.4h0M236.9 522.6h0M247.5 521.1h0M44.2 526.4h0M57.2 525.5h0M60.6 526.3h0M99.4 527.7h0M130.7 525.2h0M141.6 526.5h0M147.8 525.3h0M159.4 525.6h0M175.6 526.9h0M211.4 528.4h0M223.1 525.9h0M229.4 526.1h0M233.9 527.6h0M31.9 531.3h0M59.5 531.9h0M64.4 531.4h0M69.6 530.5h0M79 530.9h0M95.1 532.2h0M106.7 531.9h0M111.3 532.7h0M135.4 530.4h0M143.8 529.7h0M154.3 531.5h0M158.9 532.3h0M165 532.8h0M170.2 531.3h0M177.2 532.8h0M187.2 532.6h0M225.7 532.4h0M235.1 530.6h0M242.3 529.9h0M33.3 535.8h0M37.1 535.9h0M48.9 536.6h0M57 536h0M61.2 537h0M70.8 536.7h0M86.5 535.6h0M93 536.9h0M102 535.8h0M116 536.5h0M125.5 536.6h0M156.5 537.4h0M180.3 536.8h0M186.3 535.5h0M191.3 535.9h0M199.9 536.1h0M216.2 536.2h0M229 537.5h0M238.1 534.7h0M68.7 540.8h0M90.3 539.7h0M95.2 541h0M105.6 540.3h0M112.2 540.2h0M129.7 539.6h0M132.5 541.1h0M138.7 541.4h0M142.8 541.1h0M149 540.3h0M155.9 541.7h0M166.2 539.7h0M170.9 540.7h0M178.3 539.6h0M185.6 541.4h0M208.1 540.5h0M224 539.8h0M234.6 540.1h0M242.5 541.6h0M33 545.2h0M67.5 545.7h0M70.7 545h0M81.1 546h0M87 544.5h0M103.7 546.7h0M110.5 544.3h0M137 546.3h0M142.3 546.5h0M147 545.2h0M151.8 545h0M158.1 546h0M167.7 545.1h0M172.7 544.5h0M180.1 547.4h0M237.5 547.2h0M40.9 549.9h0M51.3 549.7h0M62.5 549.9h0M67.6 549.5h0M83.3 548.9h0M90.3 551.4h0M123.4 549.3h0M132.4 550.4h0M151.2 549.7h0M171.3 551.3h0M182.5 550.9h0M193.3 548.6h0M203 548.5h0M209.9 550.8h0M213.1 550h0M219.7 550.7h0M232.2 549.7h0M242.6 549.2h0M246.9 551.3h0M45.3 555.7h0M50.8 553.4h0M61.7 555.1h0M76.5 555.4h0M89.1 553.9h0M126.2 554.6h0M139.6 553.7h0M147.1 555.9h0M168.2 554.8h0M184.8 554h0M189.5 554.1h0M194.8 554.2h0M206.4 554.9h0M212.8 556h0M227.3 553.6h0M244.2 555.9h0M51.9 559.1h0M78.3 557.8h0M90.5 560.3h0M102.6 558.3h0M116.9 557.5h0M124 560.2h0M126.4 558.8h0M166.7 559h0M169.3 558.5h0M176.9 558.4h0M183.3 560h0M193 558.3h0M203.3 560.9h0M213.8 561h0M225.8 560h0M229.2 558.4h0M240.5 560.5h0M246.4 560.1h0M44 564.4h0M50.8 564.4h0M61.2 564.3h0M76.5 563.3h0M81.9 563.3h0M103.6 563.9h0M108.9 563.6h0M119.7 562.9h0M130.4 564.9h0M172.3 565.5h0M180 564.7h0M195.3 564h0M202.6 563.4h0M213.7 563.7h0M217.6 564.8h0M222 564.9h0M229.2 564.3h0M233.4 563.5h0M250 563.7h0M34.8 569.3h0M54.4 570.5h0M73 567.4h0M79.5 570.1h0M86.2 569.4h0M95.6 569h0M101.2 569.4h0M106.1 567h0M124.5 567.9h0M127.6 567h0M167.2 569.8h0M208.4 568.5h0M219.1 569.1h0M224.7 567.3h0M237.3 567.3h0M33.3 575.2h0M50.7 573.5h0M71.2 573.1h0M98.3 574.3h0M129.4 572h0M140.8 572.3h0M174.8 573.1h0M177.4 575h0M185.1 574.4h0M191.5 573h0M211 572.1h0M228.2 572.9h0M238.8 572h0M248.8 574.3h0M31.3 578h0M41.3 579.1h0M57.1 576.7h0M83.9 577.8h0M89 578.9h0M95.8 578.7h0M102.4 577.6h0M105.8 577.9h0M111.3 578h0M123.2 578.6h0M132.2 579.5h0M138.8 577.1h0M143.9 577.7h0M158.7 576.4h0M180.7 577.2h0M193.6 579.7h0M198.6 577.7h0M208.3 578.7h0M219.9 578.9h0M231.8 577.8h0M241.6 578.3h0M247.6 578.6h0M43.9 582.6h0M54.3 581.8h0M60.6 583.9h0M66.7 582.2h0M83.6 583h0M89.3 582.9h0M94.6 581.8h0M102.7 584.7h0M119 582.1h0M132.1 582.6h0M135.2 581.9h0M146.6 582.7h0M158.2 583.4h0M163.5 583.6h0M178.7 581.5h0M189.4 582h0M195.1 584.1h0M215.7 583.4h0M222.3 581.7h0M227.4 583.2h0M31.3 587.2h0M53.3 587.2h0M57.4 588.9h0M64.6 586.3h0M69.2 586.6h0M75.3 587.1h0M91.1 587.5h0M96.5 588.2h0M121.6 588.1h0M129.1 587.8h0M137.8 586.7h0M143.5 588.2h0M148.6 589.2h0M160.3 587.7h0M167 586h0M181.6 588.3h0M194.4 586.9h0M203 588.4h0M212.6 587.8h0M221.1 588.2h0M224.6 586.7h0M228.7 586.1h0M241.3 588h0M33.6 591.8h0M50 592.7h0M83.1 592.2h0M92.3 593h0M104.4 592.8h0M108.9 592.4h0M121 592.1h0M172.7 590.8h0M185.1 593.4h0M196.7 592.9h0M213.1 593.1h0M216 593.7h0M228.8 593.1h0M42.5 598.6h0M53 595.9h0M80.5 596.1h0M83.6 597.3h0M91.7 596.1h0M121.9 596.3h0M146.5 598.2h0M147.8 598.3h0M161.6 596.5h0M170.9 596.6h0M178.5 597.3h0M187.4 595.6h0M203.1 596.4h0M236.1 597.7h0M241.6 597.6h0M61.9 601.1h0M78.3 602.6h0M82 601.7h0M93.1 601.2h0M98.9 602.5h0M120.5 602.1h0M129.7 600.4h0M142.4 602.8h0M147.7 602.9h0M150.6 601.7h0M165 601.1h0M173.5 603.2h0M191.9 602.4h0M202 601.8h0M211.7 600.8h0M222.3 601.9h0M32.9 605.5h0M41.8 606.1h0M52.1 607h0M68.2 605.9h0M80.7 605.2h0M84.7 607h0M104.9 605.9h0M116.5 607.2h0M127.5 606.2h0M145.2 605.3h0M166.9 606.6h0M177.4 605.4h0M180.6 605.2h0M191.8 607.6h0M216.4 605.5h0M226.3 606.7h0M245.7 605.8h0M42.8 610.8h0M48.8 611.5h0M60.8 610.3h0M67 610.8h0M70.7 610.8h0M83.4 611.6h0M93.8 610.8h0M104.3 609.8h0M110.4 610.7h0M132.2 612.4h0M164.6 611.7h0M166.7 609.5h0M173 612.7h0M195.9 610.8h0M212.1 609.7h0M217.3 612.1h0M222.6 612.7h0M237.9 610.4h0M250.2 611.1h0M41.5 615.9h0M47.1 614.8h0M57.3 615.9h0M63.2 615.2h0M68.7 617.3h0M73.7 616.6h0M80.2 615.6h0M85.3 615.5h0M91.8 613.9h0M94.9 617.3h0M111.5 617.1h0M117.4 615h0M123.3 616.1h0M144 615.7h0M153.4 616.1h0M171.3 616.2h0M177.7 614.8h0M181.1 617h0M193.2 616.2h0M197.3 616.9h0M204.9 615.8h0M208.8 615.5h0M34.3 619.6h0M54.1 620.4h0M59.2 621.7h0M77.2 620.3h0M87.1 620.6h0M116.5 620.9h0M119 620.4h0M123.7 621h0M135.4 618.7h0M140.3 620.5h0M169.6 619.7h0M180.9 620.2h0M185.9 620.8h0M194.6 620.4h0M202.3 619h0M211.8 619.3h0M233.9 619.2h0M30.9 623.6h0M37.9 623.9h0M46.7 625.3h0M57.1 625.2h0M70.1 624.2h0M73.4 624.6h0M88.9 625.4h0M106.6 624.7h0M112.2 623.7h0M118 623.6h0M143.9 625.7h0M148.9 624.4h0M175.7 625.5h0M187.8 625.3h0M203.1 624.2h0M221.5 624.2h0M231.9 625h0M237 623.2h0M240.4 625.5h0M39.7 628.9h0M61.6 630.3h0M93.8 630.1h0M96.9 630.1h0M108.9 630.4h0M119.8 628.5h0M138.3 628.9h0M146.9 630.4h0M157.3 629.4h0M175 631.3h0M183.9 630.8h0M200.9 629.8h0M206.8 629.6h0M212.2 631h0M230 629.2h0M244.4 628.4h0M30.3 633.2h0M37.6 635.8h0M40.9 635.5h0M57.4 633.6h0M64.6 634.9h0M76 633.6h0M90.8 634.5h0M95.4 635.4h0M101.8 633.4h0M112.3 632.6h0M145.9 633.9h0M150.3 633.5h0M160.3 633.2h0M182.3 633.6h0M220.7 634.7h0M56.6 640.3h0M67 639.9h0M71.1 638.5h0M82 639.2h0M89 640.3h0M123.4 638.4h0M151.5 637.6h0M167.1 637.9h0M174.6 638.7h0M183 639.9h0M194.8 638.7h0M207.5 639.2h0M215.3 639.9h0M234.2 640.6h0M242.3 638.6h0M57.6 644.8h0M68.6 643.3h0M89.3 642.6h0M96.3 644.8h0M100.8 643.5h0M107.2 645h0M123.4 644.4h0M129.1 644.7h0M132.9 644.9h0M138.8 643h0M143.8 643.1h0M159.1 643.2h0M164.9 644.4h0M172 644.8h0M182.8 643.1h0M187.6 643.2h0M199.6 642.1h0M225.3 645.1h0M242.7 643.1h0M44.8 646.8h0M56.7 647.5h0M64.8 648.4h0M71.9 647.1h0M77.7 648.7h0M82 647.8h0M87.1 648h0M98.4 647.1h0M108.1 649.6h0M120 647.5h0M131.4 648.6h0M137.4 647.5h0M178.2 646.9h0M207.3 648.4h0M223.6 649.9h0M243.6 649.4h0M29.9 653.2h0M35 652.4h0M43.6 652.2h0M52.2 652.6h0M62.3 653.3h0M100.2 651.7h0M116.6 651.8h0M122.2 652.4h0M155.3 652h0M170.5 652h0M186.1 653.5h0M208 651.5h0M219.1 653.6h0M231 652.1h0M237.3 652.4h0M246 654.2h0M34.9 657.2h0M38.5 657.8h0M60.5 657.8h0M64.8 658.1h0M74.8 658.6h0M91.8 656.5h0M109.4 657.8h0M119.6 658.9h0M137.4 658.2h0M141 658.3h0M152.9 657.5h0M200 658.3h0M232.2 658.9h0M240.1 657h0M244.6 658.2h0M32.3 662.2h0M48 661.6h0M56.9 662.1h0M70.4 663.4h0M79.1 663.5h0M83.1 661.5h0M139.6 663.4h0M150.4 662.1h0M160.9 663.3h0M166.7 663.7h0M177.2 661.4h0M182.8 662.3h0M186.6 661.4h0M199.2 662.4h0M224.7 662.8h0M229.1 662.9h0M247.3 660.7h0M38.7 666.7h0M56.5 666.8h0M58.7 666.5h0M67 666.2h0M71.4 665.8h0M78.3 665.9h0M92.8 667.7h0M102.2 668.4h0M114.2 665.7h0M126.6 667.7h0M140.9 665.8h0M146 667h0M153.7 666.8h0M157.1 668.4h0M162.5 668.3h0M173.3 668.1h0M184.2 666.2h0M196.3 668.3h0M206.7 666.1h0M218.4 666.2h0M229.6 665.8h0M34.5 670.1h0M59.4 671.4h0M64.6 671.5h0M68.4 671.4h0M73 671h0M77.5 672.4h0M94.6 670.6h0M100.3 672.3h0M107.5 671.8h0M110.9 672.2h0M118.1 672.9h0M124.1 671h0M138.5 671.5h0M143.4 670.7h0M153.4 671.6h0M177.8 670h0M209.2 671.8h0M246.6 672.3h0M50.5 677.7h0M55.6 677.5h0M72.2 676.7h0M81.9 677.1h0M87.8 676.9h0M108.4 674.7h0M120.1 676.1h0M135.2 677.3h0M152.9 677.2h0M159.8 675.2h0M162.5 678.1h0M172.4 676.4h0M196.1 677.8h0M201.1 677.4h0M206.2 676h0M210.9 677.1h0M216.6 677h0M227.2 676.4h0M234.2 676.2h0M238.6 677.1h0M249.2 676h0M36.3 680.4h0M64.3 680.4h0M66.9 682.6h0M73.2 682.4h0M86.5 680.3h0M96.2 679.9h0M99.3 682.2h0M112.6 680.9h0M115.2 681.7h0M138.7 681.5h0M159.9 680.1h0M170.5 681.4h0M188.8 680.4h0M191.6 682.3h0M203.8 681.7h0M207.7 681.2h0M220.5 681.2h0M229.8 681.9h0" stroke="#8a7a48" stroke-width="1.3" opacity="0.7"/>
<path d="M83.7 464.5l.2 .3M95.8 460.4l.1 .7M165.8 461.3l.1 .2M33.2 477.8l-1.2 1.1M179.1 472.1l1.1 1.1M84.3 484.7l-.1 0M172.1 486.5l-.3 0M201.1 488l-.1 1.6M239.9 483.6l-.7 1M54.7 498.5l-.1 0M68.2 495.6l-0 .1M96.8 498.4l.5 0M112.7 491.8l-.5 1.9M126.2 508.9l0 0M219 506.2l-.8 1.1M114.6 515.3l1.2 .2M228.4 520.2l.6 .4M73 544l-.6 .6M89.2 545.1l-.2 .6M147.4 541.6l-.9 1.1M256.3 541.5l.9 1.3M90.5 554.6l.5 .1M129.1 549.9l.3 .5M44.2 560.9l.2 .5M133.6 579.5l-1 .1M124.5 583.5l-1.2 .6M101.4 595.6l-.5 .2M141.6 608.5l-1.3 1M154.7 605.7l-.3 .5M239.5 623.6l.6 .9M201.8 628.1l-.9 1.3M196.9 639.8l0 0M232.4 642.7l-.6 .1M203.2 654.2l.2 .1M114.6 661.1l-.1 1.1M153.1 661.8l-1.3 .9M32.4 680l.6 .4M70.6 678.6l-.3 1.6M121.1 679.5l0 1.2M166 671.8l-.6 1M203.3 672.8l0 .6" stroke="#4a34a8" stroke-width="1.8"/>
<path d="M187.2 472.2l.8 1.1M197.2 475.1l.6 .5M36.2 481.7l1.6 1.1M147.4 483.3l.1 0M244.4 484.2l1.1 .5M162.3 500.5l1 .7M77.7 508.1l-.1 .4M142 522.6l.5 .4M55.2 534.5l-1.6 .8M96.6 529.9l1.1 .8M112 540.3l1.9 0M172.7 539.5l.3 1.1M72.2 563.5l1.7 1M136.8 566.2l.2 .8M167.9 565.1l-.5 1.6M229 565.7l-.4 .1M185.1 577l1 1.1M178.4 583.5l.4 .2M204.8 608.3l-.9 1.3M239.7 606.7l.1 .2M246.9 618.8l-.3 .2M34.3 628.4l-.5 0M167.1 631l0 0M186.4 635.4l-1 1.6M49.3 653.3l-1.1 0M115.7 655.6l-.6 1.6M122.6 652.2l-.6 .7M179.7 663.4l.1 .3M259.8 673.9l-.9 1.3" stroke="#6450c0" stroke-width="1.8"/>
<path d="M26.1 462.4l-1.3 .7M145.2 459.1l-.1 .2M214.6 464.7l-1.9 .2M219.9 461.7l-.4 .5M245.9 464.3l1.2 1.5M162.5 476.3l-1.1 1.1M225.6 482.9l.3 .1M127.4 497.9l1.1 .3M186.2 498.6l1.7 .6M194.1 507.2l.9 .2M243.5 511.8l-.2 .1M36 515.8l-1.4 .4M155.2 523.4l.4 .2M163.6 520.9l-.1 .7M221.5 529l.3 1M232.7 541.1l.1 .1M28.5 553.6l-.7 .6M208.8 553.8l-.4 .4M29.6 561.5l-.2 1.4M174.2 565.9l-.6 0M190.5 565.8l1.7 .6M217.9 575.7l-.3 .3M74.8 584.2l-0 1.2M213.2 587.7l.2 .6M219 596l1.7 .2M165 605.7l-.3 1M28.1 617.5l-.1 .5M209.9 617.3l-0 1.2M226.8 620.8l-.4 .2M120.2 635.8l-.9 .4M82.4 640.9l.5 .8M127.3 643.5l0 .6M64 656l.8 .5M98.3 655.5l.1 1.6M193.6 664.8l.3 .1M48.7 673.3l.9 .7M112.5 677.2l.1 .1" stroke="#4a34a8" stroke-width="2.5"/>
<path d="M128.2 461l-.7 1.2M155.2 461.7l-.5 .1M75.2 470.6l1 1.2M83.8 471.7l-.6 1.2M118.8 471l1.3 .4M211.5 476.8l.2 0M21.7 511.1l1.2 1.4M186.8 511.6l-.8 1.5M126.8 522.8l1.7 .3M36.9 528.6l.8 .2M156.9 533.3l-.6 .6M236.6 529.9l.8 .3M49.1 545.2l-1.6 1M65.4 540.5l-1.7 .5M158.6 540.4l0 .1M50.5 553.6l-.4 .5M122.5 548.5l1 .1M246.6 548.2l-.4 .6M242 564.9l1 1M24.9 576l-.1 2M52.6 574.7l.8 1.5M96 576.3l.2 .8M197.7 578.3l.2 .6M247.1 574.7l.7 .9M88.8 586.8l1.2 .2M113 611.1l-.5 .7M152 624l-.1 .3M192.2 623.6l-.1 .3M81.8 631.4l.4 .3M154.6 628.6l-1.3 1.1M178.3 629.9l.1 1.6M71.1 638.8l0 .9M180.2 647.1l.7 .8M76.9 651.9l1.1 .9M145.3 662l.5 .3M164.8 667l.3 .4M175.9 680.5l.4 1.1" stroke="#6450c0" stroke-width="2.5"/>
<path d="M25.8 462.4h0M127.8 461.8h0M213.8 464.6h0M33 478.1h0M75.3 471.2h0M83.5 471.7h0M118.9 470.7h0M161.5 477.4h0M180.1 472.9h0M187.6 472.2h0M197.2 476h0M83.6 484.3h0M172.4 486.5h0M226 482.5h0M55.2 498.8h0M97 498.2h0M112.2 493h0M127.4 497.6h0M162.7 501.3h0M187.4 498.9h0M186.7 512h0M194.1 507.9h0M218.8 506.7h0M243.4 512.1h0M114.9 515.5h0M155 523h0M37.4 529h0M54.5 535.2h0M97.3 530.8h0M221.3 529.4h0M237.3 529.9h0M64.9 540.6h0M113.4 540h0M173.4 539.5h0M28.6 554h0M129.2 549.8h0M208.6 553.9h0M73.4 563.9h0M191.4 566.2h0M228.2 566.2h0M242.1 565.5h0M24.6 576.7h0M52.8 575.1h0M247.2 574.9h0M74.6 584.5h0M100.9 596.1h0M140.9 609.2h0M154.8 605.7h0M240.2 606.3h0M27.7 617.5h0M151.6 624.4h0M191.7 623.8h0M246.2 618.8h0M33.7 629h0M82.6 631h0M166.7 631.4h0M185.4 636.3h0M127.3 644h0M197.4 639.8h0M48.3 653.4h0M64.1 656.5h0M114.7 661.9h0M145.4 662.6h0M165.4 666.8h0M180.1 664.1h0M32.7 680.2h0M48.7 673.8h0M112.4 677.7h0M176.2 681.1h0M203.4 672.7h0M258.9 674.2h0" stroke="#8a7a48" stroke-width="1.3" opacity="0.7"/>
</g></g>
<path d="M217,528c2-3,5-2,6,1c1,3,1,5-2,5c-2,0-5-2-4-6z" fill="#fff" filter="url(#sharp)"/>
<clipPath id="cpD2"><rect x="264.8" y="468.1" width="211.7" height="211"/></clipPath>
<g clip-path="url(#cpD2)">
<rect x="264.8" y="468.1" width="211.7" height="211" fill="#cdc078"/>
<g filter="url(#soft)">
<path d="M361.0,608.3A4.0,2.3,2,1,0,369.0,608.5A4.0,2.3,2,1,0,361.0,608.3ZM344.3,519.5A4.4,3.7,108,1,0,341.5,527.9A4.4,3.7,108,1,0,344.3,519.5ZM381.4,608.1A2.4,1.8,29,1,0,385.7,610.4A2.4,1.8,29,1,0,381.4,608.1ZM463.1,472.4A4.5,2.4,124,1,0,458.2,479.8A4.5,2.4,124,1,0,463.1,472.4ZM330.1,551.7A4.5,2.3,11,1,0,339.0,553.4A4.5,2.3,11,1,0,330.1,551.7ZM464.9,575.2A2.3,2.3,170,1,0,460.4,576.0A2.3,2.3,170,1,0,464.9,575.2ZM285.6,554.4A2.4,1.6,112,1,0,283.9,558.9A2.4,1.6,112,1,0,285.6,554.4ZM297.9,615.9A2.2,1.3,147,1,0,294.3,618.3A2.2,1.3,147,1,0,297.9,615.9ZM347.3,552.1A3.8,2.8,69,1,0,349.9,559.2A3.8,2.8,69,1,0,347.3,552.1ZM269.0,619.3A4.9,4.8,119,1,0,264.2,627.9A4.9,4.8,119,1,0,269.0,619.3ZM335.0,541.9A4.1,3.4,20,1,0,342.6,544.8A4.1,3.4,20,1,0,335.0,541.9ZM311.9,539.9A3.5,3.2,90,1,0,311.9,546.9A3.5,3.2,90,1,0,311.9,539.9ZM263.5,642.8A3.3,2.5,40,1,0,268.6,647.0A3.3,2.5,40,1,0,263.5,642.8ZM355.2,544.6A4.3,2.4,99,1,0,353.8,553.2A4.3,2.4,99,1,0,355.2,544.6ZM298.3,615.0A2.1,1.3,62,1,0,300.3,618.8A2.1,1.3,62,1,0,298.3,615.0ZM398.9,472.0A3.4,2.0,51,1,0,403.1,477.2A3.4,2.0,51,1,0,398.9,472.0ZM362.4,673.3A3.4,3.4,30,1,0,368.4,676.7A3.4,3.4,30,1,0,362.4,673.3ZM467.2,542.9A2.6,2.2,164,1,0,462.2,544.3A2.6,2.2,164,1,0,467.2,542.9ZM258.2,519.4A4.3,2.9,43,1,0,264.4,525.4A4.3,2.9,43,1,0,258.2,519.4ZM265.6,471.9A3.9,3.8,180,1,0,257.9,472.0A3.9,3.8,180,1,0,265.6,471.9ZM374.0,466.9A3.0,2.7,150,1,0,368.9,469.9A3.0,2.7,150,1,0,374.0,466.9ZM402.9,510.5A3.6,2.6,113,1,0,400.2,517.1A3.6,2.6,113,1,0,402.9,510.5ZM315.2,668.6A4.7,2.7,52,1,0,320.9,676.0A4.7,2.7,52,1,0,315.2,668.6ZM456.2,520.7A4.8,3.7,125,1,0,450.6,528.5A4.8,3.7,125,1,0,456.2,520.7ZM417.6,508.0A2.9,1.8,123,1,0,414.5,512.8A2.9,1.8,123,1,0,417.6,508.0ZM410.3,489.0A4.7,3.3,43,1,0,417.1,495.4A4.7,3.3,43,1,0,410.3,489.0ZM359.9,678.6A3.7,3.0,166,1,0,352.7,680.5A3.7,3.0,166,1,0,359.9,678.6ZM476.2,630.2A3.3,2.6,162,1,0,470.0,632.2A3.3,2.6,162,1,0,476.2,630.2ZM436.8,589.1A3.0,2.1,132,1,0,432.7,593.6A3.0,2.1,132,1,0,436.8,589.1ZM388.0,464.4A4.1,3.9,144,1,0,381.4,469.3A4.1,3.9,144,1,0,388.0,464.4ZM457.4,661.0A3.6,3.2,68,1,0,460.1,667.7A3.6,3.2,68,1,0,457.4,661.0ZM283.2,538.7A2.9,2.8,124,1,0,279.9,543.6A2.9,2.8,124,1,0,283.2,538.7ZM381.3,598.7A2.4,1.8,126,1,0,378.5,602.5A2.4,1.8,126,1,0,381.3,598.7ZM349.0,514.7A3.2,2.1,123,1,0,345.4,520.1A3.2,2.1,123,1,0,349.0,514.7ZM293.4,481.1A2.9,2.5,137,1,0,289.1,485.1A2.9,2.5,137,1,0,293.4,481.1ZM405.9,666.6A3.1,1.6,88,1,0,406.1,672.8A3.1,1.6,88,1,0,405.9,666.6ZM355.2,500.0A4.0,2.7,43,1,0,361.1,505.5A4.0,2.7,43,1,0,355.2,500.0ZM331.1,670.1A2.0,1.4,50,1,0,333.7,673.2A2.0,1.4,50,1,0,331.1,670.1ZM304.4,556.0A2.7,2.6,90,1,0,304.4,561.3A2.7,2.6,90,1,0,304.4,556.0ZM417.6,497.4A3.4,2.7,152,1,0,411.6,500.6A3.4,2.7,152,1,0,417.6,497.4ZM311.8,561.7A4.6,4.2,41,1,0,318.6,567.7A4.6,4.2,41,1,0,311.8,561.7ZM380.6,628.6A3.2,2.7,119,1,0,377.5,634.1A3.2,2.7,119,1,0,380.6,628.6ZM478.1,582.5A4.0,2.7,132,1,0,472.7,588.5A4.0,2.7,132,1,0,478.1,582.5ZM328.4,572.3A3.1,2.0,24,1,0,334.1,574.9A3.1,2.0,24,1,0,328.4,572.3ZM312.1,581.8A2.8,1.4,145,1,0,307.6,585.0A2.8,1.4,145,1,0,312.1,581.8ZM326.6,668.5A3.8,2.6,157,1,0,319.6,671.5A3.8,2.6,157,1,0,326.6,668.5ZM460.8,532.9A2.4,2.0,152,1,0,456.6,535.2A2.4,2.0,152,1,0,460.8,532.9ZM392.5,634.1A3.2,2.6,47,1,0,396.9,638.8A3.2,2.6,47,1,0,392.5,634.1ZM352.6,545.2A3.2,2.2,145,1,0,347.4,548.8A3.2,2.2,145,1,0,352.6,545.2ZM297.6,505.7A2.8,2.7,94,1,0,297.3,511.2A2.8,2.7,94,1,0,297.6,505.7ZM269.6,643.5A4.6,4.2,65,1,0,273.5,651.9A4.6,4.2,65,1,0,269.6,643.5ZM424.8,529.4A2.4,2.2,150,1,0,420.6,531.8A2.4,2.2,150,1,0,424.8,529.4ZM304.6,657.5A2.1,1.4,2,1,0,308.7,657.6A2.1,1.4,2,1,0,304.6,657.5ZM294.3,496.8A4.1,2.7,34,1,0,301.2,501.5A4.1,2.7,34,1,0,294.3,496.8ZM296.3,530.6A4.6,3.7,18,1,0,305.0,533.5A4.6,3.7,18,1,0,296.3,530.6ZM413.2,578.6A3.3,2.6,117,1,0,410.1,584.6A3.3,2.6,117,1,0,413.2,578.6ZM438.9,571.2A3.9,2.9,114,1,0,435.7,578.3A3.9,2.9,114,1,0,438.9,571.2ZM343.7,552.1A3.5,3.0,50,1,0,348.2,557.5A3.5,3.0,50,1,0,343.7,552.1ZM469.4,571.1A4.6,3.9,172,1,0,460.3,572.4A4.6,3.9,172,1,0,469.4,571.1ZM413.4,555.2A3.2,2.6,136,1,0,408.8,559.7A3.2,2.6,136,1,0,413.4,555.2ZM443.7,491.1A2.2,1.2,15,1,0,447.9,492.2A2.2,1.2,15,1,0,443.7,491.1ZM273.8,462.7A2.7,1.5,123,1,0,270.8,467.3A2.7,1.5,123,1,0,273.8,462.7ZM401.1,675.7A4.9,4.3,171,1,0,391.5,677.3A4.9,4.3,171,1,0,401.1,675.7ZM262.2,510.6A4.8,3.5,37,1,0,269.8,516.4A4.8,3.5,37,1,0,262.2,510.6ZM425.0,554.2A3.6,2.4,44,1,0,430.2,559.2A3.6,2.4,44,1,0,425.0,554.2ZM282.7,593.9A4.9,4.8,138,1,0,275.5,600.5A4.9,4.8,138,1,0,282.7,593.9ZM467.6,540.4A2.9,2.8,108,1,0,465.8,545.9A2.9,2.8,108,1,0,467.6,540.4ZM409.9,463.9A2.7,2.0,132,1,0,406.4,467.9A2.7,2.0,132,1,0,409.9,463.9ZM445.6,629.2A3.0,2.1,155,1,0,440.1,631.7A3.0,2.1,155,1,0,445.6,629.2ZM479.5,567.7A2.6,2.1,96,1,0,478.9,572.9A2.6,2.1,96,1,0,479.5,567.7ZM337.1,512.8A3.2,2.5,23,1,0,342.9,515.3A3.2,2.5,23,1,0,337.1,512.8ZM378.7,669.5A4.2,2.7,75,1,0,380.8,677.7A4.2,2.7,75,1,0,378.7,669.5ZM283.1,622.1A3.9,2.3,99,1,0,281.9,629.8A3.9,2.3,99,1,0,283.1,622.1ZM390.5,587.8A3.1,2.1,64,1,0,393.3,593.5A3.1,2.1,64,1,0,390.5,587.8ZM478.0,534.3A3.5,2.6,31,1,0,484.0,537.9A3.5,2.6,31,1,0,478.0,534.3ZM347.1,505.8A3.0,2.0,63,1,0,349.8,511.0A3.0,2.0,63,1,0,347.1,505.8ZM466.8,525.9A3.0,2.5,72,1,0,468.7,531.6A3.0,2.5,72,1,0,466.8,525.9ZM372.0,605.5A2.2,1.9,18,1,0,376.2,606.9A2.2,1.9,18,1,0,372.0,605.5ZM311.0,639.5A5.0,4.2,31,1,0,319.5,644.6A5.0,4.2,31,1,0,311.0,639.5ZM353.3,522.9A4.5,2.8,35,1,0,360.7,528.2A4.5,2.8,35,1,0,353.3,522.9ZM405.0,603.4A3.8,2.8,173,1,0,397.5,604.4A3.8,2.8,173,1,0,405.0,603.4ZM360.1,667.3A3.2,2.3,65,1,0,362.8,673.1A3.2,2.3,65,1,0,360.1,667.3ZM420.1,627.1A2.7,2.1,131,1,0,416.6,631.2A2.7,2.1,131,1,0,420.1,627.1ZM369.3,606.0A3.8,3.3,64,1,0,372.7,612.9A3.8,3.3,64,1,0,369.3,606.0ZM326.2,464.2A4.7,4.2,70,1,0,329.3,472.9A4.7,4.2,70,1,0,326.2,464.2ZM473.6,660.2A2.5,2.3,76,1,0,474.8,664.9A2.5,2.3,76,1,0,473.6,660.2ZM326.3,519.9A3.2,1.7,9,1,0,332.7,520.9A3.2,1.7,9,1,0,326.3,519.9ZM287.8,529.8A2.5,1.4,150,1,0,283.6,532.3A2.5,1.4,150,1,0,287.8,529.8ZM340.6,569.8A3.8,3.7,26,1,0,347.4,573.1A3.8,3.7,26,1,0,340.6,569.8ZM310.8,648.5A4.7,4.6,95,1,0,309.9,658.0A4.7,4.6,95,1,0,310.8,648.5ZM341.9,500.1A4.7,4.2,99,1,0,340.4,509.5A4.7,4.2,99,1,0,341.9,500.1ZM431.9,519.5A3.6,3.4,20,1,0,438.6,521.9A3.6,3.4,20,1,0,431.9,519.5ZM398.6,500.0A4.5,4.2,116,1,0,394.7,508.1A4.5,4.2,116,1,0,398.6,500.0ZM355.4,464.5A3.5,2.4,72,1,0,357.5,471.2A3.5,2.4,72,1,0,355.4,464.5ZM280.2,664.8A3.6,2.8,152,1,0,273.9,668.2A3.6,2.8,152,1,0,280.2,664.8ZM457.1,581.2A3.6,3.4,67,1,0,459.9,587.9A3.6,3.4,67,1,0,457.1,581.2ZM461.1,464.4A4.4,3.4,112,1,0,457.8,472.5A4.4,3.4,112,1,0,461.1,464.4ZM481.6,509.4A3.2,2.9,134,1,0,477.1,514.0A3.2,2.9,134,1,0,481.6,509.4ZM377.9,631.2A4.0,3.8,117,1,0,374.2,638.4A4.0,3.8,117,1,0,377.9,631.2ZM338.1,526.2A2.2,1.3,8,1,0,342.6,526.8A2.2,1.3,8,1,0,338.1,526.2ZM479.9,493.8A3.8,2.2,174,1,0,472.3,494.6A3.8,2.2,174,1,0,479.9,493.8ZM382.4,501.9A4.5,4.2,176,1,0,373.4,502.5A4.5,4.2,176,1,0,382.4,501.9ZM310.2,548.2A4.0,2.6,102,1,0,308.5,556.0A4.0,2.6,102,1,0,310.2,548.2ZM412.4,625.7A4.5,3.9,51,1,0,418.0,632.7A4.5,3.9,51,1,0,412.4,625.7ZM428.2,556.6A2.5,1.3,112,1,0,426.4,561.3A2.5,1.3,112,1,0,428.2,556.6ZM337.3,480.9A3.5,2.5,59,1,0,341.0,486.8A3.5,2.5,59,1,0,337.3,480.9ZM388.8,581.1A3.6,3.6,163,1,0,381.9,583.2A3.6,3.6,163,1,0,388.8,581.1ZM323.1,655.3A2.9,2.9,10,1,0,328.9,656.3A2.9,2.9,10,1,0,323.1,655.3ZM327.1,666.7A4.0,3.4,37,1,0,333.5,671.4A4.0,3.4,37,1,0,327.1,666.7ZM286.3,673.0A2.2,1.3,78,1,0,287.2,677.3A2.2,1.3,78,1,0,286.3,673.0ZM440.4,608.3A5.0,4.4,79,1,0,442.4,618.1A5.0,4.4,79,1,0,440.4,608.3ZM463.9,532.3A2.2,2.1,159,1,0,459.9,533.9A2.2,2.1,159,1,0,463.9,532.3ZM403.6,568.6A2.6,1.6,12,1,0,408.7,569.7A2.6,1.6,12,1,0,403.6,568.6ZM280.8,564.3A4.7,4.5,93,1,0,280.4,573.7A4.7,4.5,93,1,0,280.8,564.3ZM413.4,566.3A4.3,3.7,177,1,0,404.8,566.7A4.3,3.7,177,1,0,413.4,566.3ZM446.9,609.2A3.8,2.2,85,1,0,447.6,616.7A3.8,2.2,85,1,0,446.9,609.2ZM356.8,495.8A2.6,1.8,32,1,0,361.3,498.6A2.6,1.8,32,1,0,356.8,495.8ZM398.4,530.6A5.0,4.2,93,1,0,397.9,540.6A5.0,4.2,93,1,0,398.4,530.6ZM358.5,549.0A2.6,2.6,164,1,0,353.5,550.3A2.6,2.6,164,1,0,358.5,549.0ZM401.8,605.6A2.4,1.9,30,1,0,406.0,608.0A2.4,1.9,30,1,0,401.8,605.6ZM333.4,591.0A2.5,1.5,131,1,0,330.0,594.7A2.5,1.5,131,1,0,333.4,591.0ZM369.7,659.2A2.5,1.3,169,1,0,364.8,660.2A2.5,1.3,169,1,0,369.7,659.2ZM398.4,616.1A3.7,2.1,176,1,0,391.1,616.6A3.7,2.1,176,1,0,398.4,616.1ZM370.0,661.6A2.4,1.6,99,1,0,369.3,666.4A2.4,1.6,99,1,0,370.0,661.6ZM312.3,651.7A2.8,1.5,29,1,0,317.1,654.4A2.8,1.5,29,1,0,312.3,651.7ZM319.0,668.0A4.6,3.9,77,1,0,321.1,677.1A4.6,3.9,77,1,0,319.0,668.0ZM268.5,644.5A2.4,1.4,78,1,0,269.5,649.2A2.4,1.4,78,1,0,268.5,644.5ZM448.8,503.5A2.2,2.1,1,1,0,453.2,503.6A2.2,2.1,1,1,0,448.8,503.5ZM422.0,491.3A2.9,1.7,79,1,0,423.1,497.0A2.9,1.7,79,1,0,422.0,491.3ZM461.0,646.8A3.6,2.0,32,1,0,467.2,650.6A3.6,2.0,32,1,0,461.0,646.8ZM322.9,634.5A4.7,2.4,60,1,0,327.6,642.7A4.7,2.4,60,1,0,322.9,634.5ZM474.8,495.7A2.2,1.4,160,1,0,470.6,497.2A2.2,1.4,160,1,0,474.8,495.7ZM316.1,621.3A2.4,2.0,30,1,0,320.2,623.7A2.4,2.0,30,1,0,316.1,621.3ZM396.3,627.0A4.6,3.3,177,1,0,387.1,627.4A4.6,3.3,177,1,0,396.3,627.0ZM345.4,671.4A4.7,4.7,19,1,0,354.4,674.5A4.7,4.7,19,1,0,345.4,671.4ZM323.9,613.8A4.7,2.9,138,1,0,317.0,620.0A4.7,2.9,138,1,0,323.9,613.8ZM363.8,462.5A2.3,1.1,41,1,0,367.2,465.5A2.3,1.1,41,1,0,363.8,462.5ZM465.1,608.9A4.6,4.4,71,1,0,468.1,617.6A4.6,4.4,71,1,0,465.1,608.9ZM418.0,606.3A4.1,2.2,160,1,0,410.3,609.1A4.1,2.2,160,1,0,418.0,606.3ZM298.1,559.4A4.1,3.5,149,1,0,291.1,563.6A4.1,3.5,149,1,0,298.1,559.4ZM332.9,527.3A4.2,2.2,157,1,0,325.2,530.6A4.2,2.2,157,1,0,332.9,527.3ZM327.2,548.3A2.9,2.5,31,1,0,332.2,551.4A2.9,2.5,31,1,0,327.2,548.3ZM292.2,477.6A2.4,1.9,178,1,0,287.4,477.8A2.4,1.9,178,1,0,292.2,477.6ZM259.7,562.6A3.1,2.0,62,1,0,262.6,568.0A3.1,2.0,62,1,0,259.7,562.6ZM281.2,555.6A2.8,1.5,24,1,0,286.3,557.9A2.8,1.5,24,1,0,281.2,555.6ZM468.9,618.2A4.9,4.5,133,1,0,462.2,625.5A4.9,4.5,133,1,0,468.9,618.2ZM313.3,483.4A5.0,4.2,130,1,0,306.9,490.9A5.0,4.2,130,1,0,313.3,483.4ZM288.8,635.9A3.6,2.0,38,1,0,294.5,640.3A3.6,2.0,38,1,0,288.8,635.9ZM475.9,599.1A2.3,1.2,135,1,0,472.7,602.3A2.3,1.2,135,1,0,475.9,599.1ZM337.9,566.3A2.4,1.4,90,1,0,337.9,571.1A2.4,1.4,90,1,0,337.9,566.3ZM352.3,503.3A2.5,1.8,20,1,0,356.9,505.0A2.5,1.8,20,1,0,352.3,503.3ZM275.2,566.3A2.2,1.9,138,1,0,271.9,569.2A2.2,1.9,138,1,0,275.2,566.3ZM415.5,671.0A2.5,1.8,75,1,0,416.8,675.8A2.5,1.8,75,1,0,415.5,671.0ZM276.9,651.3A2.1,2.1,122,1,0,274.7,654.9A2.1,2.1,122,1,0,276.9,651.3ZM481.7,473.4A4.7,4.6,140,1,0,474.5,479.4A4.7,4.6,140,1,0,481.7,473.4ZM389.2,603.0A3.4,3.2,104,1,0,387.5,609.7A3.4,3.2,104,1,0,389.2,603.0ZM385.0,551.9A3.9,3.1,169,1,0,377.4,553.3A3.9,3.1,169,1,0,385.0,551.9ZM430.9,531.8A4.2,2.6,87,1,0,431.4,540.2A4.2,2.6,87,1,0,430.9,531.8ZM374.6,622.5A2.2,1.3,33,1,0,378.3,625.0A2.2,1.3,33,1,0,374.6,622.5ZM396.4,497.2A3.7,3.5,77,1,0,398.0,504.4A3.7,3.5,77,1,0,396.4,497.2ZM306.6,593.4A3.2,2.3,32,1,0,312.1,596.8A3.2,2.3,32,1,0,306.6,593.4ZM413.8,535.2A5.0,3.7,123,1,0,408.4,543.5A5.0,3.7,123,1,0,413.8,535.2ZM462.8,679.9A2.1,2.0,19,1,0,466.7,681.2A2.1,2.0,19,1,0,462.8,679.9ZM470.7,634.7A2.8,2.4,101,1,0,469.6,640.1A2.8,2.4,101,1,0,470.7,634.7ZM362.0,598.9A3.4,2.8,125,1,0,358.1,604.4A3.4,2.8,125,1,0,362.0,598.9ZM261.5,600.3A4.1,3.8,96,1,0,260.6,608.5A4.1,3.8,96,1,0,261.5,600.3ZM377.3,494.6A2.6,2.5,11,1,0,382.4,495.6A2.6,2.5,11,1,0,377.3,494.6ZM456.4,490.1A3.2,2.6,5,1,0,462.6,490.7A3.2,2.6,5,1,0,456.4,490.1ZM355.8,639.0A3.2,1.9,11,1,0,362.0,640.1A3.2,1.9,11,1,0,355.8,639.0ZM467.5,483.1A4.0,3.3,50,1,0,472.6,489.3A4.0,3.3,50,1,0,467.5,483.1ZM386.0,614.1A2.6,1.6,166,1,0,380.9,615.3A2.6,1.6,166,1,0,386.0,614.1ZM308.9,569.6A3.4,3.0,154,1,0,302.8,572.5A3.4,3.0,154,1,0,308.9,569.6ZM430.0,598.0A3.6,2.0,103,1,0,428.3,605.0A3.6,2.0,103,1,0,430.0,598.0ZM354.7,627.2A3.1,1.8,69,1,0,356.9,633.1A3.1,1.8,69,1,0,354.7,627.2ZM441.0,570.3A4.0,2.1,40,1,0,447.2,575.4A4.0,2.1,40,1,0,441.0,570.3ZM317.6,568.1A2.4,2.3,60,1,0,320.0,572.2A2.4,2.3,60,1,0,317.6,568.1ZM262.9,514.2A3.5,2.8,147,1,0,257.1,518.0A3.5,2.8,147,1,0,262.9,514.2ZM281.0,673.5A4.6,3.5,116,1,0,277.0,681.7A4.6,3.5,116,1,0,281.0,673.5ZM329.7,495.3A2.0,2.0,160,1,0,325.9,496.7A2.0,2.0,160,1,0,329.7,495.3ZM355.5,595.1A3.4,2.9,18,1,0,362.0,597.2A3.4,2.9,18,1,0,355.5,595.1ZM430.3,500.1A3.8,3.1,153,1,0,423.6,503.5A3.8,3.1,153,1,0,430.3,500.1ZM396.9,498.1A4.4,3.1,101,1,0,395.2,506.9A4.4,3.1,101,1,0,396.9,498.1ZM436.0,677.2A2.3,1.7,57,1,0,438.5,681.0A2.3,1.7,57,1,0,436.0,677.2ZM446.4,546.4A4.7,4.2,75,1,0,448.7,555.6A4.7,4.2,75,1,0,446.4,546.4ZM426.9,612.3A2.4,1.5,24,1,0,431.2,614.2A2.4,1.5,24,1,0,426.9,612.3ZM447.2,550.4A2.9,2.5,178,1,0,441.4,550.6A2.9,2.5,178,1,0,447.2,550.4ZM293.0,614.0A2.7,2.4,134,1,0,289.2,617.8A2.7,2.4,134,1,0,293.0,614.0ZM427.9,591.2A2.4,2.2,20,1,0,432.4,592.8A2.4,2.2,20,1,0,427.9,591.2ZM389.9,672.7A2.8,2.1,122,1,0,386.9,677.5A2.8,2.1,122,1,0,389.9,672.7ZM405.1,532.1A3.2,3.1,129,1,0,401.0,537.1A3.2,3.1,129,1,0,405.1,532.1ZM302.6,611.8A4.6,3.6,161,1,0,294.0,614.8A4.6,3.6,161,1,0,302.6,611.8ZM314.3,525.3A4.6,2.9,23,1,0,322.8,528.9A4.6,2.9,23,1,0,314.3,525.3ZM295.7,654.8A4.5,2.7,134,1,0,289.6,661.3A4.5,2.7,134,1,0,295.7,654.8ZM305.0,599.0A2.0,1.6,135,1,0,302.1,601.9A2.0,1.6,135,1,0,305.0,599.0ZM373.6,600.4A2.4,1.7,141,1,0,369.9,603.3A2.4,1.7,141,1,0,373.6,600.4ZM345.1,624.7A3.8,3.4,133,1,0,339.9,630.3A3.8,3.4,133,1,0,345.1,624.7ZM330.2,640.7A4.5,3.2,129,1,0,324.6,647.6A4.5,3.2,129,1,0,330.2,640.7ZM350.0,588.0A3.0,2.2,55,1,0,353.3,592.9A3.0,2.2,55,1,0,350.0,588.0ZM457.7,594.8A3.8,2.9,84,1,0,458.5,602.4A3.8,2.9,84,1,0,457.7,594.8ZM298.6,602.7A3.3,2.2,92,1,0,298.3,609.4A3.3,2.2,92,1,0,298.6,602.7Z" fill="#a49cc8" opacity="0.5"/>
<path d="M281.2,602.2A8.7,5.9,29,1,0,296.4,610.6A8.7,5.9,29,1,0,281.2,602.2ZM475.8,594.3A5.9,3.2,103,1,0,473.1,605.8A5.9,3.2,103,1,0,475.8,594.3ZM306.0,653.7A8.3,5.3,73,1,0,310.8,669.6A8.3,5.3,73,1,0,306.0,653.7ZM277.3,505.6A7.3,6.9,77,1,0,280.7,519.9A7.3,6.9,77,1,0,277.3,505.6ZM471.5,515.4A4.6,4.2,68,1,0,474.9,524.0A4.6,4.2,68,1,0,471.5,515.4ZM314.7,558.8A7.7,4.7,19,1,0,329.2,563.8A7.7,4.7,19,1,0,314.7,558.8ZM398.9,605.3A7.4,4.3,155,1,0,385.5,611.6A7.4,4.3,155,1,0,398.9,605.3ZM355.0,573.6A9.3,5.3,89,1,0,355.2,592.2A9.3,5.3,89,1,0,355.0,573.6ZM349.7,600.7A5.4,3.3,41,1,0,357.8,607.7A5.4,3.3,41,1,0,349.7,600.7ZM389.9,522.2A9.6,8.9,131,1,0,377.3,536.7A9.6,8.9,131,1,0,389.9,522.2ZM357.3,644.3A7.4,6.6,172,1,0,342.6,646.4A7.4,6.6,172,1,0,357.3,644.3ZM282.2,623.1A9.4,6.6,62,1,0,291.2,639.7A9.4,6.6,62,1,0,282.2,623.1ZM261.8,659.7A5.2,2.6,16,1,0,271.8,662.5A5.2,2.6,16,1,0,261.8,659.7ZM365.1,611.0A9.4,7.8,18,1,0,383.0,617.0A9.4,7.8,18,1,0,365.1,611.0ZM473.7,651.3A8.8,8.4,150,1,0,458.3,660.1A8.8,8.4,150,1,0,473.7,651.3ZM407.2,632.6A4.1,4.1,1,1,0,415.5,632.7A4.1,4.1,1,1,0,407.2,632.6ZM354.3,581.9A7.1,4.7,91,1,0,354.0,596.0A7.1,4.7,91,1,0,354.3,581.9ZM331.7,605.6A4.2,2.8,117,1,0,327.9,613.0A4.2,2.8,117,1,0,331.7,605.6ZM361.5,460.7A6.8,6.5,94,1,0,360.6,474.2A6.8,6.5,94,1,0,361.5,460.7ZM430.0,542.2A9.9,7.5,146,1,0,413.6,553.3A9.9,7.5,146,1,0,430.0,542.2ZM404.9,642.6A6.4,6.1,178,1,0,392.2,643.1A6.4,6.1,178,1,0,404.9,642.6ZM464.7,661.6A6.2,4.1,161,1,0,453.1,665.7A6.2,4.1,161,1,0,464.7,661.6ZM444.2,586.5A7.4,3.7,101,1,0,441.5,600.9A7.4,3.7,101,1,0,444.2,586.5ZM268.0,576.9A5.3,4.3,28,1,0,277.4,582.0A5.3,4.3,28,1,0,268.0,576.9ZM339.9,632.9A7.5,4.2,177,1,0,324.9,633.6A7.5,4.2,177,1,0,339.9,632.9ZM268.4,547.0A8.3,6.5,117,1,0,260.8,561.7A8.3,6.5,117,1,0,268.4,547.0ZM462.2,477.6A7.0,4.4,108,1,0,457.9,491.0A7.0,4.4,108,1,0,462.2,477.6ZM360.7,593.6A8.8,6.6,76,1,0,364.9,610.7A8.8,6.6,76,1,0,360.7,593.6ZM383.1,490.8A9.5,6.6,90,1,0,383.2,509.7A9.5,6.6,90,1,0,383.1,490.8ZM447.1,637.3A10.0,8.5,96,1,0,445.1,657.2A10.0,8.5,96,1,0,447.1,637.3ZM356.6,627.5A7.7,3.9,101,1,0,353.5,642.6A7.7,3.9,101,1,0,356.6,627.5ZM416.5,539.2A9.0,7.8,159,1,0,399.7,545.5A9.0,7.8,159,1,0,416.5,539.2ZM320.2,603.4A7.4,4.9,54,1,0,328.9,615.3A7.4,4.9,54,1,0,320.2,603.4ZM275.4,643.8A5.7,3.8,46,1,0,283.3,651.9A5.7,3.8,46,1,0,275.4,643.8ZM378.9,564.3A9.2,5.0,62,1,0,387.6,580.5A9.2,5.0,62,1,0,378.9,564.3ZM449.4,638.4A4.4,3.2,179,1,0,440.6,638.6A4.4,3.2,179,1,0,449.4,638.4ZM468.7,531.7A8.5,5.6,12,1,0,485.2,535.1A8.5,5.6,12,1,0,468.7,531.7ZM467.6,486.4A10.0,7.2,153,1,0,449.8,495.2A10.0,7.2,153,1,0,467.6,486.4ZM357.0,661.5A8.5,5.0,4,1,0,373.9,662.8A8.5,5.0,4,1,0,357.0,661.5ZM295.9,592.8A4.7,2.5,69,1,0,299.2,601.4A4.7,2.5,69,1,0,295.9,592.8ZM277.8,526.2A7.8,4.8,142,1,0,265.5,535.8A7.8,4.8,142,1,0,277.8,526.2ZM311.2,542.7A6.4,5.9,9,1,0,323.9,544.7A6.4,5.9,9,1,0,311.2,542.7ZM446.6,477.1A9.8,7.6,135,1,0,432.7,490.9A9.8,7.6,135,1,0,446.6,477.1ZM367.3,606.6A8.1,4.7,35,1,0,380.6,615.9A8.1,4.7,35,1,0,367.3,606.6ZM464.8,507.3A5.5,2.9,128,1,0,458.0,515.8A5.5,2.9,128,1,0,464.8,507.3ZM434.4,462.2A9.2,5.1,89,1,0,434.6,480.5A9.2,5.1,89,1,0,434.4,462.2ZM378.4,515.2A5.9,4.4,141,1,0,369.1,522.7A5.9,4.4,141,1,0,378.4,515.2ZM306.9,511.4A9.9,6.2,19,1,0,325.5,517.7A9.9,6.2,19,1,0,306.9,511.4ZM471.2,665.6A5.3,4.0,157,1,0,461.4,669.7A5.3,4.0,157,1,0,471.2,665.6ZM332.3,534.7A4.0,2.3,109,1,0,329.7,542.3A4.0,2.3,109,1,0,332.3,534.7ZM367.7,647.4A6.7,4.2,71,1,0,372.1,660.0A6.7,4.2,71,1,0,367.7,647.4ZM292.9,561.3A8.2,4.8,105,1,0,288.7,577.1A8.2,4.8,105,1,0,292.9,561.3ZM475.4,615.1A5.9,4.9,20,1,0,486.6,619.1A5.9,4.9,20,1,0,475.4,615.1ZM285.6,633.7A8.2,6.7,101,1,0,282.4,649.9A8.2,6.7,101,1,0,285.6,633.7ZM342.3,642.9A7.1,6.5,132,1,0,332.8,653.4A7.1,6.5,132,1,0,342.3,642.9ZM339.3,640.4A6.1,4.9,152,1,0,328.5,646.2A6.1,4.9,152,1,0,339.3,640.4ZM475.5,597.9A5.2,3.0,149,1,0,466.5,603.1A5.2,3.0,149,1,0,475.5,597.9ZM333.1,489.9A7.5,5.3,133,1,0,322.9,500.8A7.5,5.3,133,1,0,333.1,489.9ZM296.3,567.0A9.7,5.7,70,1,0,303.0,585.3A9.7,5.7,70,1,0,296.3,567.0ZM347.9,487.0A4.9,3.2,99,1,0,346.4,496.6A4.9,3.2,99,1,0,347.9,487.0Z" fill="#d8d898" opacity="0.6"/>
<path d="M298.2,599.3A9.0,5.8,153,1,0,282.2,607.4A9.0,5.8,153,1,0,298.2,599.3ZM427.9,554.3A8.1,6.1,117,1,0,420.6,568.7A8.1,6.1,117,1,0,427.9,554.3ZM434.4,609.4A6.0,3.5,179,1,0,422.4,609.5A6.0,3.5,179,1,0,434.4,609.4ZM386.9,573.0A6.9,6.2,149,1,0,375.0,580.2A6.9,6.2,149,1,0,386.9,573.0ZM328.9,516.5A6.6,4.3,92,1,0,328.3,529.6A6.6,4.3,92,1,0,328.9,516.5ZM364.7,461.6A6.8,4.2,150,1,0,353.0,468.4A6.8,4.2,150,1,0,364.7,461.6ZM483.1,650.4A9.9,6.8,161,1,0,464.2,656.8A9.9,6.8,161,1,0,483.1,650.4ZM428.3,594.4A11.6,11.2,95,1,0,426.4,617.5A11.6,11.2,95,1,0,428.3,594.4ZM311.7,612.7A13.4,8.2,69,1,0,321.2,637.9A13.4,8.2,69,1,0,311.7,612.7ZM424.2,635.6A6.4,5.8,44,1,0,433.5,644.4A6.4,5.8,44,1,0,424.2,635.6ZM279.8,468.5A9.7,7.0,33,1,0,296.0,479.2A9.7,7.0,33,1,0,279.8,468.5ZM411.1,492.5A13.4,13.4,60,1,0,424.6,515.7A13.4,13.4,60,1,0,411.1,492.5ZM272.7,472.0A10.3,7.0,140,1,0,256.9,485.1A10.3,7.0,140,1,0,272.7,472.0ZM355.8,515.0A7.3,7.3,138,1,0,345.1,524.9A7.3,7.3,138,1,0,355.8,515.0ZM414.9,503.4A9.5,8.4,116,1,0,406.4,520.5A9.5,8.4,116,1,0,414.9,503.4ZM327.0,529.3A12.5,6.6,116,1,0,315.9,551.7A12.5,6.6,116,1,0,327.0,529.3ZM410.9,568.4A10.4,10.0,58,1,0,421.8,586.1A10.4,10.0,58,1,0,410.9,568.4ZM433.3,613.1A11.9,6.4,125,1,0,419.7,632.6A11.9,6.4,125,1,0,433.3,613.1ZM341.6,478.6A13.3,8.4,84,1,0,344.5,504.9A13.3,8.4,84,1,0,341.6,478.6ZM331.5,480.3A8.3,6.7,115,1,0,324.4,495.4A8.3,6.7,115,1,0,331.5,480.3ZM426.2,488.6A8.2,7.5,94,1,0,424.9,504.9A8.2,7.5,94,1,0,426.2,488.6ZM431.8,560.6A9.4,4.8,151,1,0,415.4,569.6A9.4,4.8,151,1,0,431.8,560.6ZM464.6,614.6A7.7,6.3,122,1,0,456.3,627.7A7.7,6.3,122,1,0,464.6,614.6ZM326.7,534.0A13.1,8.3,110,1,0,317.8,558.7A13.1,8.3,110,1,0,326.7,534.0ZM276.4,466.7A6.3,4.1,167,1,0,264.0,469.5A6.3,4.1,167,1,0,276.4,466.7ZM381.3,567.2A7.2,5.6,23,1,0,394.5,572.9A7.2,5.6,23,1,0,381.3,567.2ZM276.2,528.9A8.1,7.2,102,1,0,273.0,544.7A8.1,7.2,102,1,0,276.2,528.9ZM396.1,517.5A9.1,5.1,52,1,0,407.4,531.8A9.1,5.1,52,1,0,396.1,517.5ZM488.3,608.7A8.7,7.1,164,1,0,471.6,613.5A8.7,7.1,164,1,0,488.3,608.7ZM432.6,577.6A7.2,3.8,13,1,0,446.8,580.7A7.2,3.8,13,1,0,432.6,577.6ZM431.2,630.8A11.6,10.0,25,1,0,452.2,640.6A11.6,10.0,25,1,0,431.2,630.8ZM382.1,465.0A6.3,5.1,1,1,0,394.6,465.3A6.3,5.1,1,1,0,382.1,465.0ZM341.0,533.3A13.0,8.8,37,1,0,361.7,548.8A13.0,8.8,37,1,0,341.0,533.3ZM424.4,496.8A13.8,13.3,178,1,0,396.7,497.6A13.8,13.3,178,1,0,424.4,496.8ZM395.5,495.6A7.6,6.5,79,1,0,398.4,510.6A7.6,6.5,79,1,0,395.5,495.6ZM409.5,501.1A10.6,9.8,52,1,0,422.6,517.6A10.6,9.8,52,1,0,409.5,501.1ZM436.5,487.0A11.3,5.9,44,1,0,452.9,502.7A11.3,5.9,44,1,0,436.5,487.0ZM284.3,501.0A10.2,9.3,146,1,0,267.2,512.3A10.2,9.3,146,1,0,284.3,501.0ZM469.1,506.0A13.5,9.6,120,1,0,455.6,529.4A13.5,9.6,120,1,0,469.1,506.0ZM416.0,516.0A8.2,5.9,61,1,0,423.9,530.5A8.2,5.9,61,1,0,416.0,516.0ZM430.4,647.8A11.3,5.9,144,1,0,412.3,661.2A11.3,5.9,144,1,0,430.4,647.8ZM427.7,673.4A7.5,7.3,71,1,0,432.5,687.6A7.5,7.3,71,1,0,427.7,673.4ZM384.5,500.0A8.0,5.7,101,1,0,381.3,515.7A8.0,5.7,101,1,0,384.5,500.0ZM320.7,576.9A9.4,5.7,116,1,0,312.3,593.8A9.4,5.7,116,1,0,320.7,576.9ZM333.4,463.7A7.9,5.6,111,1,0,327.7,478.5A7.9,5.6,111,1,0,333.4,463.7ZM268.4,659.0A6.6,6.5,5,1,0,281.6,660.1A6.6,6.5,5,1,0,268.4,659.0ZM319.0,530.4A11.4,6.2,37,1,0,337.1,544.2A11.4,6.2,37,1,0,319.0,530.4ZM439.3,660.4A6.4,3.5,61,1,0,445.5,671.7A6.4,3.5,61,1,0,439.3,660.4ZM333.1,601.3A13.5,11.1,60,1,0,346.8,624.7A13.5,11.1,60,1,0,333.1,601.3ZM314.8,474.4A6.5,6.1,156,1,0,302.9,479.8A6.5,6.1,156,1,0,314.8,474.4Z" fill="#c0a050" opacity="0.45"/>
</g>
<g filter="url(#sharp)" fill="none" stroke-linecap="round">
<path d="M303.3 466.3l-.6 .8M315.3 464.7l-0 .2M331.3 464.5l0 0M396.7 467l.1 .5M352.7 470.5l.1 1M403.9 470.1l-.2 0M442.9 471.6l1.2 1.1M302.7 475.1l-.1 .2M327.5 475.4l-1.1 .6M394.7 477.1l.6 .1M300.4 480.3l-.9 .6M426.6 479l-.3 1.2M466.6 480.1l.3 0M350.3 485.7l.2 .1M377.9 485.1l-.8 .5M395.2 484.1l-.4 .8M423.8 484.7l.9 .4M471 487.1l.1 .2M426.8 490.3l0 .1M318.6 496.5l-0 .7M341.8 495l-.1 1.6M405.8 495.7l-.4 1.4M345.8 499.9l-1.1 .4M356.7 502.1l.9 .3M290.4 506.7l-.2 0M309 506.3l.3 .2M335.6 507.1l.1 .2M343.1 506.5l1.1 1.1M401.2 504.7l1 .8M428.6 507l.3 .2M346.2 509.4l.6 1.2M290.2 517l.1 .2M306.1 519.4l.7 .6M474.6 519.6l-.2 .3M382.4 524.4l-0 1M321.5 531.4l-0 .6M334.3 531.6l-.1 .6M414.1 531.2l-.1 .2M267.3 534.9l-.7 1.1M319.7 534.5l-1.1 1.1M377.1 536.4l1.1 0M385 536.4l.6 .1M452.1 535.3l-.2 .2M294.2 539.4l-.3 .9M322.8 541.9l0 .1M376 541.5l-.1 .1M397.8 540.3l-.2 1M416.7 540.9l-.9 .7M460.6 541.1l-.3 .7M296.6 547.2l-1.5 .6M368.6 546l-1.1 1.1M380.2 551.5l-.3 1.5M439.6 552.4l0 .2M451.2 551l.8 .2M319.4 555l-.4 .1M441.7 556.2l-.4 .1M451.7 557.6l.8 .3M281.3 559.9l-.3 .3M339 561l0 0M302.4 564.8l.5 1.4M383.2 566.5l-1 .2M454.2 566.6l.6 .6M317.3 572.4l-.7 0M416.3 571l-.8 .2M445.3 571.8l.8 1.3M456.3 571.1l-.6 .3M351 577.4l-1.1 .1M333.9 582.1l-.2 1.1M341.6 580.6l-.6 1.3M384.9 585.7l.7 .6M436 584.9l-.3 0M440.2 585.3l-.1 .3M386.2 590.8l-.1 .5M442.5 592.6l1.1 .2M337.8 595.1l0 1M469.9 595.5l.3 .2M420.6 602.8l-.2 0M478.9 600.5l-.5 .1M314.2 606.5l.3 .1M459.5 604.9l1.5 .4M317 611.1l.2 .4M330.6 612.7l-.5 .3M340.3 610.7l.5 .8M402.3 612.6l.3 .6M416.9 610.6l.5 .3M379.3 616.3l-1.1 .6M270.2 622.4l.1 .5M316 622l-.6 .9M417.3 621l-.5 0M456.6 621.3l-.8 1.2M261.4 625.6l.7 .3M267.4 627.7l.7 .5M377.6 627.4l.1 .1M292.4 631.2l-.1 .1M339.3 630.5l-.3 .5M353.3 630.3l.1 .5M355.8 630.5l.2 .8M382.6 630l-.2 .8M415.3 633l.6 0M456.7 631.4l-.5 1M413.5 636.4l-0 0M424.3 636.5l-1.5 .4M449.1 636l-.2 1M275.9 640.6l-.1 .6M392.4 640.3l.2 1.4M402.6 642.6l-0 .6M390.1 647.3l0 .1M477.6 645.1l1.2 .3M274.8 652.2l.1 1M309.8 651.2l.5 .5M347.4 652l-.6 .5M386.5 649.8l.8 .9M419.9 650.6l.9 1M460.7 652.8l1.6 .3M284.7 657.7l.1 .2M297.2 656.5l0 .5M326.3 656.2l-0 .4M347.3 655.8l.2 .1M361.1 656.6l-1.5 .1M384.2 655.8l0 .3M440.3 657.2l-.2 .7M448.5 655.1l-.6 .7M315.6 662.3l.2 .1M316.4 666.1l-1.4 .6M306.3 672.6l.1 .2M327.6 670.7l.6 1.1M375.7 671l1.3 .3M427.5 670.4l.6 .3M466.5 670.7l1.1 .2M319.8 675.4l-.1 .3M347.3 683l-.6 .1" stroke="#74503a" stroke-width="3.4"/>
<path d="M273.2 466.4l-.2 1M348 464.3l.2 .1M360.8 464.9l1 .4M371.2 465.9l.6 1.5M294.7 471l.2 .2M310.8 469.5l-.9 1.2M434.4 471.2l.3 .1M440.3 471.1l0 .3M463.3 470.1l.1 .1M271.7 476.5l.9 .9M477.3 474.7l-.6 1.3M269.9 479.7l.2 1.2M284.3 479.3l-1.5 .2M271.1 491.1l.6 1.2M476.9 496.7l-.9 .4M322.5 500.2l-.2 .3M340.3 500.6l.1 .3M390.3 499.3l1.5 .3M427.5 499.9l-.5 .2M272.5 505.9l-.3 1.3M320.9 506.8l-.6 1.2M354.9 505.6l-.1 1.2M434.6 505.3l.1 1.4M476.8 507l-.3 .4M350.4 509.6l0 .1M466.8 511.4l1.1 1.1M269.8 515.5l-.9 .5M312.5 514.9l.5 .2M412.1 516.1l.1 1.2M477.7 516.1l.1 0M327.7 521.9l-.1 .2M349.6 527.1l.2 .2M345.4 529.6l0 .3M387.4 529.9l.1 0M454.5 529.8l.6 1.3M295.9 537.1l-.3 .8M308.2 536.4l-1.1 .4M351.3 540.6l-.3 .3M379.4 546.8l.2 0M445.8 550.4l.2 .3M478.1 551.9l-.4 1.4M359.9 555.2l-.5 .8M365.9 555.2l.1 0M310.1 561.5l.8 .1M317.7 562.5l.8 .4M467.6 559.6l-.2 .8M325.5 564.5l-.7 1.1M365.2 566.2l-0 .1M443.7 564.9l-1 .3M457.8 565.5l.3 .5M298.2 571.2l-0 .1M321.3 572.4l-.2 .2M303.8 576.6l0 0M382.2 576.8l.4 1.4M274.9 579.9l.1 .5M357.9 582.2l.2 .4M431.8 580.4l-.2 .4M467 582.2l.3 .2M262.7 587.1l-.7 .7M273.8 585.9l0 .4M389.2 585.9l.7 0M399.9 587.4l-.1 .2M282.7 591.3l.2 1.4M374.6 590.6l-.3 .2M326.9 596.1l-.5 .6M365 597.4l.5 .2M453 595.5l.1 1.2M294.5 602.2l-.8 .3M300 601.8l.1 0M362 599.9l.6 1M373.8 601.5l-0 .3M380 601.3l.1 .1M445.6 600l.9 0M285.3 604.6l-.8 .7M371.5 605.7l-.4 .4M336.7 615l-.5 1.1M364.7 615.9l.1 .1M455.2 616.4l-.9 .6M393.7 621.6l-0 .2M284.9 624.8l.9 1.2M333.2 625.3l-0 1.3M367 627.1l1.5 .5M402 626.4l.2 .1M459.5 624.8l-.5 .8M270.5 632.5l.9 .1M288.7 630.2l-.1 .5M317.8 630.5l.2 .4M480.8 630.7l.5 .5M313.3 637.6l0 .7M431.2 635.2l0 .4M287.4 640.9l-1.2 0M357.7 639.8l.9 1M340.3 651.3l-.1 .4M463.5 655.7l.2 .6M269.9 661.8l-.3 1.1M450.1 659.9l.1 1.4M461.4 661.3l.3 0M365.6 666.5l-.9 .8M378.9 665.1l.3 .3M277 672.7l-.4 .6M331.3 676.2l-0 .1M417.8 676.4l-.4 0M321 680.4l1.4 .4M368.4 682.7l-.5 .3M375.5 681.9l.1 .5M416.7 683.1l-1 .1M478.8 681.1l.8 .1" stroke="#68483e" stroke-width="3.4"/>
<path d="M261.3 466.7l-.8 .4M321.4 466.5l-1 .9M471.5 464l.2 1.3M268.6 469.9l1.1 .6M329.7 471.1l.1 .2M334.4 471l-.3 1.1M263.3 474.8l.1 .4M289.5 476l-.3 0M350.2 476.8l.1 .8M335.1 481.7l-0 0M369.9 479.4l1.1 .2M433.4 482.1l-.4 .2M463.3 480.1l-.1 .4M262.3 484.3l-1.1 .9M267.3 485.7l-1 .7M301.4 485l.1 1.1M320.5 486.4l-1.3 0M417 485.5l0 0M465.4 484.7l.3 .3M299.4 489.9l-.8 1.4M329.2 491.3l.8 1.3M335.5 491l0 .4M341 489.6l-0 .9M374.4 490.3l.3 .5M409 490.8l-.1 .1M468.1 489.1l-.3 .7M267.5 494.1l-.9 1.2M462.8 495.5l1.1 1.1M283.5 501l-.2 .6M288.2 500.9l.7 .3M335.6 499.6l.2 .6M449.5 500.8l.3 .4M278.1 516.8l1.1 1M325.6 515.8l.6 .1M293 521.3l-.4 1M316.3 519.5l1.5 .1M352 519.5l1.1 .2M460.8 525.2l-.7 .9M276.6 529.3l1 .7M434.5 528.9l-.2 1.4M449.1 531.2l.9 1.1M360.3 535.7l0 0M305.9 539.9l-0 .6M335 540.8l.6 1.2M427.8 540.5l-.1 0M324.9 545.4l.5 .4M361.3 545.4l1.3 .7M470.3 547.5l-.1 .1M471.4 549.4l1.4 .7M371.5 556.1l.8 .4M436.2 556l1.1 1.1M458.3 556.2l-.6 .5M284 566.5l-.2 .1M310.7 572.2l-.1 .9M334.2 570.2l.8 0M356.4 569.8l-.2 .4M307.9 575.9l.6 1.4M400.1 575.8l.7 .2M434.5 576.5l.2 .1M265.3 582.1l-.3 .4M272.1 580.7l-.4 0M375.5 581.9l-.2 .6M279.4 585.7l-.3 .4M417.8 587.4l1.3 .4M315.9 591.1l-.1 1M368.1 589.8l-.3 .3M268.8 596.7l.3 .1M285.7 594.6l-1.5 .5M376.1 597.7l.4 .1M418.8 597.1l-.1 .2M287 600.8l-1 .7M370 601.8l.6 1.1M431.6 601.6l1.2 .9M297.1 607l1.1 .8M309.1 607.5l0 0M331.6 606.8l0 .4M365.9 606.8l-0 0M471.8 605.6l.6 1M288.4 610.9l-1 .6M321.2 611.3l.1 .2M356.4 610.3l.2 .3M325.7 616.7l-.3 .6M390.5 616.8l-.2 .8M418.3 615.9l.2 .4M440 617.1l.1 .1M448.7 617.1l-.7 .5M464.2 616.6l-.6 .9M292.9 620.6l-.1 .1M333.8 620.3l-.1 .1M345.8 621l1.1 0M272 625.2l.1 .5M313.6 626.2l-.7 1M336 627.6l-.5 .1M389.8 626.2l.8 .8M453 627.8l.2 .3M312.5 632l.2 .2M402.6 636.3l-1.1 .3M316 640.6l-.6 .9M345.9 641.2l-.6 .5M397.9 640.8l-.7 .4M431.7 640.2l-.6 .9M473.2 640.2l1.2 .3M362.4 647.1l-1.3 .2M443.3 651.5l.8 1.3M400 656.5l-.1 0M416.9 657.1l1.1 .9M458.7 655.8l.2 1M287.2 662.2l.2 .1M295 662.3l-1.3 .9M305.1 661.9l-1.3 .3M328.2 662.3l.3 .2M388 663l.7 .2M437 661.4l.3 .1M480.7 660.4l.3 .2M406.3 667.6l-.1 0M417.3 666.1l-0 0M464.2 667.2l-.2 .1M353.4 670.1l.2 .3M472.3 671.1l-0 .1M261.7 676l.1 0M349.1 678.2l.2 .1M405.5 682.2l-0 0M420.5 681.4l1.4 .1M434.7 682.9l-.5 .2M460.7 682.2l0 0M467.3 681.2l.5 .1" stroke="#80603a" stroke-width="3.4"/>
<path d="M289.6 463.7l.6 1.4M276.2 471.2l-1 .8M287.1 469.8l.6 .6M322.7 470.5l-1.3 .6M373.3 469.7l.1 .3M372.5 474.1l.1 .4M379.2 475l-.4 0M306.9 480.3l-.3 .6M316.3 481.4l-1 .3M373.8 482l.9 .2M273.7 485.6l-.2 1.5M372.6 486.6l.8 .9M383.2 485.6l.3 .4M442.5 484.9l-1 1M443 490.7l0 .5M451.1 491.2l0 0M461.3 490l-.9 .6M281.3 494.9l-1 .7M314.9 495.7l-.6 .4M327 496.8l.6 .7M354.7 496.6l-.5 .4M386 496.6l-1.4 .5M423.1 494.5l-.2 .3M264.1 500.9l-.3 .9M292.1 501.2l.4 .7M263.3 506.3l-.1 .4M377.3 505l.2 .7M416.8 506l.2 .1M269.7 510.1l.1 .1M375.5 512l-1.1 .7M478.8 510.7l-.1 1.2M298 516.1l-.2 1M354.5 515.9l-.9 .3M370.4 515.7l-.1 .4M394.9 516.5l-0 .2M401.2 516l.6 1M286.2 520.5l.6 .7M323.7 522.2l.2 .2M340.9 519.2l0 1.1M357.2 521.3l.8 .1M427.9 520.9l.7 1M373.2 527.1l-.1 .4M377.8 527.2l-.1 .3M434 526.3l1 0M453.1 527l-1.3 .7M266.6 531.5l-1.2 .6M294 532.3l.2 .1M364.3 530.6l-0 0M374.4 532l1 .2M399.7 530.5l-1.2 1M261.7 536.6l-0 .3M335.7 535.7l.9 1M396.5 535l.4 .4M449.3 535.6l-.1 .3M263.6 541.7l-.8 1.2M269.1 541.2l.7 .9M286.3 542.2l1.3 .5M405.3 542.3l-.7 .6M291.2 547.3l-.2 .1M382.1 544.6l.1 0M396.2 545.5l-.1 .8M406.7 545.9l-.6 .9M429.3 547l.9 .1M454 545.1l-.1 .7M268.5 550.4l1.5 0M293.3 549.6l-.7 .5M311.7 550.3l-.1 .9M356.3 551.6l-.4 .5M376.8 549.7l-1.4 .7M414.2 551l-.1 1.1M428.9 550.5l.1 .4M432.6 552.2l1.5 .1M463.8 551.8l-.1 .5M279.7 555.3l-0 .4M337.9 556.7l.5 1.3M469.3 557.2l-.2 .8M289.1 561.2l.7 .7M294.3 559.4l1.2 .7M323.7 560.3l-.2 .4M347.7 559.9l-.9 1.2M408.1 562.2l-0 0M450.6 560.5l-.3 1.3M338.9 572.4l-0 0M344.9 571.7l.9 0M273.9 575.6l.5 .4M337.5 575.3l1.4 .2M425.1 576.2l-.1 .6M479.3 582.1l.3 .8M292.4 586.5l-.3 1.5M343.7 585.3l-1.4 .6M425 586.4l-.1 0M448.6 584.5l.4 .7M460.3 585.8l-1.3 .6M472.9 584.5l-1.2 1M427 592.3l.9 0M438.5 589.8l.5 1.3M461.8 590.1l1.5 .3M260.1 597.2l.2 .2M300.7 594.9l.9 1.1M384.4 597l-.9 .9M388.6 597.6l-.2 0M323.2 600.9l-.8 .3M404 600.8l-.2 .7M263 607.3l-1 .3M278.2 607.2l-.3 .5M419 606.4l.8 .8M261 616.6l1.3 .4M356.1 615.2l-.6 1.4M289.6 622l-.5 .3M376 620.5l-.4 .2M386.6 619.5l.1 1.5M348.8 627.1l-1.4 .2M382.1 626l-.2 .4M406.6 625.2l-.9 1.3M419 624.6l-.3 1M424.5 626.4l-.7 .3M275.1 631.1l-.3 .4M283.1 630.3l.7 .1M326.9 632.6l.7 0M368.2 631.9l.1 1.1M422.1 632.2l1.4 .2M451.9 631.9l.6 .3M408 635.5l-.1 .1M294.1 641.1l-1 .3M300.6 642.5l-.4 .4M363.5 641.8l1 .5M303.1 647.6l.2 .7M326.4 646.2l-.1 .1M355.7 646.6l-1.3 .2M401.9 646.7l-.3 1.1M410.9 646.6l1.3 .6M464.9 645.8l1.1 .3M327.8 651.4l-.5 .5M450.8 650.6l-.2 .3M274.4 656.7l-.5 .2M309 657.6l.3 .3M336.8 657.3l0 0M471.8 657.9l-.5 0M345.6 661.9l-.9 0M368.1 662.4l-1.2 .4M391.6 660.3l.4 .3M414.4 660.1l-.5 1M263.4 665.2l-.2 .1M355.9 666l.1 .4M390.2 665.6l-.3 .7M435.3 667.4l.1 .3M293.4 671.5l-.8 .4M300.1 670.7l.6 1.1M416.4 672.3l.1 0M308.8 676.6l.8 .7M354.6 677.4l.2 .5M396.6 675.2l-.4 .6M451.8 676.2l.8 .9M263.1 682.2l.3 1.1M306.5 682.1l-.1 .1M340.9 682.1l.4 0M357.8 681.4l.5 .7M362.8 682.7l.7 .5" stroke="#644450" stroke-width="3.4"/>
<path d="M285 464.4l-1.4 .4M341.7 464.7l.1 .5M441.4 464.7l.1 0M458.6 464.6l-.1 0M371.1 471.6l-.4 .1M398.3 470.5l.8 .1M278.9 476l.6 .8M338.8 475.8l-.2 1.5M425.7 474.6l.3 1M288.8 480l0 0M386.7 479.2l.4 .6M403.9 480.3l-.1 .5M481.9 479.8l-1.5 .5M278.5 486.6l0 0M337.9 486.7l-.8 .8M388.9 485.9l1.4 .1M475.8 484.7l-.3 .6M294.8 489.5l.4 .4M359.2 489.2l-.1 1.5M308.2 495.9l.6 .2M332.9 494.8l.1 .4M371.5 495.2l-.1 1.1M353.2 502.2l.2 .1M363.6 500.8l-.8 .4M372 506.7l-.2 .5M423.9 504.8l-.2 .2M415.4 510l.8 .6M274.6 516.7l-.5 .2M307.9 517l-.9 .1M386.2 520.2l-.3 .3M422.6 522.2l-.1 0M437.7 521.5l-.9 0M303.2 524.5l-1.1 .9M396.7 525l-.1 .2M413.1 525.7l.2 .1M405.3 530l.9 1M292.3 536l0 .1M369.4 542l.4 .2M466.2 541.8l-0 1.3M437.2 547.1l.5 0M288.7 549.8l.8 .9M405.1 552.2l-0 .5M410.2 551.1l.6 .4M308.5 557.2l-.3 .4M330.9 555.9l-.1 .1M374.2 561.1l.7 0M393.9 561.4l.3 .2M479.1 561.4l-.4 1.1M414.9 565.3l-1.5 .1M329.1 571.5l.6 .4M362.3 570.4l.1 .4M380.8 572.4l.9 .6M410.6 570.5l1 .1M420.2 572.2l.5 .6M296.9 574.9l1.2 .1M313.1 576.9l0 .9M371.5 576.8l-.8 .1M389.8 577.1l.7 1M411.4 575.6l1.1 .7M419.6 577.4l.1 .4M398.6 582l-0 .7M474.5 582.3l1.3 .5M315.4 585.8l.3 .8M367.3 586.7l1 .6M370.3 586.2l1 .8M412.2 586.3l.2 .1M264.3 592.5l.4 .4M275.6 592.4l.2 .2M380.5 592.1l-.2 .4M422.2 591.6l.7 1.1M456.5 590.7l-.1 .1M319.1 594.9l0 0M371.5 595.3l-.1 .4M430 595.6l-1.5 .1M478 597.6l.2 .6M265.9 600.8l.1 .9M305.8 600.8l-.3 .1M315.7 600.4l-.3 1.3M449.6 600.1l.7 1.1M273.2 606.6l-.4 .6M350 606.8l.1 1.5M424.4 606.6l-.6 .9M446.8 607.4l.2 .3M454.6 607.7l-.2 0M269.6 612.2l.9 .4M409.4 610l.6 1M440.4 611l.1 0M467.6 609.9l1 .7M273 617.6l-1.2 .1M401 616.3l-.2 .2M405.4 616.2l.1 .9M470.8 616l-1.6 0M305.5 622.7l-.1 .4M322.9 622.3l-.1 0M362.9 619.8l.9 .7M379.9 622.8l1.1 .1M427.3 622l0 .1M443.4 627.1l-.1 .4M299.3 630.3l.3 .2M307 632.2l-1 .7M473 631.3l-.8 .2M284.4 637.4l1 .7M281.4 640.8l.1 0M340.8 641.2l-1.5 .2M440.1 640.9l.3 1.4M292 646l-1.4 .1M424.9 645.1l-.2 1.2M437.1 647.5l-.3 .7M271.4 651.5l-1.1 .5M357.3 652l.6 .7M362.1 650.9l0 .2M457.9 652.5l-.5 .3M478.8 652.6l-.4 .2M266.1 655.4l.6 0M303.2 657.4l.2 1.3M363.2 662.8l.1 .3M456.9 661.4l-.4 1.4M266.8 665.7l0 .9M273.6 667.2l1.1 .2M284 668l0 0M343.6 665.9l.2 .3M371.4 666.2l.3 0M335.4 670.3l.2 1.5M379.4 676.7l.2 0M440.6 680.7l-.4 .1" stroke="#74503a" stroke-width="4.0"/>
<path d="M295.5 466.1l-.6 .8M308.6 465.8l-0 .1M355.3 466.9l1.1 .4M376.6 464.9l-.5 0M437.4 465.8l-.5 .2M465.5 464.7l-.3 .2M347.9 470l-.9 .4M362.7 469.5l-.4 1.4M408.6 469.4l-.2 0M456.7 469.6l-.2 .8M331.3 477.1l-.3 0M344 474.1l.5 1.5M400 474.3l-.2 .2M329.6 482.2l1 .2M380.3 480.3l0 .4M397.5 481.8l-.3 .2M451.5 482.1l-.9 .3M454.3 479.7l.9 1.1M312.3 485.9l1.3 .3M407.6 484.1l-1 .9M303.9 489.5l.5 .7M420.4 489.4l.4 .2M379 495.4l-1.4 .8M452 494.6l.5 .3M276 500.1l-.5 .6M422.2 499l.7 1.4M265.9 509.4l.5 1.4M324.5 510.7l-.8 .5M450 509.6l-0 0M321.2 516.2l-.9 .7M441.4 515.5l.9 .1M466.2 515.3l-.6 1.1M312 519.1l-.1 .8M346.7 520.7l-.6 .4M397.9 521.9l-.1 .8M416.7 520.9l.7 .9M450.6 519.8l1.2 .5M462.6 522.2l-.1 .1M262.3 525.9l-1.1 .5M442.7 526.2l.2 .1M311.8 532.3l.6 .5M411.1 531.6l.3 0M445.8 530.5l.2 .7M468.4 530.8l-.7 .3M366.1 537l.4 .5M430.7 536.2l-0 0M457.9 537.2l-0 .1M338.9 541.6l-.4 .6M392.6 540.9l-.7 1M422.8 541.3l-.4 .4M434 540.7l.5 .7M261.6 544.8l1.3 .2M313.7 546.3l-.8 .1M342.1 545.6l-.6 .2M355 545.9l1 .8M417.4 545.4l-.2 .8M369.4 552.5l.1 .1M430.7 556.9l-.2 .1M357.7 560.9l.3 .3M363.9 560.3l-1.3 .9M439.4 560.6l.2 1M474.6 561.2l1.2 .8M435.3 565.4l-.7 1.1M266.3 570.2l-.9 1.2M271.7 569.4l-1.2 1.1M304.8 571.5l-.6 .4M384.4 570.2l1 .1M397.4 569.8l-.8 .5M262.3 576l.9 .3M290.9 575.4l.8 .7M343 576.3l-.6 1.1M312.4 581.8l-.6 1.2M428.4 586.5l.9 .1M464.2 587.5l1 .1M303.7 590l.6 .9M358.5 592.4l-0 0M364.4 591.5l-.8 .6M424.7 596.6l.1 .2M447.1 597.4l-.5 .5M345 600.7l-.2 1.4M462 600.9l1.3 0M290.1 605.3l-.4 .7M326 604.5l-1.1 1.1M343 605l-.3 .3M276.7 609.7l-.1 1M300.5 610.8l-1.3 .5M312.5 610.3l0 .1M392.1 610.5l.1 0M420.6 610.6l-.2 .4M292.2 615l-.4 .2M436.4 617l-.5 .4M289.7 627.7l0 .1M325.2 626.4l.1 0M359 627.6l-.1 .8M394.6 626.7l-1 .2M470.3 627.1l-.5 1.2M264.7 630.5l-0 .6M397.5 632.2l-.8 .8M404.5 631.1l.1 .2M463.1 630.9l-.7 .5M266.2 636.8l.7 .8M370.9 636.9l-.3 .2M478.4 635.3l-.5 .4M304.9 642.3l-1.3 0M312.9 640.9l.1 .1M407.8 645.3l-.6 1M398.5 650.2l.2 .4M407.8 652.9l1.5 .1M475.3 650.9l-0 0M289.3 655.7l.5 .2M408.6 657.4l-.1 1.4M276.7 661.1l.6 .5M309.8 663.1l-0 0M443.5 659.9l0 .6M298.8 667.8l-1.2 .4M265 671.9l-.4 0M281.9 670.7l-.1 1.4M289.3 670.6l-.1 0M313.1 672.5l-1.6 .2M323.5 670.7l.1 .1M398.4 670.3l.1 .3M439.1 671.4l0 .1M323.6 676.4l.7 .5M435.8 677.9l-.4 .1M441.3 676.5l-.1 .6M300.7 680.4l0 .1M387.3 681.6l1 .2" stroke="#68483e" stroke-width="4.0"/>
<path d="M475.6 464.6l-.9 .5M356.5 471l-.3 .1M473.1 472l-.7 .6M481.1 471.2l-1.4 .8M457.9 474.8l-.1 .8M472.6 475.1l-.4 .2M327.3 485.4l-.4 .2M354.5 486.8l.3 .2M435.9 485.8l0 0M446.1 487.1l.1 .1M265.6 491l.1 0M280.9 490.5l-.6 .7M382.5 490.9l-.1 .1M388.9 491.6l-1.1 .9M439.5 490l-.2 .5M418.2 494.9l.8 0M442.6 495.9l-0 0M446.3 496l0 .3M304.9 499.3l.2 .6M317.2 501.2l.4 .8M326.5 500.9l.8 0M463.8 499.6l-.5 1.1M469.2 501.6l.2 .7M295.2 505.7l-.1 .1M446.5 506.3l-.9 .6M454 506.1l-.1 .2M465.9 504.3l-.6 .4M367.9 510.2l.1 1.4M386.4 510.8l.8 1M422.1 512.3l1.1 .1M434.5 511.7l-.3 .5M332.9 515.6l-1.1 .7M336 515.5l.1 .3M362.5 516.7l-.7 .1M388.8 515.2l-.1 .6M282.2 520.1l.1 .1M335.2 520.5l-.1 .4M426.2 525.8l-.5 1.2M475 527.5l-.4 .1M419.7 530.7l.7 .2M274.7 537.4l.4 .4M284.7 535.3l-.4 .3M401.5 536.5l.8 .6M435 535.8l-.5 .6M410 540.5l1 .6M438.5 541.7l-.8 .5M472 541.7l-.1 0M332.2 544.6l-.9 .1M389.9 546.9l-.1 .4M426.1 546.3l-.2 .5M442 544.4l.5 .5M349.9 550.3l.4 .3M392.4 550.2l.2 .6M342 556.2l.1 1.2M394.1 554.9l-.3 .3M427 559.6l-.2 .5M318.6 566l.5 1.3M341.8 565.7l-.1 .1M350 567.5l-1.4 .2M465.4 565.1l-0 0M472.2 565.9l.1 0M274 570.9l1.3 .8M287.5 571.3l-.1 .2M293.9 569.7l-.6 .7M286.6 580.4l-.6 .2M299.4 579.8l-.2 .1M381.3 581.3l1.2 .8M296.4 587.5l.2 0M309.9 585.7l-.8 .1M324.2 586.1l-0 0M336.3 585l1.2 .7M349.1 586.1l.3 .2M476.3 585.1l-.5 .1M273.6 595.7l-.7 .9M352.8 601.6l-.5 .9M356 601.9l.3 1.1M399.2 600.6l1 1M354.8 604.8l-1 .7M429.1 605.3l.3 .9M351 610.3l-.9 .3M385.4 611l-.6 0M281.7 616.4l-1.4 .1M296.6 614.5l.7 1M314.2 616l.3 1.2M383.6 617.4l.1 .4M298.6 622.3l-.2 .3M357.3 621.3l-.2 .6M404.3 620.6l-1.1 .1M480 621.3l.5 1M303 626l-1.2 0M319.4 625.5l0 .1M426 630.9l0 0M432.9 630.8l1.5 .3M303.5 636.6l-.2 .6M326.2 637.3l-.7 .6M384.9 634.7l-.8 .7M388.3 636.6l-.4 .3M440.4 636.9l.3 .4M422.2 640.7l.7 .7M426.3 641.3l1.3 .3M454.8 642.5l.4 .2M313.6 645.1l.2 .4M337.8 644.9l.1 1.1M383.9 645.9l.8 .3M395.5 646l-.2 .7M440.2 648l.1 .1M451.8 647.4l.7 .2M459.4 646.6l-0 .1M322.5 652.3l-.1 1.6M370.7 650.2l.1 .1M376.7 651.3l-.2 1.2M380.2 652.6l.3 .7M329.6 655l.7 .5M366 656.2l-0 .1M282.4 662.4l1.4 .6M321.6 660.5l.3 .7M385.7 665l-1.5 .6M380.6 671.7l-1 1.2M302.4 675.8l-.7 1M342.2 675l.5 .8M383.5 678l.1 .2M283.2 680.3l.3 .6M317.9 680.1l.3 .8M328.6 682.1l.3 .7M409.5 681.5l-.4 .8M442.7 681.9l.9 .7M452 681l-.5 .4M455.4 682.1l.4 0M475.1 682.5l-.3 0" stroke="#80603a" stroke-width="4.0"/>
<path d="M337.1 466.7l.3 1M446.3 464.7l-.4 .2M299.5 471.7l.2 .5M450.4 470.1l-.3 .9M284.4 475.7l1 1.2M307.4 475.5l-.6 0M389.8 476.9l-.5 .5M441.5 475.8l.2 1.5M465.2 474.8l-1 .3M392.5 479.2l-.6 .2M437.6 482.1l-.2 .4M446.1 479.7l-0 0M297.3 485.7l.2 .1M303.8 494.6l-.3 0M390.6 496.4l.3 1.3M413.4 496l1.2 .2M435.9 494.3l-.5 .4M300.4 502.1l.5 .6M375 499.9l1.4 .4M409.1 501.8l.1 .1M472.3 507.3l-.4 .3M317.3 511.7l.4 1.5M356.7 512.4l.3 .2M393.9 511.7l.4 1.1M397.2 511.9l-.6 .2M284.9 517l-.5 .5M302.3 515.3l.3 1.2M365.9 517.3l-.1 .1M431 516.3l-.7 .7M446.9 517l.7 .1M471.8 515.4l.8 .6M362.3 521.7l.7 .4M369.3 519.6l.6 .2M359.9 524.3l.6 .4M407.3 525.1l.3 .2M466.3 526.5l-.5 1.4M469.6 527.2l-1 .1M271.1 529.7l-1 .6M329.4 530.4l0 .2M355.8 531.6l1 1.1M326 536.9l.2 .4M342.2 535.2l1.3 .7M390.5 535.1l.4 1.1M441.2 536.1l.1 .2M358.6 539.5l-.3 .5M284 544.7l.6 .7M280.2 551.7l.7 1.4M387.7 552.1l.8 1M454.9 551.1l0 1.1M469 550.5l.4 .8M272.8 555.2l-1 .6M291.9 556.8l.4 .1M302.8 555.5l-.1 .3M417.1 554.9l-.1 1.1M422.2 555.5l.9 .2M385.9 560.5l-1 1.2M339.1 567.1l-.5 1.2M356.3 567.4l-0 .1M475.9 567.3l-1.2 .6M472.9 571.8l-.6 1.1M395.7 575l-.4 .7M283.4 582.7l.2 .2M317.5 580.7l.2 0M384.6 579.7l.8 .7M391.9 582.1l-.1 .5M403.1 582.7l-.1 0M410.7 582.4l-.5 .4M321.1 590.9l.7 .5M415.5 590.4l-.6 .5M451 592.5l-0 0M478.7 591.1l-.5 .6M332.2 595.2l-.1 0M269.7 600.8l.4 .1M328.2 601.8l.2 0M339.8 601.9l.6 .6M438.5 601.6l-.7 1.1M336 606l.3 .1M384.1 605.4l1.2 .3M388.4 605.8l.7 .9M413.9 606.1l-1.3 .3M293.6 610.9l.4 .4M369.3 611.9l.1 .7M433.4 610.3l-1.3 .8M443.2 611.5l-.2 .1M266 616.6l.7 .2M331.8 617.5l1.2 .4M414.1 616.1l-.4 .5M265.4 620.4l.3 .2M350 621.6l.7 .1M434.2 621.1l-.2 .5M468.3 621.7l-.6 .3M297.5 625.3l.3 .9M310.1 627.7l-.3 .1M343 627.4l.4 .8M373.1 626.2l1.4 .7M428.6 624.5l-.1 1.2M361.9 630.4l-.2 .6M307.6 637l.3 1.5M321 635.3l-.1 .1M382.1 642.8l.6 .5M387.6 642.1l0 .3M410.6 641.6l-1.6 0M450.1 639.8l.5 .6M262.5 645.7l-0 0M272.3 646.2l-.6 1.3M308 645.9l-.6 .2M320.9 647.4l.2 .2M371.4 647.8l.4 .5M294.3 651l-1.1 .1M342.8 655.5l.9 1.1M354.5 655.4l-1.1 0M389.2 656.4l-.1 .1M264.2 661.5l-.1 .2M379.4 662.4l-.2 1M411 661.8l-0 .2M320 665.8l.9 1M446.6 667.5l.1 .5M457.7 667.4l.8 .2M471 666.9l-.3 .7M402.9 670.4l.5 .8M423 672.3l-.2 1.1M480.5 670.8l-.3 0M274.4 678l.2 0M279.6 677l.2 1.5M337.3 675.8l1.2 .6M477.1 675l.8 .8M350 683l.8 .3M428.4 680.1l-1.4 .5" stroke="#644450" stroke-width="4.0"/>
<path d="M384.7 464.8l.1 .6M406.7 464.8l-.5 0M454.2 466.6l-.4 .9M283.8 471.3l-.5 .7M339.5 471.3l.5 1.1M425.7 470l-.2 .4M266 474.6l1.1 .6M353.6 475.7l.5 .1M416.5 475.9l.6 .2M430.1 475.1l-.8 .4M454.8 475.4l-.1 .1M473 481.9l-.3 .4M285.4 485.1l-.3 .1M311.9 490.1l-0 0M364.6 489l-.2 1.1M298.4 494.9l-.6 .5M471.8 495.4l0 0M415.1 499.1l-1 1.2M269.4 506.4l-0 0M281.2 506l-.8 .1M301.8 504.5l1.2 0M276.6 508.9l-.7 1.2M312.2 512.2l-.3 .4M333.8 510.7l1 .7M349.3 515.5l.5 .1M379.3 514.8l.1 .8M393.7 520l-.3 1.1M445.1 522.3l-.6 .1M313.7 525l-.1 .3M318.5 524.8l.1 .9M331.5 524.3l.1 1.1M355.1 525.2l-1.1 .5M365.8 526.2l.2 .1M399.4 525.9l-.1 .7M300.2 530.9l-0 .7M281.1 536.3l-.6 0M331.5 534.8l1.2 .7M311.6 540.4l.7 1.2M347.3 540l.3 .1M380.5 541.4l.3 1.2M451 539.5l-1 .8M457.5 541.5l-.6 .5M267.7 546.6l-.5 1M272.4 545.6l.7 1.1M402.4 545.6l-0 .1M263.7 549.6l.2 .8M285.7 557.2l0 .2M348.7 556.4l0 0M447.1 556.4l-.6 .3M329.5 559.8l-1.6 .3M336.6 562.4l-1 .3M379.3 561.9l.3 .3M399.3 562.4l-.1 .1M445.8 561.7l.1 0M269.4 564.8l-.5 .3M275.1 567l-.6 1.4M308.5 567.3l-0 0M408.3 564.4l.7 1.4M422.7 566.4l-.1 .4M281.7 571.8l.1 .4M376 572.3l.1 0M466.5 571.4l-.3 .2M478 571.6l-.2 .3M283.4 575l.7 1.3M356.1 575.2l-.1 .2M440.4 575.3l.2 .3M476.1 576.2l.1 0M456.7 579.8l-.9 1.1M303.9 586l-.8 1.2M355.5 585.6l0 0M394.2 587.3l-.2 .5M451.9 585.8l-.2 0M345.7 590l.1 .2M348.5 594.6l.8 .6M401.4 595.3l-.6 .7M406 594.6l0 .9M393.4 600.7l-.1 .1M473.6 601.6l-.1 .1M267.3 604.7l1.1 .6M319.1 604.5l-.3 1M377.1 606.1l-.6 .2M407.3 606.9l1.4 .4M425.5 610.6l-0 .4M474.3 609.8l.6 .6M284.7 617.2l.6 .7M430.8 615.5l-0 .7M339.3 622.1l.9 .4M370.6 622l-.3 1.3M353.9 626l.4 1.2M464.1 627.3l-.4 .1M477.7 626.3l-0 .7M445.9 629.3l-.4 1.4M333 636l.1 .3M465.5 635.4l.3 .5M470.8 636.1l-0 0M272 642.5l.4 1.2M352.4 639.9l-.9 .9M414.5 641.8l.9 .6M467.9 641l-.3 .2M431.6 646.5l-.2 .1M262.6 652.4l1.4 .6M299.2 650.3l.9 0M392.8 650.9l-.2 1.5M432.2 649.9l-.5 1M437.8 652l.2 1.2M263.3 656.4l.2 1.1M425 657.2l.1 1M298.1 662.2l-0 1.1M375 662.1l-1 1M422.6 659.9l-1.2 .6M473.3 660.9l0 .4M271.9 672.3l-.9 .2M391.6 672l-.5 1.5M267.8 678l-.1 .2M364.5 676.1l1.3 .8M390.3 675.9l.1 .5M401.8 676.4l.3 .4M407.2 677.6l.8 .2M431.8 675.3l-0 .1M447.1 675.3l-1.1 1.2" stroke="#74503a" stroke-width="4.6"/>
<path d="M414.3 466.2l-.7 0M428.6 466l1.2 .5M381.9 470.8l.3 .5M419.8 471.6l.4 .1M466.7 470.2l-1.2 .3M297.9 475.4l-.1 .4M314.3 476l.3 .6M319.2 475l-.2 1.1M381.9 476.8l1.1 .7M406.4 477.2l-.8 0M436.3 475.8l1.1 .8M263.8 480.1l-.4 0M352.5 481.6l-0 .2M362.8 481l1.3 .1M410.1 481.5l-.5 .6M415.6 480.4l-.6 .1M421.8 479.3l-.1 0M342 486.2l.1 .2M277.1 491l-.9 .7M288.1 490.6l.7 .2M345 491.2l.4 .8M370.7 489.5l-.5 .2M392 490.5l.2 1.1M477.5 491.3l.8 .5M366 495l.2 .3M402.5 494.7l-0 .6M429 494.5l.4 0M312.4 500.2l.2 .4M397.5 500.7l.8 .6M403.5 500.5l-.9 0M432.3 502.1l.1 .1M479.3 500l-.2 .3M314.4 506l.7 .5M326.8 505l-.6 0M332.7 504.3l.3 .5M349.2 504.7l-.3 .1M299.5 511.3l.1 .2M330.3 512l-.2 1M364.1 510.6l-1.2 .2M405.5 511.8l-.4 .9M425.7 511.7l.4 .7M442.9 510.5l.3 1.5M275.9 520.5l.3 .3M455.7 520.6l-1 .5M282.8 527.1l1.3 .7M292.2 525.1l-0 0M418 526.7l-.7 .4M304.6 529.6l-.1 0M341.2 530.3l.2 .1M439.8 531.7l0 0M479 531.6l.5 .3M315.2 535.2l.2 .3M372.9 535.3l-.9 .3M406.5 535.7l-.3 .6M330.3 541.1l-1 .4M307.7 546.4l-.4 .3M338.1 546.5l-0 0M373.8 545.7l0 .9M464.4 545.1l-0 0M299.4 551.1l-.5 .6M400 551.5l-.4 .8M268.2 554.9l0 .1M326.4 555.9l1.3 .2M355.5 554.8l.6 .6M378.4 555.9l.9 1M383 555.2l-.7 .3M400.4 555.2l-.3 1.3M415.9 560.5l.7 1.3M373.8 565.4l-.5 .4M389.1 566.2l-1.1 .3M392.5 571l-0 .3M402.8 570.4l.4 1.6M461.9 571.6l.8 .3M429.1 577.5l-.6 .4M329.3 580.7l-.1 .4M428.5 581.4l-.8 1M462.5 581.6l-.4 .4M321 586.7l-1 .3M271.2 590.1l-.7 .2M339.5 590.3l-1.2 .1M290.8 596l-.3 .1M314.1 595.1l-.6 .6M355.7 596.7l-0 0M361 596.9l1.6 .1M395.8 597l.4 .2M458.1 595.3l.3 .5M283 601l-.5 .4M334.6 602.5l-.1 .8M409.4 601.2l-.8 1.2M361.7 607.3l0 .7M441.8 606.9l.2 .8M305.7 610.9l-0 .2M333.6 609.8l-.3 .8M363.1 611.7l.1 .4M461 610.5l.4 .4M393.3 615.7l.6 .6M477.9 617.5l-.2 .5M397.2 621.9l-.2 .4M410 620.4l.1 .9M439.1 620.9l.8 .7M451.1 622.2l.9 1.1M412.1 626.7l-.6 .3M375 632.1l.3 1M393.2 632.3l.5 .6M262.4 637.2l.4 .2M279.3 635.4l1.5 .6M343.5 635l.3 .1M359.6 635.2l-1.2 .4M367.2 637.3l-.8 .5M436.8 637l-.3 .2M264.4 641l-1.1 .6M322.7 641.8l.9 .2M343.9 645.7l.4 1.1M304.5 652.5l.7 .3M335.8 652.2l.1 .3M351.5 652.8l-.2 .5M426.8 650.7l.8 .6M468.7 651.7l.1 .1M315.3 655.9l.3 .6M378.1 655.5l.6 .6M429.5 657.9l-.4 .2M453.6 656.3l.4 .2M350.5 661.4l-.6 .9M405.3 661.8l.8 0M431.5 661.8l-.1 1.5M303.5 666.4l.6 0M326 665.7l-1.4 .3M330.5 666.9l-.1 .5M336.4 667.5l1.1 1M349.7 667l-.1 .2M396 665.8l-.3 1.1M424.2 667.5l-1.3 .5M443.3 665.5l-0 .2M476.1 666.6l.6 1.1M339.8 672.7l.6 .5M346.4 673.2l-0 0M431.8 672.2l.3 .1M359.7 676.5l.2 .5M424.7 676.9l1.2 .3M459.7 676.7l.8 .9M271.2 682.8l1.1 .9" stroke="#68483e" stroke-width="4.6"/>
<path d="M364.6 466.5l1.4 .6M306.1 469.5l.4 .1M359.5 475.7l1 .3M413.8 475.2l-1.1 .7M447 475.5l1.5 .5M276.3 481.6l.9 0M293.9 480l.1 .1M341.8 479.9l0 0M358.8 480.2l-0 .1M332.6 486.4l.8 .3M359.2 484.6l.3 .5M322.8 490.6l1.1 .3M397.5 491.4l0 .5M349.6 497.2l.1 .1M362.6 496.3l-.8 .9M270.4 500l-.7 .2M380.2 500.5l1 .2M286.2 506.6l-1.1 1.2M394.2 505.9l1.2 1M411.8 504l-1.1 1M459.3 504.9l1.2 1.1M380.8 509.8l-.7 1M440.3 510.7l-1.1 0M454.8 510.5l-0 .1M474.6 511.2l.4 1.2M423.3 515l.3 0M435.9 515l.1 .1M269.2 519.9l-.2 .2M405.3 521.7l.4 .3M309.4 524.9l.6 1.3M337.9 524.9l.1 .3M287.5 531.6l-.3 .9M393.4 531.5l-.9 .5M428.1 529.3l-0 .6M348.1 535.3l.2 .2M354.1 535l.1 0M411.8 534.8l-1.5 .3M275.4 541.6l.4 1M315.5 540.2l-.2 .2M385 541.3l.7 1.1M280.8 545.3l.4 .1M319.5 544.9l.7 1.4M347.5 546.9l-.1 .1M318.1 551.6l.7 .5M328.7 549l-.1 1.5M340 550.4l.6 .8M423.3 549.8l-.4 .2M389.2 555l-.7 1M413.8 555.6l.1 0M465.5 555.9l-.9 .2M476.9 556.5l-.3 1M270.5 560l-.3 .3M422.8 561.3l-1.5 .5M377.9 565.6l-.9 .8M401.3 566.4l.2 0M428.5 565.5l0 .3M330.5 575.7l-.6 .3M379.4 576.1l.2 1.6M445.7 575.1l1.1 0M465 576.2l-1.1 1M471.9 575.7l-.3 0M363.8 580.4l-1.2 .7M438.3 582.2l1.3 .9M285 587.7l1.4 0M331.5 586.2l.4 .3M404.9 587.7l.7 .3M298.2 589.9l-.2 .5M313 591.2l-.5 .7M352.1 591.5l-.5 1.1M399.3 589.6l-0 1.5M434.1 590.6l.9 .3M475.3 591.5l-0 .8M307.1 595.1l-0 0M436 596.1l0 0M440 597l1.5 .3M455.8 602.4l-.4 .1M435.4 607.3l-1.2 .3M263 610.8l.2 1.4M280.8 611.6l.7 .8M397 612.3l.9 1.2M451.1 610.3l.1 1.1M303.1 615.5l-0 .2M307.3 616.3l.1 .8M344.6 617.5l-.5 .4M347.7 617l-.1 .1M424.5 616.6l-.1 .1M280.9 627.6l-.1 .3M437.2 627.3l-.2 0M344.6 631.8l.1 1.5M469 632.5l.9 .3M273.9 637.3l-.3 .1M290.6 635.8l-.3 .6M327.8 640.5l-.7 1M335 642.7l-0 0M370.4 640.5l-.6 .5M375.6 641.1l0 .7M268 646.6l-.4 .4M278.6 645.2l.8 .5M283.7 647.1l.2 0M332.9 647.9l-0 .1M281.7 651.1l1.2 .2M333 661.3l1.5 .5M357.6 660.3l1.1 .1M362.3 666.8l-.3 .5M411.9 664.9l.6 1.3M429 666.9l.5 1.2M454.2 666l1.2 .7M317.1 672.7l.5 .5M369.8 670.7l.2 .2M461.4 670.6l.2 .2M465.5 676.3l1.4 .3M277.6 682.2l-1 .5M381.6 680.7l-.4 .9M391.9 680.6l-1.1 1" stroke="#80603a" stroke-width="4.6"/>
<path d="M269.2 466.3l-.4 .4M278.2 466.1l-0 .4M325.4 464l1.3 .7M388.8 466.2l-1 .5M402.4 466.2l0 .1M423.3 464.3l-.6 .1M264 470.6l-.6 .7M386.2 470.4l-.7 .7M392.1 471.9l-.9 .6M309.9 479.1l-.8 1.4M346.7 479.4l.1 1.5M365.5 484.6l0 0M400.8 484.4l-.6 .2M428.7 484.5l.1 .1M452.5 484.4l-.2 .3M459.6 486.7l1.5 .6M316.3 489.9l-.6 1.2M415.9 491.1l-.3 .1M260.6 496.9l-.6 .3M273.2 495.4l-0 .1M287.2 496.2l-.9 .2M367.3 500.1l.8 .4M358.7 505.8l1 .5M385.2 504.6l-.1 0M389.8 504.9l-.2 0M442.9 504.6l0 1M281.7 510.4l-.1 .8M293.4 512.3l.9 .2M304 511.8l1 .7M341.2 511.2l.5 .8M383.1 516.6l-0 0M418.7 516l.9 .7M453.2 514.5l.5 .7M459.2 516.2l-.7 .3M298.4 520l.7 1.3M381.1 520l1.2 .6M410.8 520.3l.8 .7M433.6 521.4l.2 .3M272.7 525.5l-.1 .3M296.4 525.5l-0 .1M388.2 524.7l.1 0M448.3 525.3l-.1 .1M353.2 532l-.5 .4M369.6 530.8l-0 0M380.2 531.1l-0 .1M416.8 535.4l1.5 .4M466.1 536.4l1 .4M480.5 540.6l.1 0M300.8 544.4l.2 1.4M446.9 544.9l.1 .5M475.1 545.7l.2 .2M304.6 551.8l-.1 1.5M334.3 552.3l.1 0M261.5 556.1l-.1 .1M405.5 556.2l.1 .2M300 562.2l-.2 .4M350.7 560.2l.1 .1M368.5 562l-1.2 .1M403.2 561.9l-1.2 .3M432 560.7l.4 .2M456.7 561.4l0 .2M462.5 561.3l0 .8M260.9 566.6l-.1 .4M279.9 566.5l-0 .1M314.4 565.4l1.1 .7M331.9 566.5l-.1 .3M432.8 572l.1 .3M278.9 575.2l1.2 .4M319.1 575.1l-.6 1.1M360.7 574.9l-.9 .9M452.5 575.7l.4 .5M460.6 576.9l-.4 0M294.5 581.4l-.7 .1M324 582.6l-.5 .1M370.1 580.7l.2 1.1M415.7 580.9l-.4 .4M422.5 580.3l.9 .2M268.3 587.1l-.9 .6M288.6 589.9l-1 1.2M329.9 592.1l.1 .1M333.6 590.5l-0 .2M405.2 590.1l.4 .1M279.7 595.4l0 0M297.6 596l-.6 1.3M343 596.5l-.6 .3M413 595.7l0 0M311.9 599.8l-.2 .7M426.1 601.2l.1 .1M468.3 601.7l.6 .5M394 606.8l.6 1.3M402.3 605.1l1.1 .4M464.4 606l.3 .4M475.7 606.4l1.2 0M345.8 610.7l.9 .9M457.1 610.9l-.1 .1M479 612.4l-1 .6M320.3 616.4l.4 .9M358.7 617.6l1.6 .1M458.1 615.1l.5 .7M309.8 621.2l0 1M333 632.2l-.4 .1M438.2 630.6l.4 .4M347.5 635.9l-.1 0M379.5 637.8l-.5 .4M396.5 637.1l-0 .7M417.6 636l-.1 .2M297.9 645l-.1 .4M350 647.4l-.4 .2M416.6 645l.6 1.3M288.7 651.4l1.1 .8M318.6 650l-.3 1M403.9 651.6l0 .2M414 651.5l.5 .6M280.5 656.3l-1.2 .6M413.2 656l0 .1M435.5 656.6l.3 .7M399.6 661.4l-0 1.4M364 672.3l0 1M446.3 672.6l-.2 .4M449.2 670.7l-.2 0M457.1 672.6l-.1 .6M290.3 677.4l.8 .1M294.9 683.1l0 0M334.1 681.5l-0 .3M398.6 680.5l-0 0" stroke="#644450" stroke-width="4.6"/>
<path d="M261.3 466.8h0M284.4 464.9h0M302.9 466.6h0M308.7 465.4h0M315.2 464.7h0M320.3 466.8h0M326.1 463.9h0M331 464.1h0M361.8 465.4h0M371.8 466.2h0M376 464.6h0M422.5 463.9h0M445.8 464.2h0M453.5 467.5h0M458.2 464.8h0M465.3 464.5h0M471.7 464.1h0M475.3 464.7h0M286.8 469.8h0M305.9 469.6h0M310.8 470.7h0M330.4 471.4h0M333.9 471.1h0M340.2 471.9h0M356.2 470.6h0M371.4 472.2h0M373.2 469.3h0M385.5 471h0M420.4 471.9h0M426 470.5h0M434.9 471.6h0M443.6 471.9h0M450.4 470.5h0M472.6 472.4h0M480.7 471.8h0M267 474.8h0M278.7 476.4h0M289.5 475.9h0M326.6 475.7h0M344.8 475.3h0M350.6 476.8h0M353.7 475.8h0M372.5 474.6h0M395.3 477.6h0M400.1 474.2h0M406.4 477.3h0M416.6 475.6h0M425.5 475.3h0M437.2 475.7h0M441.9 476.4h0M457.6 475.1h0M465.3 475.3h0M472 475.1h0M476.4 475.3h0M263.1 480.3h0M276.7 482.2h0M293.7 480.5h0M335 481.5h0M342.1 480h0M347 480.5h0M358.7 479.9h0M370.2 479.2h0M373.7 482.3h0M392.8 479.7h0M404.4 480.8h0M421.4 479.1h0M425.8 480h0M433.4 481.8h0M437.5 481.7h0M446 479.9h0M472.8 482.3h0M481.1 480.1h0M261.3 484.3h0M278.1 486.4h0M313.2 486.5h0M319.5 486.9h0M332.7 486.5h0M337.9 486.9h0M342.2 486h0M354.9 487.4h0M365.9 485.1h0M389.4 485.9h0M423.9 484.5h0M441.4 485.8h0M451.9 485h0M471.6 487.2h0M265.8 490.6h0M298.9 490.1h0M303.8 490.4h0M359.1 489.4h0M374.3 491.1h0M382.9 491h0M388.4 491.5h0M420.7 489.6h0M451.6 491.2h0M461.4 490.2h0M259.9 497.3h0M267 494.3h0M286.2 495.9h0M304.1 494.7h0M308.8 496.2h0M327.5 497.3h0M332.9 494.9h0M342 495.4h0M354.8 496.3h0M365.5 495h0M377.9 495.7h0M385.7 497.2h0M390.9 496.7h0M402.8 495h0M405.7 496.3h0M423.6 495h0M442.4 495.6h0M452.4 494.7h0M463.2 496h0M471.5 496h0M264.1 501.3h0M270.3 500.4h0M292.8 501.2h0M304.5 499.7h0M312.6 500.6h0M317.4 501.1h0M327.5 501h0M335.1 500.4h0M356.8 501.7h0M362.8 501.6h0M367.6 500.5h0M375.6 500h0M408.7 502.2h0M415 500h0M423 499.9h0M432.1 502.6h0M449.5 501.4h0M478.8 500.6h0M268.8 506.9h0M280.4 505.5h0M285.5 507.6h0M290.5 506.3h0M336.1 507.8h0M348.9 505.1h0M371.9 506.9h0M389.1 504.9h0M411 504.4h0M416.4 505.8h0M445.6 506.6h0M453.9 506.6h0M459.4 505.5h0M465.4 503.9h0M476.7 506.8h0M266 510.2h0M294.3 512.8h0M312 512.4h0M330.7 512h0M334.3 510.7h0M350.3 510h0M368 511.2h0M375.1 512.3h0M386.3 511.9h0M422.8 512.3h0M433.8 512.4h0M443.3 511.3h0M450.1 509.7h0M454.4 510.2h0M474.7 511.7h0M278.8 517.4h0M302.3 516h0M307.8 517.3h0M354 516.6h0M362.2 516.9h0M365.9 517.4h0M370.4 515.9h0M389.1 515.4h0M395 516.3h0M418.6 516.5h0M430.9 516.4h0M447 517.4h0M458.7 515.7h0M465.3 516.3h0M472.8 515.1h0M268.5 520.2h0M286.4 520.4h0M292.5 521.9h0M316.9 519.7h0M335.7 520.2h0M352.4 520h0M362.9 521.8h0M369.4 519.1h0M405.4 521.4h0M417.2 521.4h0M422.4 522.7h0M433.9 521.2h0M436.8 521.3h0M261.5 526.5h0M291.7 524.7h0M309.7 525.8h0M313.7 525.3h0M318.7 525.4h0M338.6 525.3h0M377.7 527.2h0M381.9 525.3h0M407.4 525.8h0M417.6 526.9h0M442.6 526h0M452.7 527.8h0M469.2 527h0M277.5 529.7h0M287.1 531.9h0M321.3 531.9h0M334 531.7h0M345.7 530.2h0M364.5 530.9h0M369.1 531.2h0M380.3 531.1h0M387.5 529.6h0M392.9 531.9h0M411.1 532.1h0M413.7 530.8h0M449.9 532.2h0M478.9 532.1h0M261.2 536.7h0M275.3 537.2h0M292.7 535.9h0M307.7 536.2h0M331.7 535.7h0M360 535.3h0M385.8 537.1h0M391 536.2h0M396.9 535.3h0M402.3 537.1h0M417.2 535.9h0M430.5 536.2h0M434.6 536.6h0M448.9 535.8h0M452.3 535.2h0M458.2 537.7h0M287.1 542h0M311.9 541.6h0M323.2 541.4h0M330 541.6h0M335.8 541.5h0M338.8 541.4h0M375.3 541.1h0M380.9 542.1h0M385.5 542.3h0M410.1 541.2h0M416.2 541.5h0M433.7 541.3h0M450.2 540.2h0M466 542h0M472 542h0M267.4 547.4h0M284 544.7h0M301.3 545.2h0M320.1 545.2h0M338.1 547h0M355.7 546.6h0M367.6 546h0M381.7 545.2h0M390.2 547h0M401.9 545.2h0M417.8 545.8h0M426.5 546.1h0M442 544.2h0M475.1 545.6h0M263.7 549.6h0M269.4 549.9h0M280.2 552.8h0M299.1 551.5h0M318.5 551.2h0M340.4 550.3h0M356.6 551.6h0M369.2 552h0M414.2 551.3h0M440.1 552h0M451.2 551h0M464.1 552h0M471.7 550h0M268.8 554.7h0M280.2 556h0M292.6 557h0M330.8 556h0M348.4 556.6h0M356.4 555.3h0M360.2 555.2h0M365.6 555h0M378.7 556.4h0M422.2 555.1h0M436.5 556.4h0M452.7 557.1h0M476.9 556.5h0M270.6 559.7h0M294.6 559.7h0M310.3 561.7h0M336.1 562.9h0M339.2 561h0M350.9 560.5h0M358 561.6h0M363.7 560.7h0M367.7 561.8h0M379 562.2h0M385.2 560.8h0M393.7 561.3h0M399.6 561.8h0M407.8 561.9h0M416.8 561.7h0M432.3 561h0M439.5 560.8h0M446 561.3h0M467.6 559.9h0M474.8 562h0M269.2 564.6h0M274.2 568.3h0M279.4 566.6h0M302.8 565h0M314.6 565.4h0M318.5 566.3h0M325.6 564.7h0M331.9 566.5h0M339.2 567.9h0M348.8 568.1h0M365.2 566.4h0M373.4 566h0M382.5 566.7h0M388.8 566.5h0M422.3 567.1h0M428.5 565.8h0M443.7 565h0M472.2 565.7h0M265.7 570.9h0M274.4 571.4h0M287.8 571.6h0M293.7 570.4h0M304.4 571.6h0M316.8 572.3h0M344.9 571.8h0M362.2 570.5h0M381.7 572.6h0M397.1 570.1h0M416.5 571.3h0M432.5 572.6h0M456.3 571.4h0M462 572.4h0M472.5 572.8h0M273.6 575.2h0M278.9 575.5h0M283.6 575.4h0M291.1 575.3h0M308 576.4h0M338.1 575.1h0M356.3 575.7h0M360.4 575.8h0M379.7 576.5h0M382.6 577.2h0M400.5 575.5h0M425.2 576h0M428.7 577.6h0M452.3 576.2h0M459.9 576.7h0M471.9 575.5h0M475.7 576.1h0M265 581.9h0M285.9 580.2h0M333.9 582.5h0M363.6 580.7h0M375.4 581.9h0M381.4 581.4h0M384.6 579.6h0M398.5 582.9h0M403.5 582.3h0M415.8 581.6h0M422.6 579.9h0M432 580.6h0M462.1 581.6h0M466.6 582.3h0M479.2 582.1h0M262.9 587.3h0M279.3 586.1h0M286 587.2h0M292.5 587.5h0M303.6 586.3h0M315.6 586.1h0M320.5 587.2h0M323.7 585.7h0M336.6 585.1h0M367.7 587h0M370.9 586.1h0M384.8 586h0M405.5 587.7h0M412.8 586.4h0M418.3 587.1h0M425.5 586.8h0M436.3 584.5h0M439.6 585.9h0M448.7 584.8h0M451.3 585.7h0M464.9 587.4h0M476.3 585h0M264.8 592.3h0M282.5 591.9h0M304.2 590h0M312.5 591.5h0M338.5 590.7h0M345.5 590.4h0M351.6 592.1h0M364.5 591.4h0M368.6 589.4h0M374.8 591.1h0M386.2 591.5h0M405.7 590.1h0M422.6 592.1h0M427.6 592.9h0M443.4 593.2h0M475.6 592h0M272.9 596.2h0M306.9 594.7h0M319 595.2h0M348.8 595.2h0M356 596.3h0M384.5 596.9h0M388.7 598.1h0M395.7 597.1h0M401.3 596.2h0M428.9 595.7h0M435.9 595.7h0M440.7 597.5h0M446.8 597.2h0M287 600.9h0M294.6 602.7h0M311.7 599.9h0M322.7 601.5h0M345.2 601.7h0M352.8 601.6h0M355.8 601.9h0M373.8 602.3h0M380.6 600.9h0M393.2 600.1h0M426.1 601.8h0M445.8 599.9h0M450.4 600.5h0M462.7 601.2h0M468.7 601.7h0M262.6 607.7h0M273.2 606.9h0M278.6 607.2h0M325.6 605.2h0M331.1 607.4h0M336.2 606h0M354.5 605.1h0M365.4 607.1h0M384.2 606h0M403.1 605.4h0M413 606.7h0M419.2 606.4h0M459.6 604.7h0M464.2 606.4h0M472.1 605.7h0M475.7 606h0M262.7 611h0M270.6 612.9h0M293.7 611.5h0M317.5 611.9h0M332.9 610.5h0M346.1 611.6h0M350.1 610.9h0M392.4 610.3h0M397.8 613h0M416.6 611.2h0M425.2 610.8h0M432.9 610.2h0M451.1 610.3h0M457.6 610.7h0M461.1 610.4h0M479.1 612.9h0M261.4 617.2h0M271.9 617.2h0M280.5 616h0M307.7 616.7h0M325.9 616.5h0M332.7 617.5h0M336.9 615.8h0M358.9 617.5h0M378.9 616.1h0M383.1 617.9h0M393.8 615.8h0M401.5 616.6h0M405.1 616.3h0M418.6 615.9h0M430.2 615.7h0M435.8 617.1h0M455 616.9h0M478 618.1h0M270.7 622.6h0M310 622.1h0M315 621.8h0M322.7 622.7h0M333.2 620.2h0M376.3 620.3h0M380.7 623.2h0M386.3 620.3h0M393.4 621.3h0M396.6 621.8h0M403.2 620.2h0M410 620.6h0M417 621.1h0M427.5 621.8h0M433.8 621.6h0M439.6 620.9h0M451.9 622.3h0M456.1 622.5h0M267.3 628.3h0M272.1 625.4h0M281.1 627.2h0M297.7 625.4h0M302.7 626.5h0M312.7 626.9h0M320 624.9h0M333.6 625.4h0M336.1 628h0M343.4 627.3h0M354.4 626.6h0M374.3 626.7h0M377.1 626.9h0M394.4 626.3h0M401.5 626.2h0M406 625.7h0M412 627.3h0M418.9 625.6h0M424.7 626h0M428.8 625.5h0M436.6 627.1h0M442.8 627h0M453 628.5h0M463.7 627.2h0M469.9 627.7h0M478.1 626.8h0M283 629.9h0M292.1 631h0M306.2 632.6h0M332.3 632.6h0M344.7 632.8h0M355.3 631.2h0M382.6 630.3h0M433.4 631.5h0M452.4 632h0M456.3 632.2h0M469.1 632.1h0M473 631.5h0M481 630.6h0M266.9 637.7h0M284.3 637.4h0M321.3 635h0M326.2 637.5h0M333.3 635.7h0M347.3 635.8h0M370.9 637.6h0M379.7 637.9h0M388.1 636.2h0M396.9 637.9h0M408.3 635.8h0M423.9 636.4h0M437.2 636.9h0M263.9 641.2h0M272.7 643.6h0M276.1 641.2h0M303.7 641.8h0M315.1 641h0M340.3 641h0M363.5 642.4h0M397.3 640.9h0M402.6 643.1h0M409.2 641.4h0M439.9 642.1h0M454.6 642.4h0M473.9 640.4h0M271.8 646.5h0M279.2 645.3h0M283.3 647.3h0M303.4 647.5h0M313.4 645.7h0M326.6 646.5h0M332.3 648.1h0M350.1 647.8h0M361.5 647.1h0M371.3 647.9h0M417.3 645.2h0M424.2 645.2h0M431 646.8h0M436.9 647.6h0M440.6 648.4h0M452.1 647.1h0M478.1 645.6h0M274.7 652.9h0M288.9 652.3h0M309.8 652h0M318.8 650.9h0M327.7 651.2h0M335.7 652.7h0M347.1 652.8h0M352 653.6h0M357.1 652.6h0M362.5 651.4h0M392.1 651.5h0M398.5 649.8h0M413.7 651.3h0M427.7 651.6h0M431.4 650.9h0M437.9 653.2h0M444.1 652h0M457.7 652.8h0M462.1 652.8h0M475.3 651.4h0M280 657.1h0M284.3 658.2h0M303.2 658.1h0M309.4 658.1h0M315.1 656.1h0M326.7 656.5h0M329.8 655h0M377.9 656h0M412.9 656.5h0M417.9 657.1h0M429.7 657.8h0M440.3 657.7h0M447.9 655.7h0M454 655.9h0M471.4 657.5h0M264.3 661.6h0M269.7 662.5h0M277.5 661.8h0M286.8 661.7h0M304.1 661.9h0M309.3 663.4h0M333.9 661.8h0M363.1 663.1h0M379.3 663.3h0M399.7 662.4h0M405.8 662.3h0M413.7 660.7h0M422.3 660.2h0M431.8 662.6h0M456.1 662.5h0M480.6 661h0M266.6 666.5h0M284.5 668.5h0M303.8 666.7h0M325.4 665.9h0M330.2 667.3h0M344.1 666.4h0M349.5 667.4h0M412 665.3h0M416.7 665.6h0M429.7 667.1h0M443.7 665.4h0M447.2 668.2h0M454.5 666.7h0M464.1 667.7h0M470.4 667.3h0M476.6 667.8h0M271.6 672.3h0M289.7 670.8h0M293.3 672h0M300.5 671.6h0M317 673.1h0M340.4 673.4h0M364.5 672.2h0M376.4 670.6h0M391.7 672.8h0M403.4 670.8h0M422.9 673.2h0M456.7 672.4h0M466.5 671.4h0M274.3 677.5h0M290.1 677.1h0M302.6 676.6h0M309.3 676.4h0M324.4 676.2h0M337.4 675.8h0M342.4 674.8h0M349.1 678.7h0M360.3 676.6h0M364.9 676.5h0M379.9 677h0M408.1 677.4h0M425.1 677h0M432.4 675.8h0M435.6 678h0M451.6 676.7h0M477.6 675.6h0M262.7 683.2h0M277.3 681.8h0M294.4 683h0M301.1 680.4h0M305.9 682.2h0M317.6 680.7h0M321.2 680.4h0M328.4 682h0M334.5 681.1h0M341.6 681.5h0M346.6 683.5h0M358 681.9h0M368.1 683h0M375.5 682.2h0M381.3 681.3h0M398.1 680.7h0M421 681.8h0M427.9 680.6h0M434.3 683.1h0M443.5 682.6h0M452 681.3h0M460.5 682h0" stroke="#a89048" stroke-width="1.3" opacity="0.7"/>
<path d="M362 461l-1.8 .2M413.1 457.7l-.1 .4M414.8 477.4l-0 0M304.6 487.1l.5 .7M397.9 489.7l1.3 1.4M302 498.6l0 0M458.4 501.8l-1.1 .5M486.8 496.6l.2 .4M336.3 513.7l.1 1.9M261.7 536.1l-1 1M285 530.5l-.2 .3M385.4 536.8l1.4 1.4M419.8 535l1.2 .6M386.1 558.1l-.3 1.9M434.6 573.1l.5 .4M365.4 586l1.1 .1M261.4 595.6l.3 .2M430.1 592l1.4 .4M261.1 608.7l-0 .1M270.5 607.3l-.9 1.6M350.3 604.4l.3 0M366.1 608.6l-.1 .2M396.1 605.8l-.4 .8M414.7 611.6l-1.4 .2M400.7 618.4l-.1 .1M419.6 618.2l.8 .4M484.1 633.3l-.8 .9M295.9 639.3l.4 1.1M346.1 655.7l0 1.3M459 655.6l-0 .7M471 657.4l1.6 .3M482 660.6l-.2 .1M273.6 667.3l.8 .1M296.6 671.4l.7 1.3M447.9 664.9l-.9 .4M271.2 676.1l-.5 .4M339.7 682.2l.8 .6" stroke="#4a30b0" stroke-width="1.8"/>
<path d="M261.1 466.3l-.1 .1M312.8 457.5l.5 .7M328.4 458.9l.4 .4M451.6 465.2l-.8 1.2M486.4 459.3l-.7 .2M390.6 476.5l-.5 .7M479 469.7l-.4 .3M342.9 489.4l.8 .5M454.5 489.2l1.7 .3M387.8 495.4l0 0M419.5 497.5l-.2 1.2M434.1 498.8l0 0M274.1 520l-.2 1.6M287.9 525l.2 0M376.5 521.1l-1.5 .2M390 525.4l-.1 1.1M479.5 535.9l-.2 .3M393 548.4l-.7 1.8M434.2 546.5l.5 .1M263.3 560.8l-.2 .8M310.5 558.6l1.8 .7M356.7 560.7l-.9 1M462.4 557.1l.5 1M260.4 579.1l.2 .6M464.7 585l1.3 .8M293.5 599l.4 .1M347.6 592.9l-.2 1.3M396.3 591.7l.1 .1M490.5 591.5l.1 .2M341 611.6l.2 0M318.4 619.5l.7 .2M331.4 615.3l-.7 .1M451.1 623.6l.3 1.8M287.5 629l1.5 1M387.9 629.7l1.5 0M463.4 628.8l1.9 .1M322.9 647.2l-.7 1.2M339.3 644.1l-.3 .2M437.6 659l-1.5 .1M319.3 664.9l-.6 0M419.2 669.4l-.7 .1M430.7 678.3l-.6 1.5" stroke="#6448c0" stroke-width="1.8"/>
<path d="M266.7 463.9l-.1 .3M374.2 459.4l1.6 .9M380.9 458.9l-.1 .9M324.8 471.2l-0 0M267.8 483.4l-1.2 .6M471.8 502.3l-1.9 .2M274.8 532.5l-.4 .8M371.3 533.6l-.1 1.3M395.6 532.3l-.3 .2M454.1 535.5l-0 0M374.1 549.2l1.4 .7M480.9 559.4l-1.8 .9M343.8 570.5l-.6 1.3M361.8 575.2l-.5 1.3M459.6 569.2l1.5 .1M488.9 569.5l1.6 .6M417.2 585.3l.1 .6M456.2 578.2l.3 1.6M283.4 610.1l-.4 .8M386.3 610.3l1.7 .2M351.1 616.6l-.2 1.2M377.6 624.6l.4 .3M459.9 617.9l-.3 .7M429.6 635.7l-1.3 .3M449.4 648.6l.2 .7M276.7 652.2l-.8 .9M430.6 670.5l.3 .8M371.1 679.6l.4 .4" stroke="#4a30b0" stroke-width="2.5"/>
<path d="M472.8 465.9l.4 1.7M294.8 478.1l1.1 1.6M333.5 478.5l-1.3 1.5M466.5 473.4l-.6 .5M309.6 488.1l-1.7 1M461.8 490.4l1.1 1.2M282.8 502.2l.6 .3M295.4 497.9l-.5 .6M361.7 502.9l1.2 .8M441.9 501l1.4 .2M437 512.6l-0 .1M479.8 515.2l.1 .3M409.7 533.7l0 0M288.1 544.1l.6 1M315.8 547.4l1.1 .7M345.5 542.4l.2 .7M357.9 547.5l-.2 1.1M458 551.3l.8 .5M476.3 544.7l.3 .4M328.1 561.5l-.8 1.4M333.1 569.6l.5 .3M319.7 598.2l.7 .1M339.3 597.8l.7 .6M446.3 592.1l1.1 1.3M309.4 608.1l-.4 .5M304 619.4l.7 1.3M411.5 632l0 0M282.9 640.3l.2 .2M402.6 647.2l-.2 1.8M487.9 642.1l.3 .8M355.8 652.8l.3 .3M429.3 658.2l-.3 1.3M399.2 667.9l.1 .3M387.2 676l.4 .4M415.3 681.4l-0 0M478.5 675.7l-.1 .7" stroke="#6448c0" stroke-width="2.5"/>
<path d="M328.3 459h0M361.4 460.8h0M374.7 460.2h0M413.4 458.5h0M451.8 465.5h0M294.8 479h0M414.6 478h0M478.6 469.4h0M267.8 483.3h0M304.7 487.5h0M343.2 489.5h0M462.7 491.1h0M283.2 502.8h0M362.3 503.1h0M434.4 499.3h0M442.9 500.8h0M336.4 514.3h0M480 515.5h0M287.5 524.5h0M409.2 534.3h0M420.8 535.8h0M454.4 535.6h0M479.2 536.5h0M345.5 543.3h0M434.6 546.7h0M458.1 551.3h0M263.7 561.1h0M327.4 561.9h0M480.1 559.7h0M260.4 579.8h0M365.7 586.1h0M416.7 585.3h0M261.6 595.9h0M293.2 598.6h0M339.6 598.2h0M396.8 591.5h0M447.1 592.5h0M261.3 608.8h0M270.6 608h0M413.6 611.8h0M318.5 619.8h0M331.2 615.5h0M350.9 617.8h0M419.6 618.4h0M459.7 617.9h0M411.5 632.5h0M429.3 636.1h0M464.3 629.3h0M282.6 640.3h0M322.4 648.1h0M339 644.4h0M449 649.4h0M276.2 652.7h0M346 656.8h0M356.3 652.5h0M472.2 657h0M481.7 660.3h0M297 672.6h0M318.7 665.4h0M418.7 669.1h0M430.7 671.5h0M371.7 679.5h0M387.9 676.5h0M415.4 681h0M430.1 679.1h0M478.6 676.3h0" stroke="#a89048" stroke-width="1.3" opacity="0.7"/>
</g></g>
<path d="M196.1,671.0V669.4H241.7V671.0" stroke="#ee2a1c" stroke-width="0.9" fill="none"/>
<text x="218.9" y="675.0" text-anchor="middle" style="font-family:'Liberation Sans',sans-serif;font-size:5px" fill="#ee2a1c">50 μm</text>
<path d="M428.2,671.0V669.4H473.3V671.0" stroke="#ee2a1c" stroke-width="0.9" fill="none"/>
<text x="450.8" y="675.0" text-anchor="middle" style="font-family:'Liberation Sans',sans-serif;font-size:5px" fill="#ee2a1c">50 μm</text>
<text x="604.9" y="466.2" text-anchor="middle" style="font-family:'Liberation Sans',sans-serif;font-size:8.8px;font-weight:bold" fill="#000">ALKBH5</text>
<text transform="translate(511.7,569) rotate(-90)" text-anchor="middle" style="font-family:'Liberation Sans',sans-serif;font-size:8.8px;font-weight:bold" fill="#000">Fluorescence semi quantitative</text>
<rect x="552.2" y="601.0" width="41" height="61.8" fill="#f19aa0" stroke="#ea5c68" stroke-width="1.6"/>
<rect x="618.3" y="534.9" width="40.2" height="127.9" fill="#aefca2" stroke="#4ded3c" stroke-width="1.6"/>
<line x1="529" y1="475.5" x2="529" y2="663.3" stroke="#222" stroke-width="1"/>
<line x1="528.5" y1="662.9" x2="683.6" y2="662.9" stroke="#666" stroke-width="1"/>
<line x1="524.8" y1="662.8" x2="529" y2="662.8" stroke="#222" stroke-width="1"/>
<text x="523.2" y="665.7" text-anchor="end" style="font-family:'Liberation Sans',sans-serif;font-size:8.2px" fill="#111">0</text>
<line x1="524.8" y1="600.4" x2="529" y2="600.4" stroke="#222" stroke-width="1"/>
<text x="523.2" y="603.3" text-anchor="end" style="font-family:'Liberation Sans',sans-serif;font-size:8.2px" fill="#111">1</text>
<line x1="524.8" y1="538.0" x2="529" y2="538.0" stroke="#222" stroke-width="1"/>
<text x="523.2" y="540.9" text-anchor="end" style="font-family:'Liberation Sans',sans-serif;font-size:8.2px" fill="#111">2</text>
<line x1="524.8" y1="475.6" x2="529" y2="475.6" stroke="#222" stroke-width="1"/>
<text x="523.2" y="478.5" text-anchor="end" style="font-family:'Liberation Sans',sans-serif;font-size:8.2px" fill="#111">3</text>
<line x1="572.6" y1="662.9" x2="572.6" y2="666.5" stroke="#222" stroke-width="1"/>
<line x1="638.3" y1="662.9" x2="638.3" y2="666.5" stroke="#222" stroke-width="1"/>
<text x="572.6" y="678.8" text-anchor="middle" style="font-family:'Liberation Sans',sans-serif;font-size:8.7px" fill="#111">Adjacent normal</text>
<text x="638.4" y="678.8" text-anchor="middle" style="font-family:'Liberation Sans',sans-serif;font-size:8.7px" fill="#111">Tumor</text>
<path d="M572.6,583.6V617.3M562.2,583.6H583.6M562.2,617.3H583.6" stroke="#e8505c" stroke-width="1" fill="none"/>
<path d="M637.8,516.2V552.7M626.9,516.2H648.2M626.9,552.7H648.2" stroke="#3fe03a" stroke-width="1" fill="none"/>
<path d="M568.9,576.3H576.3L572.6,581.8Z" fill="#000"/>
<path d="M568.9,585.8H576.3L572.6,591.3Z" fill="#000"/>
<path d="M568.9,599.3H576.3L572.6,604.8Z" fill="#000"/>
<path d="M568.9,609.2H576.3L572.6,614.7Z" fill="#000"/>
<path d="M568.9,618.2H576.3L572.6,623.7Z" fill="#000"/>
<ellipse cx="637.7" cy="507.5" rx="3.6" ry="2.9" fill="#000"/>
<ellipse cx="637.7" cy="526.4" rx="3.6" ry="2.9" fill="#000"/>
<ellipse cx="630.2" cy="539.9" rx="3.6" ry="2.9" fill="#000"/>
<ellipse cx="644.5" cy="544" rx="3.6" ry="2.9" fill="#000"/>
<ellipse cx="637.7" cy="554" rx="3.6" ry="2.9" fill="#000"/>
<path d="M575.6,500.2V492.4H635.6V500.2" stroke="#222" stroke-width="0.9" fill="none"/>
<text x="605.3" y="490.5" text-anchor="middle" style="font-family:'Liberation Sans',sans-serif;font-size:8.5px" fill="#111">p&lt;0.001</text>
<text x="605.3" y="482" text-anchor="middle" style="font-family:'Liberation Sans',sans-serif;font-size:8.5px" fill="#111">***</text>
</svg>
</body></html>
